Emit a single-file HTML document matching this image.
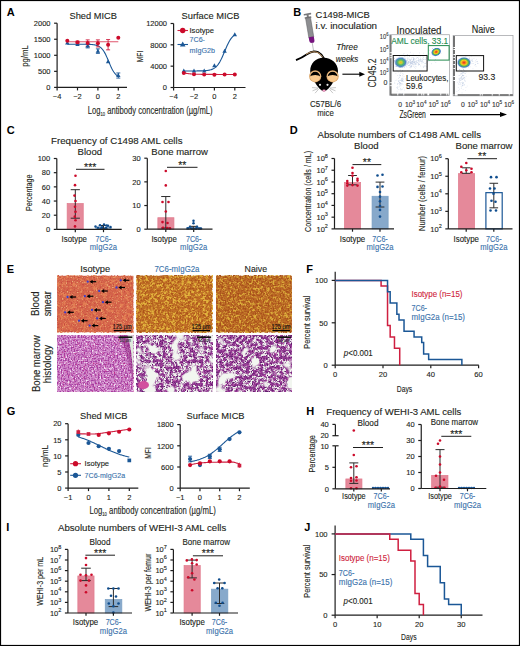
<!DOCTYPE html>
<html><head><meta charset="utf-8"><style>
html,body{margin:0;padding:0;background:#fff;}
svg{display:block;}
text{font-family:"Liberation Sans", sans-serif;}
</style></head><body>
<svg width="520" height="646" viewBox="0 0 520 646" fill="#231f20">
<rect x="0" y="0" width="520" height="646" fill="#fff"/>
<text x="6.80" y="16.00" font-size="11" fill="#000" font-weight="bold" >A</text>
<text x="93.20" y="19.40" font-size="9.6" text-anchor="middle" stroke="#231f20" stroke-width="0.12" textLength="47.5" lengthAdjust="spacingAndGlyphs" >Shed MICB</text>
<line x1="57.10" y1="23.20" x2="57.10" y2="87.40" stroke="#1e1e1e" stroke-width="1.2" />
<line x1="54.10" y1="23.20" x2="57.10" y2="23.20" stroke="#1e1e1e" stroke-width="1.2" />
<text stroke="#231f20" stroke-width="0.12" x="50.50" y="25.90" font-size="7.5" text-anchor="end">2000</text>
<line x1="54.10" y1="39.25" x2="57.10" y2="39.25" stroke="#1e1e1e" stroke-width="1.2" />
<text stroke="#231f20" stroke-width="0.12" x="50.50" y="41.95" font-size="7.5" text-anchor="end">1500</text>
<line x1="54.10" y1="55.30" x2="57.10" y2="55.30" stroke="#1e1e1e" stroke-width="1.2" />
<text stroke="#231f20" stroke-width="0.12" x="50.50" y="58.00" font-size="7.5" text-anchor="end">1000</text>
<line x1="54.10" y1="71.35" x2="57.10" y2="71.35" stroke="#1e1e1e" stroke-width="1.2" />
<text stroke="#231f20" stroke-width="0.12" x="50.50" y="74.05" font-size="7.5" text-anchor="end">500</text>
<line x1="54.10" y1="87.40" x2="57.10" y2="87.40" stroke="#1e1e1e" stroke-width="1.2" />
<text stroke="#231f20" stroke-width="0.12" x="50.50" y="90.10" font-size="7.5" text-anchor="end">0</text>
<line x1="57.10" y1="87.40" x2="127.00" y2="87.40" stroke="#1e1e1e" stroke-width="1.2" />
<line x1="57.10" y1="87.40" x2="57.10" y2="90.40" stroke="#1e1e1e" stroke-width="1.2" />
<text x="57.10" y="99.00" font-size="7.5" text-anchor="middle" stroke="#231f20" stroke-width="0.12" >−4</text>
<line x1="77.50" y1="87.40" x2="77.50" y2="90.40" stroke="#1e1e1e" stroke-width="1.2" />
<text x="77.50" y="99.00" font-size="7.5" text-anchor="middle" stroke="#231f20" stroke-width="0.12" >−2</text>
<line x1="97.90" y1="87.40" x2="97.90" y2="90.40" stroke="#1e1e1e" stroke-width="1.2" />
<text x="97.90" y="99.00" font-size="7.5" text-anchor="middle" stroke="#231f20" stroke-width="0.12" >0</text>
<line x1="118.30" y1="87.40" x2="118.30" y2="90.40" stroke="#1e1e1e" stroke-width="1.2" />
<text x="118.30" y="99.00" font-size="7.5" text-anchor="middle" stroke="#231f20" stroke-width="0.12" >2</text>
<text x="28.00" y="56.00" font-size="9.5" text-anchor="middle" stroke="#231f20" stroke-width="0.12" textLength="21.5" lengthAdjust="spacingAndGlyphs" transform="rotate(-90 28.00 56.00)" >pg/mL</text>
<path d="M67.30,44.23 L67.94,44.23 L68.58,44.23 L69.21,44.23 L69.85,44.23 L70.49,44.23 L71.12,44.23 L71.76,44.23 L72.40,44.23 L73.04,44.23 L73.67,44.23 L74.31,44.23 L74.95,44.23 L75.59,44.23 L76.22,44.23 L76.86,44.23 L77.50,44.23 L78.14,44.23 L78.78,44.23 L79.41,44.23 L80.05,44.24 L80.69,44.24 L81.33,44.24 L81.96,44.24 L82.60,44.25 L83.24,44.25 L83.88,44.26 L84.51,44.26 L85.15,44.27 L85.79,44.28 L86.42,44.29 L87.06,44.30 L87.70,44.32 L88.34,44.34 L88.97,44.36 L89.61,44.39 L90.25,44.42 L90.89,44.45 L91.53,44.50 L92.16,44.55 L92.80,44.62 L93.44,44.69 L94.07,44.78 L94.71,44.89 L95.35,45.02 L95.99,45.17 L96.62,45.35 L97.26,45.56 L97.90,45.81 L98.54,46.11 L99.17,46.46 L99.81,46.86 L100.45,47.33 L101.09,47.88 L101.72,48.51 L102.36,49.23 L103.00,50.05 L103.64,50.97 L104.28,52.00 L104.91,53.13 L105.55,54.37 L106.19,55.69 L106.82,57.10 L107.46,58.58 L108.10,60.09 L108.74,61.63 L109.38,63.16 L110.01,64.66 L110.65,66.11 L111.29,67.49 L111.92,68.78 L112.56,69.97 L113.20,71.06 L113.84,72.05 L114.47,72.93 L115.11,73.71 L115.75,74.39 L116.39,74.99 L117.03,75.50 L117.66,75.95 L118.30,76.33" stroke="#1b5796" stroke-width="1.1" fill="none" />
<line x1="67.30" y1="41.82" x2="118.30" y2="41.82" stroke="#e0566e" stroke-width="1.1" />
<line x1="87.70" y1="44.06" x2="87.70" y2="47.92" stroke="#1b5796" stroke-width="0.9" />
<line x1="85.70" y1="44.06" x2="89.70" y2="44.06" stroke="#1b5796" stroke-width="0.9" />
<line x1="85.70" y1="47.92" x2="89.70" y2="47.92" stroke="#1b5796" stroke-width="0.9" />
<line x1="97.90" y1="48.88" x2="97.90" y2="53.37" stroke="#1b5796" stroke-width="0.9" />
<line x1="95.90" y1="48.88" x2="99.90" y2="48.88" stroke="#1b5796" stroke-width="0.9" />
<line x1="95.90" y1="53.37" x2="99.90" y2="53.37" stroke="#1b5796" stroke-width="0.9" />
<line x1="118.30" y1="72.96" x2="118.30" y2="78.09" stroke="#1b5796" stroke-width="0.9" />
<line x1="116.30" y1="72.96" x2="120.30" y2="72.96" stroke="#1b5796" stroke-width="0.9" />
<line x1="116.30" y1="78.09" x2="120.30" y2="78.09" stroke="#1b5796" stroke-width="0.9" />
<line x1="87.70" y1="39.89" x2="87.70" y2="46.31" stroke="#cf1f40" stroke-width="0.9" />
<line x1="85.70" y1="39.89" x2="89.70" y2="39.89" stroke="#cf1f40" stroke-width="0.9" />
<line x1="85.70" y1="46.31" x2="89.70" y2="46.31" stroke="#cf1f40" stroke-width="0.9" />
<line x1="97.90" y1="39.89" x2="97.90" y2="46.95" stroke="#cf1f40" stroke-width="0.9" />
<line x1="95.90" y1="39.89" x2="99.90" y2="39.89" stroke="#cf1f40" stroke-width="0.9" />
<line x1="95.90" y1="46.95" x2="99.90" y2="46.95" stroke="#cf1f40" stroke-width="0.9" />
<line x1="108.10" y1="39.57" x2="108.10" y2="49.84" stroke="#cf1f40" stroke-width="0.9" />
<line x1="106.10" y1="39.57" x2="110.10" y2="39.57" stroke="#cf1f40" stroke-width="0.9" />
<line x1="106.10" y1="49.84" x2="110.10" y2="49.84" stroke="#cf1f40" stroke-width="0.9" />
<line x1="77.50" y1="41.18" x2="77.50" y2="43.74" stroke="#cf1f40" stroke-width="0.9" />
<line x1="75.50" y1="41.18" x2="79.50" y2="41.18" stroke="#cf1f40" stroke-width="0.9" />
<line x1="75.50" y1="43.74" x2="79.50" y2="43.74" stroke="#cf1f40" stroke-width="0.9" />
<path d="M67.30,40.65 L69.50,44.61 L65.10,44.61 Z" fill="#1b5796"/>
<path d="M77.50,41.93 L79.70,45.89 L75.30,45.89 Z" fill="#1b5796"/>
<path d="M87.70,43.54 L89.90,47.50 L85.50,47.50 Z" fill="#1b5796"/>
<path d="M97.90,48.67 L100.10,52.63 L95.70,52.63 Z" fill="#1b5796"/>
<path d="M108.10,59.26 L110.30,63.22 L105.90,63.22 Z" fill="#1b5796"/>
<path d="M118.30,73.07 L120.50,77.03 L116.10,77.03 Z" fill="#1b5796"/>
<circle cx="67.30" cy="40.69" r="2.0" fill="#cc0a2a" />
<circle cx="77.50" cy="42.14" r="2.0" fill="#cc0a2a" />
<circle cx="87.70" cy="42.94" r="2.0" fill="#cc0a2a" />
<circle cx="97.90" cy="43.26" r="2.0" fill="#cc0a2a" />
<circle cx="108.10" cy="44.71" r="2.0" fill="#cc0a2a" />
<circle cx="118.30" cy="37.65" r="2.0" fill="#cc0a2a" />
<text x="210.50" y="19.40" font-size="9.6" text-anchor="middle" stroke="#231f20" stroke-width="0.12" textLength="58" lengthAdjust="spacingAndGlyphs" >Surface MICB</text>
<line x1="173.60" y1="23.50" x2="173.60" y2="87.50" stroke="#1e1e1e" stroke-width="1.2" />
<line x1="170.60" y1="23.50" x2="173.60" y2="23.50" stroke="#1e1e1e" stroke-width="1.2" />
<text stroke="#231f20" stroke-width="0.12" x="167.00" y="26.20" font-size="7.5" text-anchor="end">12000</text>
<line x1="170.60" y1="44.83" x2="173.60" y2="44.83" stroke="#1e1e1e" stroke-width="1.2" />
<text stroke="#231f20" stroke-width="0.12" x="167.00" y="47.53" font-size="7.5" text-anchor="end">8000</text>
<line x1="170.60" y1="66.17" x2="173.60" y2="66.17" stroke="#1e1e1e" stroke-width="1.2" />
<text stroke="#231f20" stroke-width="0.12" x="167.00" y="68.87" font-size="7.5" text-anchor="end">4000</text>
<line x1="170.60" y1="87.50" x2="173.60" y2="87.50" stroke="#1e1e1e" stroke-width="1.2" />
<text stroke="#231f20" stroke-width="0.12" x="167.00" y="90.20" font-size="7.5" text-anchor="end">0</text>
<line x1="173.60" y1="87.50" x2="245.50" y2="87.50" stroke="#1e1e1e" stroke-width="1.2" />
<line x1="173.60" y1="87.50" x2="173.60" y2="90.50" stroke="#1e1e1e" stroke-width="1.2" />
<text x="173.60" y="99.10" font-size="7.5" text-anchor="middle" stroke="#231f20" stroke-width="0.12" >−4</text>
<line x1="194.00" y1="87.50" x2="194.00" y2="90.50" stroke="#1e1e1e" stroke-width="1.2" />
<text x="194.00" y="99.10" font-size="7.5" text-anchor="middle" stroke="#231f20" stroke-width="0.12" >−2</text>
<line x1="214.40" y1="87.50" x2="214.40" y2="90.50" stroke="#1e1e1e" stroke-width="1.2" />
<text x="214.40" y="99.10" font-size="7.5" text-anchor="middle" stroke="#231f20" stroke-width="0.12" >0</text>
<line x1="234.80" y1="87.50" x2="234.80" y2="90.50" stroke="#1e1e1e" stroke-width="1.2" />
<text x="234.80" y="99.10" font-size="7.5" text-anchor="middle" stroke="#231f20" stroke-width="0.12" >2</text>
<text x="143.00" y="56.50" font-size="9.5" text-anchor="middle" stroke="#231f20" stroke-width="0.12" textLength="11.5" lengthAdjust="spacingAndGlyphs" transform="rotate(-90 143.00 56.50)" >MFI</text>
<path d="M183.80,70.97 L184.44,70.96 L185.07,70.96 L185.71,70.96 L186.35,70.96 L186.99,70.96 L187.62,70.96 L188.26,70.96 L188.90,70.96 L189.54,70.96 L190.17,70.96 L190.81,70.96 L191.45,70.96 L192.09,70.95 L192.72,70.95 L193.36,70.95 L194.00,70.95 L194.64,70.94 L195.27,70.94 L195.91,70.94 L196.55,70.93 L197.19,70.92 L197.82,70.92 L198.46,70.91 L199.10,70.90 L199.74,70.89 L200.38,70.87 L201.01,70.86 L201.65,70.84 L202.29,70.81 L202.92,70.79 L203.56,70.76 L204.20,70.72 L204.84,70.68 L205.47,70.63 L206.11,70.58 L206.75,70.51 L207.39,70.43 L208.02,70.34 L208.66,70.24 L209.30,70.11 L209.94,69.97 L210.57,69.81 L211.21,69.61 L211.85,69.39 L212.49,69.13 L213.12,68.84 L213.76,68.49 L214.40,68.10 L215.04,67.65 L215.67,67.14 L216.31,66.56 L216.95,65.90 L217.59,65.16 L218.22,64.33 L218.86,63.42 L219.50,62.41 L220.14,61.30 L220.77,60.11 L221.41,58.83 L222.05,57.47 L222.69,56.04 L223.32,54.56 L223.96,53.04 L224.60,51.50 L225.24,49.96 L225.88,48.44 L226.51,46.96 L227.15,45.53 L227.79,44.17 L228.42,42.89 L229.06,41.70 L229.70,40.59 L230.34,39.58 L230.97,38.67 L231.61,37.84 L232.25,37.10 L232.89,36.44 L233.52,35.86 L234.16,35.35 L234.80,34.90" stroke="#1b5796" stroke-width="1.1" fill="none" />
<path d="M183.80,72.83 L184.44,72.99 L185.07,73.12 L185.71,73.25 L186.35,73.36 L186.99,73.46 L187.62,73.56 L188.26,73.64 L188.90,73.71 L189.54,73.78 L190.17,73.84 L190.81,73.90 L191.45,73.95 L192.09,74.00 L192.72,74.04 L193.36,74.08 L194.00,74.11 L194.64,74.14 L195.27,74.17 L195.91,74.19 L196.55,74.22 L197.19,74.24 L197.82,74.26 L198.46,74.27 L199.10,74.29 L199.74,74.30 L200.38,74.31 L201.01,74.33 L201.65,74.34 L202.29,74.35 L202.92,74.35 L203.56,74.36 L204.20,74.37 L204.84,74.37 L205.47,74.38 L206.11,74.39 L206.75,74.39 L207.39,74.39 L208.02,74.40 L208.66,74.40 L209.30,74.40 L209.94,74.41 L210.57,74.41 L211.21,74.41 L211.85,74.41 L212.49,74.42 L213.12,74.42 L213.76,74.42 L214.40,74.42 L215.04,74.42 L215.67,74.42 L216.31,74.42 L216.95,74.42 L217.59,74.43 L218.22,74.43 L218.86,74.43 L219.50,74.43 L220.14,74.43 L220.77,74.43 L221.41,74.43 L222.05,74.43 L222.69,74.43 L223.32,74.43 L223.96,74.43 L224.60,74.43 L225.24,74.43 L225.88,74.43 L226.51,74.43 L227.15,74.43 L227.79,74.43 L228.42,74.43 L229.06,74.43 L229.70,74.43 L230.34,74.43 L230.97,74.43 L231.61,74.43 L232.25,74.43 L232.89,74.43 L233.52,74.43 L234.16,74.43 L234.80,74.43" stroke="#cf1f40" stroke-width="1.1" fill="none" />
<path d="M183.80,68.51 L186.00,72.47 L181.60,72.47 Z" fill="#1b5796"/>
<path d="M194.00,68.51 L196.20,72.47 L191.80,72.47 Z" fill="#1b5796"/>
<path d="M204.20,68.51 L206.40,72.47 L202.00,72.47 Z" fill="#1b5796"/>
<path d="M214.40,63.18 L216.60,67.14 L212.20,67.14 Z" fill="#1b5796"/>
<path d="M224.60,48.78 L226.80,52.74 L222.40,52.74 Z" fill="#1b5796"/>
<path d="M234.80,32.24 L237.00,36.20 L232.60,36.20 Z" fill="#1b5796"/>
<circle cx="183.80" cy="73.10" r="2.0" fill="#cc0a2a" />
<circle cx="194.00" cy="74.17" r="2.0" fill="#cc0a2a" />
<circle cx="204.20" cy="74.43" r="2.0" fill="#cc0a2a" />
<circle cx="214.40" cy="74.70" r="2.0" fill="#cc0a2a" />
<circle cx="224.60" cy="74.43" r="2.0" fill="#cc0a2a" />
<circle cx="234.80" cy="74.43" r="2.0" fill="#cc0a2a" />
<line x1="177.50" y1="30.50" x2="188.00" y2="30.50" stroke="#cf1f40" stroke-width="1.1" />
<circle cx="182.70" cy="30.50" r="2.7" fill="#cc0a2a" />
<text x="189.50" y="33.30" font-size="7.8" stroke="#231f20" stroke-width="0.12" textLength="24.5" lengthAdjust="spacingAndGlyphs" >Isotype</text>
<line x1="177.50" y1="44.50" x2="188.00" y2="44.50" stroke="#1b5796" stroke-width="1.1" />
<path d="M182.70,41.38 L185.50,46.42 L179.90,46.42 Z" fill="#1b5796"/>
<text x="189.50" y="42.40" font-size="7.8" fill="#3a72ab" stroke="#3a72ab" stroke-width="0.12" textLength="15.5" lengthAdjust="spacingAndGlyphs" >7C6-</text>
<text x="189.50" y="52.60" font-size="7.8" fill="#3a72ab" stroke="#3a72ab" stroke-width="0.12" textLength="25.5" lengthAdjust="spacingAndGlyphs" >mIgG2b</text>
<text stroke="#231f20" stroke-width="0.12" x="87.8" y="114" font-size="10.2" textLength="124.8" lengthAdjust="spacingAndGlyphs">Log<tspan dy="2" font-size="5.5">10</tspan><tspan dy="-2"> antibody concentration (µg/mL)</tspan></text>
<text x="293.20" y="16.00" font-size="11" fill="#000" font-weight="bold" >B</text>
<text x="315.60" y="17.60" font-size="9.6" stroke="#231f20" stroke-width="0.12" textLength="54.3" lengthAdjust="spacingAndGlyphs" >C1498-MICB</text>
<text x="315.60" y="29.00" font-size="9.6" stroke="#231f20" stroke-width="0.12" textLength="61.5" lengthAdjust="spacingAndGlyphs" >i.v. inoculation</text>
<g transform="translate(307.3,13.4) rotate(-9.5)"><rect x="-3.8" y="0" width="7.6" height="1.6" rx="0.6" fill="#77787b"/><rect x="-1" y="1" width="2" height="3" fill="#77787b"/><rect x="-3.4" y="3.4" width="6.8" height="1.5" rx="0.5" fill="#77787b"/><rect x="-2.5" y="4.6" width="5" height="19.6" fill="#8d8e91" stroke="#5c5d60" stroke-width="0.5"/><path d="M-2.6,23.8 H2.6 V27.6 Q2.6,30 0,30 Q-2.6,30 -2.6,27.6 Z" fill="#76137e"/><line x1="0" y1="29.5" x2="0" y2="38.5" stroke="#a6a7aa" stroke-width="0.7"/></g>
<path d="M296,60.2 C300,58.5 303,57 307,54.2 C310,52 314,50.6 318,52.2 C320.5,53.4 322.5,56 324,58.5" stroke="#000" stroke-width="1.9" fill="none" />
<path d="M306,54.4 C309,52.4 313.5,51 317.3,52.4 C319.8,53.5 321.5,55.3 322.7,57.4" stroke="#e0ad73" stroke-width="0.9" fill="none" />
<path d="M323.6,57.8 C331.6,57.8 338,63.5 338,71 C338,75.5 335.6,79.5 333,82.5 C330.5,86.5 327.5,90.6 324,91.6 C320.5,90.6 317.5,86.5 315,82.5 C312.4,79.5 310.2,75.5 310.2,71 C310.2,63.5 315.6,57.8 323.6,57.8 Z" stroke="none" stroke-width="0" fill="#000" />
<circle cx="315.20" cy="76.30" r="6.1" fill="#d9a468" />
<circle cx="315.20" cy="76.30" r="5.4" fill="#f9ca90" />
<path d="M310.30,76.60 A4.9,4.9 0 0 1 320.10,76.60 A5.0,2.0 0 0 0 310.30,76.60 Z" stroke="none" stroke-width="0" fill="#000" />
<circle cx="332.60" cy="76.30" r="6.1" fill="#d9a468" />
<circle cx="332.60" cy="76.30" r="5.4" fill="#f9ca90" />
<path d="M327.70,76.60 A4.9,4.9 0 0 1 337.50,76.60 A5.0,2.0 0 0 0 327.70,76.60 Z" stroke="none" stroke-width="0" fill="#000" />
<circle cx="320.00" cy="84.80" r="1.1" fill="#e9e9e9" />
<circle cx="327.50" cy="84.80" r="1.1" fill="#e9e9e9" />
<ellipse cx="324" cy="90.7" rx="1.7" ry="1.1" fill="#f5a0c8"/>
<line x1="318.00" y1="88.00" x2="312.00" y2="87.60" stroke="#8e8e8e" stroke-width="0.5" />
<line x1="318.00" y1="88.60" x2="312.50" y2="90.80" stroke="#8e8e8e" stroke-width="0.5" />
<line x1="318.60" y1="89.20" x2="315.00" y2="93.20" stroke="#8e8e8e" stroke-width="0.5" />
<line x1="330.00" y1="88.00" x2="336.00" y2="87.60" stroke="#8e8e8e" stroke-width="0.5" />
<line x1="330.00" y1="88.60" x2="335.50" y2="90.80" stroke="#8e8e8e" stroke-width="0.5" />
<line x1="329.40" y1="89.20" x2="333.00" y2="93.20" stroke="#8e8e8e" stroke-width="0.5" />
<line x1="342.40" y1="74.20" x2="361.50" y2="74.20" stroke="#000" stroke-width="1.1" />
<path d="M365,74.2 L359.3,71.7 L359.3,76.7 Z" fill="#000"/>
<text x="347.00" y="50.30" font-size="9" text-anchor="middle" stroke="#231f20" stroke-width="0.12" font-style="italic" textLength="21.5" lengthAdjust="spacingAndGlyphs" >Three</text>
<text x="347.00" y="61.50" font-size="9" text-anchor="middle" stroke="#231f20" stroke-width="0.12" font-style="italic" textLength="22.5" lengthAdjust="spacingAndGlyphs" >weeks</text>
<text x="325.60" y="106.50" font-size="9" text-anchor="middle" stroke="#231f20" stroke-width="0.12" textLength="31" lengthAdjust="spacingAndGlyphs" >C57BL/6</text>
<text x="325.60" y="116.30" font-size="9" text-anchor="middle" stroke="#231f20" stroke-width="0.12" textLength="16.5" lengthAdjust="spacingAndGlyphs" >mice</text>
<defs><radialGradient id="gl"><stop offset="0" stop-color="#f3b31c"/><stop offset="0.2" stop-color="#c6d23a"/><stop offset="0.45" stop-color="#52b56a"/><stop offset="0.72" stop-color="#4c86c4"/><stop offset="1" stop-color="#9db3dc" stop-opacity="0"/></radialGradient><radialGradient id="gr"><stop offset="0" stop-color="#e4261c"/><stop offset="0.22" stop-color="#f47b20"/><stop offset="0.42" stop-color="#f2d01f"/><stop offset="0.6" stop-color="#5cb94a"/><stop offset="0.8" stop-color="#3f7fc4"/><stop offset="1" stop-color="#9db3dc" stop-opacity="0"/></radialGradient></defs>
<rect x="389.80" y="34.70" width="59.80" height="60.80" fill="none" stroke="#a7a9ac" stroke-width="0.8" />
<line x1="389.80" y1="35.70" x2="391.60" y2="35.70" stroke="#000" stroke-width="0.55" />
<line x1="389.80" y1="36.70" x2="391.60" y2="36.70" stroke="#000" stroke-width="0.55" />
<line x1="389.80" y1="37.70" x2="391.60" y2="37.70" stroke="#000" stroke-width="0.55" />
<line x1="389.80" y1="38.70" x2="391.60" y2="38.70" stroke="#000" stroke-width="0.55" />
<line x1="389.80" y1="39.70" x2="391.60" y2="39.70" stroke="#000" stroke-width="0.55" />
<line x1="389.80" y1="40.70" x2="391.60" y2="40.70" stroke="#000" stroke-width="0.55" />
<line x1="389.80" y1="41.70" x2="391.60" y2="41.70" stroke="#000" stroke-width="0.55" />
<line x1="389.80" y1="42.70" x2="391.60" y2="42.70" stroke="#000" stroke-width="0.55" />
<line x1="389.80" y1="43.70" x2="391.60" y2="43.70" stroke="#000" stroke-width="0.55" />
<line x1="389.80" y1="44.70" x2="391.60" y2="44.70" stroke="#000" stroke-width="0.55" />
<line x1="389.80" y1="45.70" x2="391.60" y2="45.70" stroke="#000" stroke-width="0.55" />
<line x1="389.80" y1="46.70" x2="391.60" y2="46.70" stroke="#000" stroke-width="0.55" />
<line x1="389.80" y1="47.70" x2="391.60" y2="47.70" stroke="#000" stroke-width="0.55" />
<line x1="389.80" y1="48.70" x2="391.60" y2="48.70" stroke="#000" stroke-width="0.55" />
<line x1="389.80" y1="49.70" x2="391.60" y2="49.70" stroke="#000" stroke-width="0.55" />
<line x1="389.80" y1="50.70" x2="391.60" y2="50.70" stroke="#000" stroke-width="0.55" />
<line x1="389.80" y1="51.70" x2="391.60" y2="51.70" stroke="#000" stroke-width="0.55" />
<line x1="389.80" y1="53.70" x2="391.60" y2="53.70" stroke="#000" stroke-width="0.55" />
<line x1="389.80" y1="54.70" x2="391.60" y2="54.70" stroke="#000" stroke-width="0.55" />
<line x1="389.80" y1="56.70" x2="391.60" y2="56.70" stroke="#000" stroke-width="0.55" />
<line x1="389.80" y1="58.70" x2="391.60" y2="58.70" stroke="#000" stroke-width="0.55" />
<line x1="389.80" y1="59.70" x2="391.60" y2="59.70" stroke="#000" stroke-width="0.55" />
<line x1="389.80" y1="60.70" x2="391.60" y2="60.70" stroke="#000" stroke-width="0.55" />
<line x1="389.80" y1="61.70" x2="391.60" y2="61.70" stroke="#000" stroke-width="0.55" />
<line x1="389.80" y1="62.70" x2="391.60" y2="62.70" stroke="#000" stroke-width="0.55" />
<line x1="389.80" y1="63.70" x2="391.60" y2="63.70" stroke="#000" stroke-width="0.55" />
<line x1="389.80" y1="64.70" x2="391.60" y2="64.70" stroke="#000" stroke-width="0.55" />
<line x1="389.80" y1="65.70" x2="391.60" y2="65.70" stroke="#000" stroke-width="0.55" />
<line x1="389.80" y1="66.70" x2="391.60" y2="66.70" stroke="#000" stroke-width="0.55" />
<line x1="389.80" y1="67.70" x2="391.60" y2="67.70" stroke="#000" stroke-width="0.55" />
<line x1="389.80" y1="68.70" x2="391.60" y2="68.70" stroke="#000" stroke-width="0.55" />
<line x1="389.80" y1="69.70" x2="391.60" y2="69.70" stroke="#000" stroke-width="0.55" />
<line x1="389.80" y1="70.70" x2="391.60" y2="70.70" stroke="#000" stroke-width="0.55" />
<line x1="389.80" y1="71.70" x2="391.60" y2="71.70" stroke="#000" stroke-width="0.55" />
<line x1="389.80" y1="72.70" x2="391.60" y2="72.70" stroke="#000" stroke-width="0.55" />
<line x1="389.80" y1="73.70" x2="391.60" y2="73.70" stroke="#000" stroke-width="0.55" />
<line x1="389.80" y1="74.70" x2="391.60" y2="74.70" stroke="#000" stroke-width="0.55" />
<line x1="389.80" y1="75.70" x2="391.60" y2="75.70" stroke="#000" stroke-width="0.55" />
<line x1="389.80" y1="76.70" x2="391.60" y2="76.70" stroke="#000" stroke-width="0.55" />
<line x1="389.80" y1="77.70" x2="391.60" y2="77.70" stroke="#000" stroke-width="0.55" />
<line x1="389.80" y1="78.70" x2="391.60" y2="78.70" stroke="#000" stroke-width="0.55" />
<line x1="389.80" y1="79.70" x2="391.60" y2="79.70" stroke="#000" stroke-width="0.55" />
<line x1="389.80" y1="80.70" x2="391.60" y2="80.70" stroke="#000" stroke-width="0.55" />
<line x1="389.80" y1="81.70" x2="391.60" y2="81.70" stroke="#000" stroke-width="0.55" />
<line x1="389.80" y1="83.70" x2="391.60" y2="83.70" stroke="#000" stroke-width="0.55" />
<line x1="389.80" y1="84.70" x2="391.60" y2="84.70" stroke="#000" stroke-width="0.55" />
<line x1="389.80" y1="86.70" x2="391.60" y2="86.70" stroke="#000" stroke-width="0.55" />
<line x1="389.80" y1="87.70" x2="391.60" y2="87.70" stroke="#000" stroke-width="0.55" />
<line x1="389.80" y1="88.70" x2="391.60" y2="88.70" stroke="#000" stroke-width="0.55" />
<line x1="389.80" y1="89.70" x2="391.60" y2="89.70" stroke="#000" stroke-width="0.55" />
<line x1="389.80" y1="90.70" x2="391.60" y2="90.70" stroke="#000" stroke-width="0.55" />
<line x1="389.80" y1="91.70" x2="391.60" y2="91.70" stroke="#000" stroke-width="0.55" />
<line x1="389.80" y1="92.70" x2="391.60" y2="92.70" stroke="#000" stroke-width="0.55" />
<line x1="389.80" y1="93.70" x2="391.60" y2="93.70" stroke="#000" stroke-width="0.55" />
<line x1="389.80" y1="94.70" x2="391.60" y2="94.70" stroke="#000" stroke-width="0.55" />
<line x1="391.80" y1="95.50" x2="391.80" y2="93.70" stroke="#000" stroke-width="0.55" />
<line x1="392.80" y1="95.50" x2="392.80" y2="93.70" stroke="#000" stroke-width="0.55" />
<line x1="393.80" y1="95.50" x2="393.80" y2="93.70" stroke="#000" stroke-width="0.55" />
<line x1="394.80" y1="95.50" x2="394.80" y2="93.70" stroke="#000" stroke-width="0.55" />
<line x1="395.80" y1="95.50" x2="395.80" y2="93.70" stroke="#000" stroke-width="0.55" />
<line x1="396.80" y1="95.50" x2="396.80" y2="93.70" stroke="#000" stroke-width="0.55" />
<line x1="398.80" y1="95.50" x2="398.80" y2="93.70" stroke="#000" stroke-width="0.55" />
<line x1="399.80" y1="95.50" x2="399.80" y2="93.70" stroke="#000" stroke-width="0.55" />
<line x1="400.80" y1="95.50" x2="400.80" y2="93.70" stroke="#000" stroke-width="0.55" />
<line x1="401.80" y1="95.50" x2="401.80" y2="93.70" stroke="#000" stroke-width="0.55" />
<line x1="402.80" y1="95.50" x2="402.80" y2="93.70" stroke="#000" stroke-width="0.55" />
<line x1="404.80" y1="95.50" x2="404.80" y2="93.70" stroke="#000" stroke-width="0.55" />
<line x1="405.80" y1="95.50" x2="405.80" y2="93.70" stroke="#000" stroke-width="0.55" />
<line x1="406.80" y1="95.50" x2="406.80" y2="93.70" stroke="#000" stroke-width="0.55" />
<line x1="407.80" y1="95.50" x2="407.80" y2="93.70" stroke="#000" stroke-width="0.55" />
<line x1="408.80" y1="95.50" x2="408.80" y2="93.70" stroke="#000" stroke-width="0.55" />
<line x1="409.80" y1="95.50" x2="409.80" y2="93.70" stroke="#000" stroke-width="0.55" />
<line x1="410.80" y1="95.50" x2="410.80" y2="93.70" stroke="#000" stroke-width="0.55" />
<line x1="411.80" y1="95.50" x2="411.80" y2="93.70" stroke="#000" stroke-width="0.55" />
<line x1="412.80" y1="95.50" x2="412.80" y2="93.70" stroke="#000" stroke-width="0.55" />
<line x1="413.80" y1="95.50" x2="413.80" y2="93.70" stroke="#000" stroke-width="0.55" />
<line x1="414.80" y1="95.50" x2="414.80" y2="93.70" stroke="#000" stroke-width="0.55" />
<line x1="415.80" y1="95.50" x2="415.80" y2="93.70" stroke="#000" stroke-width="0.55" />
<line x1="416.80" y1="95.50" x2="416.80" y2="93.70" stroke="#000" stroke-width="0.55" />
<line x1="418.80" y1="95.50" x2="418.80" y2="93.70" stroke="#000" stroke-width="0.55" />
<line x1="419.80" y1="95.50" x2="419.80" y2="93.70" stroke="#000" stroke-width="0.55" />
<line x1="420.80" y1="95.50" x2="420.80" y2="93.70" stroke="#000" stroke-width="0.55" />
<line x1="422.80" y1="95.50" x2="422.80" y2="93.70" stroke="#000" stroke-width="0.55" />
<line x1="424.80" y1="95.50" x2="424.80" y2="93.70" stroke="#000" stroke-width="0.55" />
<line x1="425.80" y1="95.50" x2="425.80" y2="93.70" stroke="#000" stroke-width="0.55" />
<line x1="426.80" y1="95.50" x2="426.80" y2="93.70" stroke="#000" stroke-width="0.55" />
<line x1="429.80" y1="95.50" x2="429.80" y2="93.70" stroke="#000" stroke-width="0.55" />
<line x1="430.80" y1="95.50" x2="430.80" y2="93.70" stroke="#000" stroke-width="0.55" />
<line x1="431.80" y1="95.50" x2="431.80" y2="93.70" stroke="#000" stroke-width="0.55" />
<line x1="432.80" y1="95.50" x2="432.80" y2="93.70" stroke="#000" stroke-width="0.55" />
<line x1="433.80" y1="95.50" x2="433.80" y2="93.70" stroke="#000" stroke-width="0.55" />
<line x1="434.80" y1="95.50" x2="434.80" y2="93.70" stroke="#000" stroke-width="0.55" />
<line x1="435.80" y1="95.50" x2="435.80" y2="93.70" stroke="#000" stroke-width="0.55" />
<line x1="436.80" y1="95.50" x2="436.80" y2="93.70" stroke="#000" stroke-width="0.55" />
<line x1="437.80" y1="95.50" x2="437.80" y2="93.70" stroke="#000" stroke-width="0.55" />
<line x1="438.80" y1="95.50" x2="438.80" y2="93.70" stroke="#000" stroke-width="0.55" />
<line x1="439.80" y1="95.50" x2="439.80" y2="93.70" stroke="#000" stroke-width="0.55" />
<line x1="441.80" y1="95.50" x2="441.80" y2="93.70" stroke="#000" stroke-width="0.55" />
<line x1="442.80" y1="95.50" x2="442.80" y2="93.70" stroke="#000" stroke-width="0.55" />
<line x1="443.80" y1="95.50" x2="443.80" y2="93.70" stroke="#000" stroke-width="0.55" />
<line x1="444.80" y1="95.50" x2="444.80" y2="93.70" stroke="#000" stroke-width="0.55" />
<line x1="445.80" y1="95.50" x2="445.80" y2="93.70" stroke="#000" stroke-width="0.55" />
<line x1="447.80" y1="95.50" x2="447.80" y2="93.70" stroke="#000" stroke-width="0.55" />
<circle cx="414.66" cy="58.26" r="0.35" fill="#7b97c6" fill-opacity="0.55"/>
<circle cx="408.61" cy="62.44" r="0.35" fill="#7b97c6" fill-opacity="0.55"/>
<circle cx="409.86" cy="60.59" r="0.35" fill="#7b97c6" fill-opacity="0.55"/>
<circle cx="417.62" cy="62.46" r="0.35" fill="#7b97c6" fill-opacity="0.55"/>
<circle cx="416.30" cy="64.14" r="0.35" fill="#7b97c6" fill-opacity="0.55"/>
<circle cx="412.18" cy="61.52" r="0.35" fill="#7b97c6" fill-opacity="0.55"/>
<circle cx="414.42" cy="62.78" r="0.35" fill="#7b97c6" fill-opacity="0.55"/>
<circle cx="410.66" cy="62.08" r="0.35" fill="#7b97c6" fill-opacity="0.55"/>
<circle cx="420.74" cy="58.17" r="0.35" fill="#7b97c6" fill-opacity="0.55"/>
<circle cx="416.08" cy="63.58" r="0.35" fill="#7b97c6" fill-opacity="0.55"/>
<circle cx="407.08" cy="64.15" r="0.35" fill="#7b97c6" fill-opacity="0.55"/>
<circle cx="424.54" cy="66.11" r="0.35" fill="#7b97c6" fill-opacity="0.55"/>
<circle cx="422.07" cy="61.34" r="0.35" fill="#7b97c6" fill-opacity="0.55"/>
<circle cx="408.21" cy="61.65" r="0.35" fill="#7b97c6" fill-opacity="0.55"/>
<circle cx="418.60" cy="63.37" r="0.35" fill="#7b97c6" fill-opacity="0.55"/>
<circle cx="410.43" cy="67.86" r="0.35" fill="#7b97c6" fill-opacity="0.55"/>
<circle cx="413.03" cy="62.12" r="0.35" fill="#7b97c6" fill-opacity="0.55"/>
<circle cx="422.51" cy="60.24" r="0.35" fill="#7b97c6" fill-opacity="0.55"/>
<circle cx="418.81" cy="64.89" r="0.35" fill="#7b97c6" fill-opacity="0.55"/>
<circle cx="422.87" cy="62.20" r="0.35" fill="#7b97c6" fill-opacity="0.55"/>
<circle cx="429.79" cy="60.59" r="0.35" fill="#7b97c6" fill-opacity="0.55"/>
<circle cx="409.68" cy="59.00" r="0.35" fill="#7b97c6" fill-opacity="0.55"/>
<circle cx="408.36" cy="63.03" r="0.35" fill="#7b97c6" fill-opacity="0.55"/>
<circle cx="413.53" cy="57.35" r="0.35" fill="#7b97c6" fill-opacity="0.55"/>
<circle cx="413.46" cy="58.51" r="0.35" fill="#7b97c6" fill-opacity="0.55"/>
<circle cx="414.77" cy="67.62" r="0.35" fill="#7b97c6" fill-opacity="0.55"/>
<circle cx="429.53" cy="60.87" r="0.35" fill="#7b97c6" fill-opacity="0.55"/>
<circle cx="417.74" cy="55.61" r="0.35" fill="#7b97c6" fill-opacity="0.55"/>
<circle cx="411.59" cy="59.07" r="0.35" fill="#7b97c6" fill-opacity="0.55"/>
<circle cx="403.61" cy="61.15" r="0.35" fill="#7b97c6" fill-opacity="0.55"/>
<circle cx="414.11" cy="61.65" r="0.35" fill="#7b97c6" fill-opacity="0.55"/>
<circle cx="410.72" cy="64.09" r="0.35" fill="#7b97c6" fill-opacity="0.55"/>
<circle cx="404.04" cy="53.54" r="0.35" fill="#7b97c6" fill-opacity="0.55"/>
<circle cx="391.99" cy="64.10" r="0.35" fill="#7b97c6" fill-opacity="0.55"/>
<circle cx="434.35" cy="60.86" r="0.35" fill="#7b97c6" fill-opacity="0.55"/>
<circle cx="407.81" cy="63.30" r="0.35" fill="#7b97c6" fill-opacity="0.55"/>
<circle cx="412.86" cy="63.73" r="0.35" fill="#7b97c6" fill-opacity="0.55"/>
<circle cx="415.56" cy="66.06" r="0.35" fill="#7b97c6" fill-opacity="0.55"/>
<circle cx="425.97" cy="57.68" r="0.35" fill="#7b97c6" fill-opacity="0.55"/>
<circle cx="399.01" cy="62.14" r="0.35" fill="#7b97c6" fill-opacity="0.55"/>
<circle cx="413.16" cy="60.14" r="0.35" fill="#7b97c6" fill-opacity="0.55"/>
<circle cx="401.48" cy="55.19" r="0.35" fill="#7b97c6" fill-opacity="0.55"/>
<circle cx="415.02" cy="55.95" r="0.35" fill="#7b97c6" fill-opacity="0.55"/>
<circle cx="406.41" cy="61.79" r="0.35" fill="#7b97c6" fill-opacity="0.55"/>
<circle cx="413.97" cy="58.53" r="0.35" fill="#7b97c6" fill-opacity="0.55"/>
<circle cx="419.54" cy="52.88" r="0.35" fill="#7b97c6" fill-opacity="0.55"/>
<circle cx="404.77" cy="63.60" r="0.35" fill="#7b97c6" fill-opacity="0.55"/>
<circle cx="425.66" cy="59.71" r="0.35" fill="#7b97c6" fill-opacity="0.55"/>
<circle cx="414.26" cy="63.05" r="0.35" fill="#7b97c6" fill-opacity="0.55"/>
<circle cx="423.36" cy="67.50" r="0.35" fill="#7b97c6" fill-opacity="0.55"/>
<circle cx="413.76" cy="59.71" r="0.35" fill="#7b97c6" fill-opacity="0.55"/>
<circle cx="423.66" cy="53.05" r="0.35" fill="#7b97c6" fill-opacity="0.55"/>
<circle cx="407.40" cy="58.86" r="0.35" fill="#7b97c6" fill-opacity="0.55"/>
<circle cx="407.45" cy="60.96" r="0.35" fill="#7b97c6" fill-opacity="0.55"/>
<circle cx="435.84" cy="62.31" r="0.35" fill="#7b97c6" fill-opacity="0.55"/>
<circle cx="405.51" cy="58.14" r="0.35" fill="#7b97c6" fill-opacity="0.55"/>
<circle cx="420.78" cy="60.03" r="0.35" fill="#7b97c6" fill-opacity="0.55"/>
<circle cx="423.66" cy="56.91" r="0.35" fill="#7b97c6" fill-opacity="0.55"/>
<circle cx="413.66" cy="64.01" r="0.35" fill="#7b97c6" fill-opacity="0.55"/>
<circle cx="410.22" cy="63.93" r="0.35" fill="#7b97c6" fill-opacity="0.55"/>
<circle cx="406.03" cy="60.14" r="0.35" fill="#7b97c6" fill-opacity="0.55"/>
<circle cx="407.83" cy="62.38" r="0.35" fill="#7b97c6" fill-opacity="0.55"/>
<circle cx="419.10" cy="59.80" r="0.35" fill="#7b97c6" fill-opacity="0.55"/>
<circle cx="400.50" cy="62.67" r="0.35" fill="#7b97c6" fill-opacity="0.55"/>
<circle cx="419.75" cy="59.49" r="0.35" fill="#7b97c6" fill-opacity="0.55"/>
<circle cx="421.23" cy="59.52" r="0.35" fill="#7b97c6" fill-opacity="0.55"/>
<circle cx="401.26" cy="60.68" r="0.35" fill="#7b97c6" fill-opacity="0.55"/>
<circle cx="421.63" cy="61.93" r="0.35" fill="#7b97c6" fill-opacity="0.55"/>
<circle cx="412.33" cy="61.78" r="0.35" fill="#7b97c6" fill-opacity="0.55"/>
<circle cx="413.68" cy="59.51" r="0.35" fill="#7b97c6" fill-opacity="0.55"/>
<circle cx="397.73" cy="62.41" r="0.35" fill="#7b97c6" fill-opacity="0.55"/>
<circle cx="404.50" cy="60.45" r="0.35" fill="#7b97c6" fill-opacity="0.55"/>
<circle cx="400.62" cy="61.00" r="0.35" fill="#7b97c6" fill-opacity="0.55"/>
<circle cx="412.91" cy="59.93" r="0.35" fill="#7b97c6" fill-opacity="0.55"/>
<circle cx="405.68" cy="60.55" r="0.35" fill="#7b97c6" fill-opacity="0.55"/>
<circle cx="409.39" cy="67.27" r="0.35" fill="#7b97c6" fill-opacity="0.55"/>
<circle cx="400.45" cy="61.29" r="0.35" fill="#7b97c6" fill-opacity="0.55"/>
<circle cx="413.25" cy="54.01" r="0.35" fill="#7b97c6" fill-opacity="0.55"/>
<circle cx="400.39" cy="63.13" r="0.35" fill="#7b97c6" fill-opacity="0.55"/>
<circle cx="401.22" cy="61.36" r="0.35" fill="#7b97c6" fill-opacity="0.55"/>
<circle cx="408.52" cy="58.01" r="0.35" fill="#7b97c6" fill-opacity="0.55"/>
<circle cx="401.96" cy="60.70" r="0.35" fill="#7b97c6" fill-opacity="0.55"/>
<circle cx="425.02" cy="59.61" r="0.35" fill="#7b97c6" fill-opacity="0.55"/>
<circle cx="427.34" cy="55.82" r="0.35" fill="#7b97c6" fill-opacity="0.55"/>
<circle cx="411.31" cy="65.85" r="0.35" fill="#7b97c6" fill-opacity="0.55"/>
<circle cx="428.15" cy="59.23" r="0.35" fill="#7b97c6" fill-opacity="0.55"/>
<circle cx="414.98" cy="62.81" r="0.35" fill="#7b97c6" fill-opacity="0.55"/>
<circle cx="408.74" cy="61.97" r="0.35" fill="#7b97c6" fill-opacity="0.55"/>
<circle cx="412.21" cy="62.82" r="0.35" fill="#7b97c6" fill-opacity="0.55"/>
<circle cx="404.36" cy="56.29" r="0.35" fill="#7b97c6" fill-opacity="0.55"/>
<circle cx="416.16" cy="60.31" r="0.35" fill="#7b97c6" fill-opacity="0.55"/>
<circle cx="409.21" cy="56.62" r="0.35" fill="#7b97c6" fill-opacity="0.55"/>
<circle cx="423.61" cy="67.01" r="0.35" fill="#7b97c6" fill-opacity="0.55"/>
<circle cx="418.21" cy="61.02" r="0.35" fill="#7b97c6" fill-opacity="0.55"/>
<circle cx="420.67" cy="60.49" r="0.35" fill="#7b97c6" fill-opacity="0.55"/>
<circle cx="384.81" cy="62.32" r="0.35" fill="#7b97c6" fill-opacity="0.55"/>
<circle cx="414.64" cy="59.75" r="0.35" fill="#7b97c6" fill-opacity="0.55"/>
<circle cx="402.15" cy="63.21" r="0.35" fill="#7b97c6" fill-opacity="0.55"/>
<circle cx="408.84" cy="63.40" r="0.35" fill="#7b97c6" fill-opacity="0.55"/>
<circle cx="405.99" cy="66.44" r="0.35" fill="#7b97c6" fill-opacity="0.55"/>
<circle cx="423.35" cy="62.03" r="0.35" fill="#7b97c6" fill-opacity="0.55"/>
<circle cx="410.40" cy="61.74" r="0.35" fill="#7b97c6" fill-opacity="0.55"/>
<circle cx="405.83" cy="65.65" r="0.35" fill="#7b97c6" fill-opacity="0.55"/>
<circle cx="408.73" cy="61.40" r="0.35" fill="#7b97c6" fill-opacity="0.55"/>
<circle cx="427.79" cy="60.94" r="0.35" fill="#7b97c6" fill-opacity="0.55"/>
<circle cx="416.17" cy="61.22" r="0.35" fill="#7b97c6" fill-opacity="0.55"/>
<circle cx="411.75" cy="62.46" r="0.35" fill="#7b97c6" fill-opacity="0.55"/>
<circle cx="413.29" cy="58.84" r="0.35" fill="#7b97c6" fill-opacity="0.55"/>
<circle cx="418.47" cy="64.09" r="0.35" fill="#7b97c6" fill-opacity="0.55"/>
<circle cx="426.13" cy="58.18" r="0.35" fill="#7b97c6" fill-opacity="0.55"/>
<circle cx="411.72" cy="63.43" r="0.35" fill="#7b97c6" fill-opacity="0.55"/>
<circle cx="422.23" cy="59.35" r="0.35" fill="#7b97c6" fill-opacity="0.55"/>
<circle cx="410.81" cy="60.10" r="0.35" fill="#7b97c6" fill-opacity="0.55"/>
<circle cx="424.85" cy="63.34" r="0.35" fill="#7b97c6" fill-opacity="0.55"/>
<circle cx="408.89" cy="62.10" r="0.35" fill="#7b97c6" fill-opacity="0.55"/>
<circle cx="423.82" cy="59.68" r="0.35" fill="#7b97c6" fill-opacity="0.55"/>
<circle cx="413.20" cy="60.15" r="0.35" fill="#7b97c6" fill-opacity="0.55"/>
<circle cx="414.07" cy="60.51" r="0.35" fill="#7b97c6" fill-opacity="0.55"/>
<circle cx="418.44" cy="58.66" r="0.35" fill="#7b97c6" fill-opacity="0.55"/>
<circle cx="405.93" cy="65.16" r="0.35" fill="#7b97c6" fill-opacity="0.55"/>
<circle cx="418.37" cy="60.31" r="0.35" fill="#7b97c6" fill-opacity="0.55"/>
<circle cx="419.58" cy="64.52" r="0.35" fill="#7b97c6" fill-opacity="0.55"/>
<circle cx="412.31" cy="63.13" r="0.35" fill="#7b97c6" fill-opacity="0.55"/>
<circle cx="413.53" cy="62.43" r="0.35" fill="#7b97c6" fill-opacity="0.55"/>
<circle cx="414.32" cy="64.31" r="0.35" fill="#7b97c6" fill-opacity="0.55"/>
<circle cx="406.85" cy="66.90" r="0.35" fill="#7b97c6" fill-opacity="0.55"/>
<circle cx="409.37" cy="65.38" r="0.35" fill="#7b97c6" fill-opacity="0.55"/>
<circle cx="415.64" cy="64.32" r="0.35" fill="#7b97c6" fill-opacity="0.55"/>
<circle cx="418.79" cy="61.79" r="0.35" fill="#7b97c6" fill-opacity="0.55"/>
<circle cx="426.56" cy="62.03" r="0.35" fill="#7b97c6" fill-opacity="0.55"/>
<circle cx="406.46" cy="60.81" r="0.35" fill="#7b97c6" fill-opacity="0.55"/>
<circle cx="391.24" cy="62.75" r="0.35" fill="#7b97c6" fill-opacity="0.55"/>
<circle cx="425.06" cy="65.39" r="0.35" fill="#7b97c6" fill-opacity="0.55"/>
<circle cx="402.42" cy="63.14" r="0.35" fill="#7b97c6" fill-opacity="0.55"/>
<circle cx="416.56" cy="58.57" r="0.35" fill="#7b97c6" fill-opacity="0.55"/>
<circle cx="398.28" cy="61.28" r="0.35" fill="#7b97c6" fill-opacity="0.55"/>
<circle cx="420.19" cy="61.16" r="0.35" fill="#7b97c6" fill-opacity="0.55"/>
<circle cx="418.97" cy="56.87" r="0.35" fill="#7b97c6" fill-opacity="0.55"/>
<circle cx="405.98" cy="58.89" r="0.35" fill="#7b97c6" fill-opacity="0.55"/>
<circle cx="410.27" cy="62.43" r="0.35" fill="#7b97c6" fill-opacity="0.55"/>
<circle cx="414.36" cy="62.45" r="0.35" fill="#7b97c6" fill-opacity="0.55"/>
<circle cx="411.60" cy="58.89" r="0.35" fill="#7b97c6" fill-opacity="0.55"/>
<circle cx="413.96" cy="62.72" r="0.35" fill="#7b97c6" fill-opacity="0.55"/>
<circle cx="421.87" cy="55.72" r="0.35" fill="#7b97c6" fill-opacity="0.55"/>
<circle cx="408.49" cy="59.07" r="0.35" fill="#7b97c6" fill-opacity="0.55"/>
<circle cx="412.37" cy="64.33" r="0.35" fill="#7b97c6" fill-opacity="0.55"/>
<circle cx="406.90" cy="62.00" r="0.35" fill="#7b97c6" fill-opacity="0.55"/>
<circle cx="405.37" cy="62.39" r="0.35" fill="#7b97c6" fill-opacity="0.55"/>
<circle cx="435.45" cy="59.33" r="0.35" fill="#7b97c6" fill-opacity="0.55"/>
<circle cx="405.55" cy="60.76" r="0.35" fill="#7b97c6" fill-opacity="0.55"/>
<circle cx="419.57" cy="60.87" r="0.35" fill="#7b97c6" fill-opacity="0.55"/>
<circle cx="411.74" cy="61.62" r="0.35" fill="#7b97c6" fill-opacity="0.55"/>
<circle cx="404.49" cy="64.11" r="0.35" fill="#7b97c6" fill-opacity="0.55"/>
<circle cx="405.97" cy="61.46" r="0.35" fill="#7b97c6" fill-opacity="0.55"/>
<circle cx="411.10" cy="61.49" r="0.35" fill="#7b97c6" fill-opacity="0.55"/>
<circle cx="411.65" cy="62.97" r="0.35" fill="#7b97c6" fill-opacity="0.55"/>
<circle cx="409.88" cy="62.09" r="0.35" fill="#7b97c6" fill-opacity="0.55"/>
<circle cx="419.59" cy="61.91" r="0.35" fill="#7b97c6" fill-opacity="0.55"/>
<circle cx="413.29" cy="65.99" r="0.35" fill="#7b97c6" fill-opacity="0.55"/>
<circle cx="397.25" cy="60.47" r="0.35" fill="#7b97c6" fill-opacity="0.55"/>
<circle cx="404.16" cy="56.99" r="0.35" fill="#7b97c6" fill-opacity="0.55"/>
<circle cx="418.48" cy="59.17" r="0.35" fill="#7b97c6" fill-opacity="0.55"/>
<circle cx="400.02" cy="70.23" r="0.35" fill="#7b97c6" fill-opacity="0.55"/>
<circle cx="420.53" cy="65.90" r="0.35" fill="#7b97c6" fill-opacity="0.55"/>
<circle cx="410.33" cy="60.70" r="0.35" fill="#7b97c6" fill-opacity="0.55"/>
<circle cx="421.69" cy="55.33" r="0.35" fill="#7b97c6" fill-opacity="0.55"/>
<circle cx="401.80" cy="57.53" r="0.35" fill="#7b97c6" fill-opacity="0.55"/>
<circle cx="413.88" cy="59.78" r="0.35" fill="#7b97c6" fill-opacity="0.55"/>
<circle cx="401.45" cy="60.90" r="0.35" fill="#7b97c6" fill-opacity="0.55"/>
<circle cx="420.27" cy="56.21" r="0.35" fill="#7b97c6" fill-opacity="0.55"/>
<circle cx="417.51" cy="57.51" r="0.35" fill="#7b97c6" fill-opacity="0.55"/>
<circle cx="422.66" cy="58.29" r="0.35" fill="#7b97c6" fill-opacity="0.55"/>
<circle cx="409.73" cy="59.20" r="0.35" fill="#7b97c6" fill-opacity="0.55"/>
<circle cx="416.72" cy="61.85" r="0.35" fill="#7b97c6" fill-opacity="0.55"/>
<circle cx="409.28" cy="62.73" r="0.35" fill="#7b97c6" fill-opacity="0.55"/>
<circle cx="417.91" cy="57.77" r="0.35" fill="#7b97c6" fill-opacity="0.55"/>
<circle cx="403.23" cy="58.07" r="0.35" fill="#7b97c6" fill-opacity="0.55"/>
<circle cx="407.60" cy="57.93" r="0.35" fill="#7b97c6" fill-opacity="0.55"/>
<circle cx="428.09" cy="61.63" r="0.35" fill="#7b97c6" fill-opacity="0.55"/>
<circle cx="411.88" cy="57.48" r="0.35" fill="#7b97c6" fill-opacity="0.55"/>
<circle cx="399.11" cy="60.41" r="0.35" fill="#7b97c6" fill-opacity="0.55"/>
<circle cx="425.46" cy="63.74" r="0.35" fill="#7b97c6" fill-opacity="0.55"/>
<circle cx="411.95" cy="62.84" r="0.35" fill="#7b97c6" fill-opacity="0.55"/>
<circle cx="410.58" cy="66.97" r="0.35" fill="#7b97c6" fill-opacity="0.55"/>
<circle cx="416.10" cy="66.86" r="0.35" fill="#7b97c6" fill-opacity="0.55"/>
<circle cx="422.38" cy="60.90" r="0.35" fill="#7b97c6" fill-opacity="0.55"/>
<circle cx="404.40" cy="64.11" r="0.35" fill="#7b97c6" fill-opacity="0.55"/>
<circle cx="405.78" cy="56.19" r="0.35" fill="#7b97c6" fill-opacity="0.55"/>
<circle cx="402.42" cy="58.23" r="0.35" fill="#7b97c6" fill-opacity="0.55"/>
<circle cx="416.49" cy="62.40" r="0.35" fill="#7b97c6" fill-opacity="0.55"/>
<circle cx="411.63" cy="67.10" r="0.35" fill="#7b97c6" fill-opacity="0.55"/>
<circle cx="408.09" cy="65.65" r="0.35" fill="#7b97c6" fill-opacity="0.55"/>
<circle cx="415.17" cy="61.59" r="0.35" fill="#7b97c6" fill-opacity="0.55"/>
<circle cx="410.42" cy="66.54" r="0.35" fill="#7b97c6" fill-opacity="0.55"/>
<circle cx="407.20" cy="56.73" r="0.35" fill="#7b97c6" fill-opacity="0.55"/>
<circle cx="409.25" cy="65.46" r="0.35" fill="#7b97c6" fill-opacity="0.55"/>
<circle cx="402.16" cy="62.34" r="0.35" fill="#7b97c6" fill-opacity="0.55"/>
<circle cx="426.01" cy="66.38" r="0.35" fill="#7b97c6" fill-opacity="0.55"/>
<circle cx="419.80" cy="70.43" r="0.35" fill="#7b97c6" fill-opacity="0.55"/>
<circle cx="413.56" cy="61.25" r="0.35" fill="#7b97c6" fill-opacity="0.55"/>
<circle cx="395.89" cy="63.11" r="0.35" fill="#7b97c6" fill-opacity="0.55"/>
<circle cx="421.64" cy="60.76" r="0.35" fill="#7b97c6" fill-opacity="0.55"/>
<circle cx="411.28" cy="63.82" r="0.35" fill="#7b97c6" fill-opacity="0.55"/>
<circle cx="417.83" cy="60.72" r="0.35" fill="#7b97c6" fill-opacity="0.55"/>
<circle cx="407.66" cy="60.58" r="0.35" fill="#7b97c6" fill-opacity="0.55"/>
<circle cx="390.02" cy="60.23" r="0.35" fill="#7b97c6" fill-opacity="0.55"/>
<circle cx="423.21" cy="66.16" r="0.35" fill="#7b97c6" fill-opacity="0.55"/>
<circle cx="393.24" cy="61.11" r="0.35" fill="#7b97c6" fill-opacity="0.55"/>
<circle cx="410.11" cy="59.14" r="0.35" fill="#7b97c6" fill-opacity="0.55"/>
<circle cx="420.31" cy="59.15" r="0.35" fill="#7b97c6" fill-opacity="0.55"/>
<circle cx="412.75" cy="61.54" r="0.35" fill="#7b97c6" fill-opacity="0.55"/>
<circle cx="402.16" cy="61.69" r="0.35" fill="#7b97c6" fill-opacity="0.55"/>
<circle cx="410.41" cy="63.27" r="0.35" fill="#7b97c6" fill-opacity="0.55"/>
<circle cx="407.63" cy="63.96" r="0.35" fill="#7b97c6" fill-opacity="0.55"/>
<circle cx="412.29" cy="61.33" r="0.35" fill="#7b97c6" fill-opacity="0.55"/>
<circle cx="412.08" cy="55.00" r="0.35" fill="#7b97c6" fill-opacity="0.55"/>
<circle cx="426.98" cy="66.82" r="0.35" fill="#7b97c6" fill-opacity="0.55"/>
<circle cx="407.54" cy="54.38" r="0.35" fill="#7b97c6" fill-opacity="0.55"/>
<circle cx="409.85" cy="64.68" r="0.35" fill="#7b97c6" fill-opacity="0.55"/>
<circle cx="386.20" cy="69.27" r="0.35" fill="#7b97c6" fill-opacity="0.55"/>
<circle cx="404.79" cy="59.79" r="0.35" fill="#7b97c6" fill-opacity="0.55"/>
<circle cx="405.51" cy="62.69" r="0.35" fill="#7b97c6" fill-opacity="0.55"/>
<circle cx="415.98" cy="61.97" r="0.35" fill="#7b97c6" fill-opacity="0.55"/>
<circle cx="415.74" cy="59.10" r="0.35" fill="#7b97c6" fill-opacity="0.55"/>
<circle cx="418.27" cy="60.49" r="0.35" fill="#7b97c6" fill-opacity="0.55"/>
<circle cx="410.94" cy="65.55" r="0.35" fill="#7b97c6" fill-opacity="0.55"/>
<circle cx="415.21" cy="64.56" r="0.35" fill="#7b97c6" fill-opacity="0.55"/>
<circle cx="429.99" cy="59.58" r="0.35" fill="#7b97c6" fill-opacity="0.55"/>
<circle cx="416.82" cy="57.06" r="0.35" fill="#7b97c6" fill-opacity="0.55"/>
<circle cx="430.31" cy="57.32" r="0.35" fill="#7b97c6" fill-opacity="0.55"/>
<circle cx="398.33" cy="59.85" r="0.35" fill="#7b97c6" fill-opacity="0.55"/>
<circle cx="425.91" cy="63.19" r="0.35" fill="#7b97c6" fill-opacity="0.55"/>
<circle cx="397.67" cy="63.23" r="0.35" fill="#7b97c6" fill-opacity="0.55"/>
<circle cx="407.45" cy="59.30" r="0.35" fill="#7b97c6" fill-opacity="0.55"/>
<circle cx="431.61" cy="63.85" r="0.35" fill="#7b97c6" fill-opacity="0.55"/>
<circle cx="419.09" cy="64.26" r="0.35" fill="#7b97c6" fill-opacity="0.55"/>
<circle cx="407.80" cy="63.88" r="0.35" fill="#7b97c6" fill-opacity="0.55"/>
<circle cx="410.30" cy="52.22" r="0.35" fill="#7b97c6" fill-opacity="0.55"/>
<circle cx="411.16" cy="66.46" r="0.35" fill="#7b97c6" fill-opacity="0.55"/>
<circle cx="408.39" cy="65.62" r="0.35" fill="#7b97c6" fill-opacity="0.55"/>
<circle cx="407.71" cy="62.77" r="0.35" fill="#7b97c6" fill-opacity="0.55"/>
<circle cx="415.24" cy="63.47" r="0.35" fill="#7b97c6" fill-opacity="0.55"/>
<circle cx="420.76" cy="59.28" r="0.35" fill="#7b97c6" fill-opacity="0.55"/>
<circle cx="415.67" cy="68.77" r="0.35" fill="#7b97c6" fill-opacity="0.55"/>
<circle cx="421.84" cy="61.42" r="0.35" fill="#7b97c6" fill-opacity="0.55"/>
<circle cx="415.76" cy="63.21" r="0.35" fill="#7b97c6" fill-opacity="0.55"/>
<circle cx="418.93" cy="63.18" r="0.35" fill="#7b97c6" fill-opacity="0.55"/>
<circle cx="417.59" cy="62.86" r="0.35" fill="#7b97c6" fill-opacity="0.55"/>
<circle cx="411.39" cy="65.91" r="0.35" fill="#7b97c6" fill-opacity="0.55"/>
<circle cx="423.37" cy="57.82" r="0.35" fill="#7b97c6" fill-opacity="0.55"/>
<circle cx="404.06" cy="63.33" r="0.35" fill="#7b97c6" fill-opacity="0.55"/>
<circle cx="403.35" cy="61.00" r="0.35" fill="#7b97c6" fill-opacity="0.55"/>
<circle cx="410.30" cy="62.53" r="0.35" fill="#7b97c6" fill-opacity="0.55"/>
<circle cx="407.94" cy="70.28" r="0.35" fill="#7b97c6" fill-opacity="0.55"/>
<circle cx="419.49" cy="64.36" r="0.35" fill="#7b97c6" fill-opacity="0.55"/>
<circle cx="399.69" cy="56.57" r="0.35" fill="#7b97c6" fill-opacity="0.55"/>
<circle cx="413.52" cy="64.14" r="0.35" fill="#7b97c6" fill-opacity="0.55"/>
<circle cx="412.09" cy="64.94" r="0.35" fill="#7b97c6" fill-opacity="0.55"/>
<circle cx="390.95" cy="64.31" r="0.35" fill="#7b97c6" fill-opacity="0.55"/>
<circle cx="422.62" cy="55.88" r="0.35" fill="#7b97c6" fill-opacity="0.55"/>
<circle cx="414.28" cy="61.62" r="0.35" fill="#7b97c6" fill-opacity="0.55"/>
<circle cx="407.18" cy="54.50" r="0.35" fill="#7b97c6" fill-opacity="0.55"/>
<circle cx="400.20" cy="62.26" r="0.35" fill="#7b97c6" fill-opacity="0.55"/>
<circle cx="420.97" cy="61.50" r="0.35" fill="#7b97c6" fill-opacity="0.55"/>
<circle cx="427.07" cy="58.68" r="0.35" fill="#7b97c6" fill-opacity="0.55"/>
<circle cx="426.82" cy="54.32" r="0.35" fill="#7b97c6" fill-opacity="0.55"/>
<circle cx="412.04" cy="63.13" r="0.35" fill="#7b97c6" fill-opacity="0.55"/>
<circle cx="418.18" cy="64.91" r="0.35" fill="#7b97c6" fill-opacity="0.55"/>
<circle cx="403.12" cy="54.13" r="0.35" fill="#7b97c6" fill-opacity="0.55"/>
<circle cx="409.70" cy="56.67" r="0.35" fill="#7b97c6" fill-opacity="0.55"/>
<circle cx="412.92" cy="57.76" r="0.35" fill="#7b97c6" fill-opacity="0.55"/>
<circle cx="409.58" cy="61.19" r="0.35" fill="#7b97c6" fill-opacity="0.55"/>
<circle cx="413.32" cy="59.08" r="0.35" fill="#7b97c6" fill-opacity="0.55"/>
<circle cx="423.36" cy="59.14" r="0.35" fill="#7b97c6" fill-opacity="0.55"/>
<circle cx="410.44" cy="63.18" r="0.35" fill="#7b97c6" fill-opacity="0.55"/>
<circle cx="411.86" cy="66.34" r="0.35" fill="#7b97c6" fill-opacity="0.55"/>
<circle cx="410.61" cy="59.93" r="0.35" fill="#7b97c6" fill-opacity="0.55"/>
<circle cx="421.92" cy="63.27" r="0.35" fill="#7b97c6" fill-opacity="0.55"/>
<circle cx="404.26" cy="59.82" r="0.35" fill="#7b97c6" fill-opacity="0.55"/>
<circle cx="414.02" cy="66.05" r="0.35" fill="#7b97c6" fill-opacity="0.55"/>
<circle cx="402.44" cy="80.31" r="0.35" fill="#7b97c6" fill-opacity="0.5"/>
<circle cx="394.86" cy="83.40" r="0.35" fill="#7b97c6" fill-opacity="0.5"/>
<circle cx="397.57" cy="71.00" r="0.35" fill="#7b97c6" fill-opacity="0.5"/>
<circle cx="398.84" cy="80.62" r="0.35" fill="#7b97c6" fill-opacity="0.5"/>
<circle cx="400.61" cy="93.99" r="0.35" fill="#7b97c6" fill-opacity="0.5"/>
<circle cx="399.95" cy="75.48" r="0.35" fill="#7b97c6" fill-opacity="0.5"/>
<circle cx="403.18" cy="80.88" r="0.35" fill="#7b97c6" fill-opacity="0.5"/>
<circle cx="399.40" cy="74.89" r="0.35" fill="#7b97c6" fill-opacity="0.5"/>
<circle cx="400.34" cy="88.15" r="0.35" fill="#7b97c6" fill-opacity="0.5"/>
<circle cx="401.97" cy="78.21" r="0.35" fill="#7b97c6" fill-opacity="0.5"/>
<circle cx="402.54" cy="81.06" r="0.35" fill="#7b97c6" fill-opacity="0.5"/>
<circle cx="397.44" cy="83.99" r="0.35" fill="#7b97c6" fill-opacity="0.5"/>
<circle cx="401.82" cy="89.30" r="0.35" fill="#7b97c6" fill-opacity="0.5"/>
<circle cx="400.31" cy="73.49" r="0.35" fill="#7b97c6" fill-opacity="0.5"/>
<circle cx="402.19" cy="93.98" r="0.35" fill="#7b97c6" fill-opacity="0.5"/>
<circle cx="398.89" cy="89.43" r="0.35" fill="#7b97c6" fill-opacity="0.5"/>
<circle cx="400.70" cy="83.86" r="0.35" fill="#7b97c6" fill-opacity="0.5"/>
<circle cx="400.63" cy="75.41" r="0.35" fill="#7b97c6" fill-opacity="0.5"/>
<circle cx="403.07" cy="78.09" r="0.35" fill="#7b97c6" fill-opacity="0.5"/>
<circle cx="401.13" cy="83.61" r="0.35" fill="#7b97c6" fill-opacity="0.5"/>
<circle cx="397.55" cy="84.05" r="0.35" fill="#7b97c6" fill-opacity="0.5"/>
<circle cx="401.73" cy="79.02" r="0.35" fill="#7b97c6" fill-opacity="0.5"/>
<circle cx="399.25" cy="82.36" r="0.35" fill="#7b97c6" fill-opacity="0.5"/>
<circle cx="401.76" cy="79.51" r="0.35" fill="#7b97c6" fill-opacity="0.5"/>
<circle cx="401.27" cy="80.62" r="0.35" fill="#7b97c6" fill-opacity="0.5"/>
<circle cx="396.65" cy="87.30" r="0.35" fill="#7b97c6" fill-opacity="0.5"/>
<circle cx="403.28" cy="74.03" r="0.35" fill="#7b97c6" fill-opacity="0.5"/>
<circle cx="405.83" cy="79.80" r="0.35" fill="#7b97c6" fill-opacity="0.5"/>
<circle cx="399.80" cy="83.10" r="0.35" fill="#7b97c6" fill-opacity="0.5"/>
<circle cx="404.00" cy="76.43" r="0.35" fill="#7b97c6" fill-opacity="0.5"/>
<circle cx="403.83" cy="81.62" r="0.35" fill="#7b97c6" fill-opacity="0.5"/>
<circle cx="398.89" cy="83.68" r="0.35" fill="#7b97c6" fill-opacity="0.5"/>
<circle cx="399.81" cy="82.92" r="0.35" fill="#7b97c6" fill-opacity="0.5"/>
<circle cx="402.36" cy="80.08" r="0.35" fill="#7b97c6" fill-opacity="0.5"/>
<circle cx="397.08" cy="91.03" r="0.35" fill="#7b97c6" fill-opacity="0.5"/>
<circle cx="404.73" cy="89.96" r="0.35" fill="#7b97c6" fill-opacity="0.5"/>
<circle cx="401.07" cy="84.98" r="0.35" fill="#7b97c6" fill-opacity="0.5"/>
<circle cx="402.36" cy="70.80" r="0.35" fill="#7b97c6" fill-opacity="0.5"/>
<circle cx="399.83" cy="80.72" r="0.35" fill="#7b97c6" fill-opacity="0.5"/>
<circle cx="398.31" cy="80.88" r="0.35" fill="#7b97c6" fill-opacity="0.5"/>
<circle cx="401.82" cy="78.25" r="0.35" fill="#7b97c6" fill-opacity="0.5"/>
<circle cx="397.27" cy="88.83" r="0.35" fill="#7b97c6" fill-opacity="0.5"/>
<circle cx="402.82" cy="81.07" r="0.35" fill="#7b97c6" fill-opacity="0.5"/>
<circle cx="401.99" cy="71.32" r="0.35" fill="#7b97c6" fill-opacity="0.5"/>
<circle cx="401.09" cy="80.37" r="0.35" fill="#7b97c6" fill-opacity="0.5"/>
<circle cx="405.28" cy="84.74" r="0.35" fill="#7b97c6" fill-opacity="0.5"/>
<circle cx="400.33" cy="89.11" r="0.35" fill="#7b97c6" fill-opacity="0.5"/>
<circle cx="402.18" cy="77.02" r="0.35" fill="#7b97c6" fill-opacity="0.5"/>
<circle cx="399.69" cy="93.70" r="0.35" fill="#7b97c6" fill-opacity="0.5"/>
<circle cx="399.17" cy="77.12" r="0.35" fill="#7b97c6" fill-opacity="0.5"/>
<circle cx="400.08" cy="75.31" r="0.35" fill="#7b97c6" fill-opacity="0.5"/>
<circle cx="400.47" cy="80.47" r="0.35" fill="#7b97c6" fill-opacity="0.5"/>
<circle cx="400.68" cy="67.75" r="0.35" fill="#7b97c6" fill-opacity="0.5"/>
<circle cx="396.83" cy="70.17" r="0.35" fill="#7b97c6" fill-opacity="0.5"/>
<circle cx="402.16" cy="80.61" r="0.35" fill="#7b97c6" fill-opacity="0.5"/>
<circle cx="394.80" cy="82.14" r="0.35" fill="#7b97c6" fill-opacity="0.5"/>
<circle cx="402.68" cy="78.45" r="0.35" fill="#7b97c6" fill-opacity="0.5"/>
<circle cx="400.48" cy="85.83" r="0.35" fill="#7b97c6" fill-opacity="0.5"/>
<circle cx="395.23" cy="80.52" r="0.35" fill="#7b97c6" fill-opacity="0.5"/>
<circle cx="402.19" cy="89.04" r="0.35" fill="#7b97c6" fill-opacity="0.5"/>
<circle cx="400.19" cy="69.80" r="0.35" fill="#7b97c6" fill-opacity="0.5"/>
<circle cx="400.95" cy="72.56" r="0.35" fill="#7b97c6" fill-opacity="0.5"/>
<circle cx="399.55" cy="84.26" r="0.35" fill="#7b97c6" fill-opacity="0.5"/>
<circle cx="397.90" cy="87.33" r="0.35" fill="#7b97c6" fill-opacity="0.5"/>
<circle cx="401.84" cy="81.74" r="0.35" fill="#7b97c6" fill-opacity="0.5"/>
<circle cx="400.53" cy="75.85" r="0.35" fill="#7b97c6" fill-opacity="0.5"/>
<circle cx="401.05" cy="80.57" r="0.35" fill="#7b97c6" fill-opacity="0.5"/>
<circle cx="398.57" cy="78.42" r="0.35" fill="#7b97c6" fill-opacity="0.5"/>
<circle cx="405.23" cy="78.59" r="0.35" fill="#7b97c6" fill-opacity="0.5"/>
<circle cx="402.30" cy="79.67" r="0.35" fill="#7b97c6" fill-opacity="0.5"/>
<circle cx="401.39" cy="81.25" r="0.35" fill="#7b97c6" fill-opacity="0.5"/>
<circle cx="396.88" cy="80.08" r="0.35" fill="#7b97c6" fill-opacity="0.5"/>
<circle cx="398.91" cy="81.31" r="0.35" fill="#7b97c6" fill-opacity="0.5"/>
<circle cx="397.73" cy="83.82" r="0.35" fill="#7b97c6" fill-opacity="0.5"/>
<circle cx="398.75" cy="71.89" r="0.35" fill="#7b97c6" fill-opacity="0.5"/>
<circle cx="402.45" cy="73.34" r="0.35" fill="#7b97c6" fill-opacity="0.5"/>
<circle cx="403.69" cy="87.27" r="0.35" fill="#7b97c6" fill-opacity="0.5"/>
<circle cx="399.69" cy="86.85" r="0.35" fill="#7b97c6" fill-opacity="0.5"/>
<circle cx="397.87" cy="86.45" r="0.35" fill="#7b97c6" fill-opacity="0.5"/>
<circle cx="401.04" cy="83.94" r="0.35" fill="#7b97c6" fill-opacity="0.5"/>
<circle cx="400.54" cy="83.17" r="0.35" fill="#7b97c6" fill-opacity="0.5"/>
<circle cx="402.76" cy="75.19" r="0.35" fill="#7b97c6" fill-opacity="0.5"/>
<circle cx="399.43" cy="84.90" r="0.35" fill="#7b97c6" fill-opacity="0.5"/>
<circle cx="403.23" cy="79.69" r="0.35" fill="#7b97c6" fill-opacity="0.5"/>
<circle cx="400.99" cy="89.93" r="0.35" fill="#7b97c6" fill-opacity="0.5"/>
<circle cx="396.47" cy="66.15" r="0.35" fill="#7b97c6" fill-opacity="0.5"/>
<circle cx="402.59" cy="83.74" r="0.35" fill="#7b97c6" fill-opacity="0.5"/>
<circle cx="402.35" cy="70.44" r="0.35" fill="#7b97c6" fill-opacity="0.5"/>
<circle cx="401.07" cy="79.19" r="0.35" fill="#7b97c6" fill-opacity="0.5"/>
<circle cx="400.19" cy="82.67" r="0.35" fill="#7b97c6" fill-opacity="0.5"/>
<circle cx="402.79" cy="93.73" r="0.35" fill="#7b97c6" fill-opacity="0.5"/>
<circle cx="395.90" cy="73.66" r="0.35" fill="#7b97c6" fill-opacity="0.5"/>
<circle cx="397.30" cy="87.93" r="0.35" fill="#7b97c6" fill-opacity="0.5"/>
<circle cx="398.81" cy="81.34" r="0.35" fill="#7b97c6" fill-opacity="0.5"/>
<circle cx="401.46" cy="66.93" r="0.35" fill="#7b97c6" fill-opacity="0.5"/>
<circle cx="402.94" cy="84.57" r="0.35" fill="#7b97c6" fill-opacity="0.5"/>
<circle cx="399.32" cy="77.36" r="0.35" fill="#7b97c6" fill-opacity="0.5"/>
<circle cx="399.64" cy="82.23" r="0.35" fill="#7b97c6" fill-opacity="0.5"/>
<circle cx="401.00" cy="84.04" r="0.35" fill="#7b97c6" fill-opacity="0.5"/>
<circle cx="397.79" cy="75.33" r="0.35" fill="#7b97c6" fill-opacity="0.5"/>
<circle cx="399.14" cy="62.73" r="0.38" fill="#5b7fc0" fill-opacity="0.6"/>
<circle cx="396.75" cy="66.30" r="0.38" fill="#5b7fc0" fill-opacity="0.6"/>
<circle cx="400.10" cy="64.68" r="0.38" fill="#5b7fc0" fill-opacity="0.6"/>
<circle cx="400.64" cy="67.42" r="0.38" fill="#5b7fc0" fill-opacity="0.6"/>
<circle cx="397.90" cy="61.98" r="0.38" fill="#5b7fc0" fill-opacity="0.6"/>
<circle cx="401.58" cy="64.09" r="0.38" fill="#5b7fc0" fill-opacity="0.6"/>
<circle cx="394.66" cy="60.97" r="0.38" fill="#5b7fc0" fill-opacity="0.6"/>
<circle cx="400.61" cy="63.27" r="0.38" fill="#5b7fc0" fill-opacity="0.6"/>
<circle cx="397.89" cy="59.40" r="0.38" fill="#5b7fc0" fill-opacity="0.6"/>
<circle cx="398.43" cy="64.82" r="0.38" fill="#5b7fc0" fill-opacity="0.6"/>
<circle cx="401.65" cy="61.55" r="0.38" fill="#5b7fc0" fill-opacity="0.6"/>
<circle cx="396.25" cy="61.16" r="0.38" fill="#5b7fc0" fill-opacity="0.6"/>
<circle cx="393.47" cy="65.30" r="0.38" fill="#5b7fc0" fill-opacity="0.6"/>
<circle cx="402.04" cy="62.24" r="0.38" fill="#5b7fc0" fill-opacity="0.6"/>
<circle cx="400.68" cy="66.88" r="0.38" fill="#5b7fc0" fill-opacity="0.6"/>
<circle cx="399.10" cy="62.61" r="0.38" fill="#5b7fc0" fill-opacity="0.6"/>
<circle cx="401.74" cy="60.47" r="0.38" fill="#5b7fc0" fill-opacity="0.6"/>
<circle cx="400.40" cy="59.53" r="0.38" fill="#5b7fc0" fill-opacity="0.6"/>
<circle cx="401.64" cy="60.06" r="0.38" fill="#5b7fc0" fill-opacity="0.6"/>
<circle cx="399.29" cy="62.74" r="0.38" fill="#5b7fc0" fill-opacity="0.6"/>
<circle cx="394.66" cy="60.93" r="0.38" fill="#5b7fc0" fill-opacity="0.6"/>
<circle cx="400.17" cy="61.60" r="0.38" fill="#5b7fc0" fill-opacity="0.6"/>
<circle cx="396.78" cy="60.29" r="0.38" fill="#5b7fc0" fill-opacity="0.6"/>
<circle cx="397.20" cy="62.25" r="0.38" fill="#5b7fc0" fill-opacity="0.6"/>
<circle cx="398.19" cy="65.86" r="0.38" fill="#5b7fc0" fill-opacity="0.6"/>
<circle cx="400.37" cy="61.65" r="0.38" fill="#5b7fc0" fill-opacity="0.6"/>
<circle cx="393.23" cy="62.62" r="0.38" fill="#5b7fc0" fill-opacity="0.6"/>
<circle cx="401.08" cy="61.89" r="0.38" fill="#5b7fc0" fill-opacity="0.6"/>
<circle cx="404.36" cy="67.43" r="0.38" fill="#5b7fc0" fill-opacity="0.6"/>
<circle cx="402.63" cy="61.77" r="0.38" fill="#5b7fc0" fill-opacity="0.6"/>
<circle cx="405.90" cy="64.55" r="0.38" fill="#5b7fc0" fill-opacity="0.6"/>
<circle cx="393.72" cy="66.51" r="0.38" fill="#5b7fc0" fill-opacity="0.6"/>
<circle cx="394.66" cy="58.46" r="0.38" fill="#5b7fc0" fill-opacity="0.6"/>
<circle cx="402.00" cy="66.75" r="0.38" fill="#5b7fc0" fill-opacity="0.6"/>
<circle cx="399.57" cy="65.31" r="0.38" fill="#5b7fc0" fill-opacity="0.6"/>
<circle cx="402.42" cy="57.66" r="0.38" fill="#5b7fc0" fill-opacity="0.6"/>
<circle cx="399.92" cy="64.22" r="0.38" fill="#5b7fc0" fill-opacity="0.6"/>
<circle cx="395.88" cy="64.43" r="0.38" fill="#5b7fc0" fill-opacity="0.6"/>
<circle cx="397.78" cy="63.33" r="0.38" fill="#5b7fc0" fill-opacity="0.6"/>
<circle cx="399.09" cy="67.12" r="0.38" fill="#5b7fc0" fill-opacity="0.6"/>
<circle cx="399.74" cy="61.78" r="0.38" fill="#5b7fc0" fill-opacity="0.6"/>
<circle cx="394.02" cy="60.37" r="0.38" fill="#5b7fc0" fill-opacity="0.6"/>
<circle cx="404.93" cy="63.66" r="0.38" fill="#5b7fc0" fill-opacity="0.6"/>
<circle cx="402.20" cy="65.04" r="0.38" fill="#5b7fc0" fill-opacity="0.6"/>
<circle cx="394.73" cy="61.00" r="0.38" fill="#5b7fc0" fill-opacity="0.6"/>
<circle cx="397.84" cy="65.24" r="0.38" fill="#5b7fc0" fill-opacity="0.6"/>
<circle cx="396.07" cy="60.73" r="0.38" fill="#5b7fc0" fill-opacity="0.6"/>
<circle cx="397.11" cy="59.56" r="0.38" fill="#5b7fc0" fill-opacity="0.6"/>
<circle cx="398.36" cy="62.55" r="0.38" fill="#5b7fc0" fill-opacity="0.6"/>
<circle cx="396.28" cy="59.94" r="0.38" fill="#5b7fc0" fill-opacity="0.6"/>
<circle cx="399.50" cy="67.37" r="0.38" fill="#5b7fc0" fill-opacity="0.6"/>
<circle cx="399.66" cy="59.04" r="0.38" fill="#5b7fc0" fill-opacity="0.6"/>
<circle cx="400.55" cy="65.37" r="0.38" fill="#5b7fc0" fill-opacity="0.6"/>
<circle cx="400.31" cy="63.28" r="0.38" fill="#5b7fc0" fill-opacity="0.6"/>
<circle cx="397.73" cy="62.86" r="0.38" fill="#5b7fc0" fill-opacity="0.6"/>
<circle cx="395.43" cy="63.58" r="0.38" fill="#5b7fc0" fill-opacity="0.6"/>
<circle cx="403.40" cy="63.38" r="0.38" fill="#5b7fc0" fill-opacity="0.6"/>
<circle cx="403.52" cy="64.71" r="0.38" fill="#5b7fc0" fill-opacity="0.6"/>
<circle cx="399.66" cy="58.76" r="0.38" fill="#5b7fc0" fill-opacity="0.6"/>
<circle cx="402.57" cy="63.49" r="0.38" fill="#5b7fc0" fill-opacity="0.6"/>
<circle cx="393.35" cy="67.41" r="0.38" fill="#5b7fc0" fill-opacity="0.6"/>
<circle cx="403.14" cy="66.77" r="0.38" fill="#5b7fc0" fill-opacity="0.6"/>
<circle cx="404.19" cy="62.18" r="0.38" fill="#5b7fc0" fill-opacity="0.6"/>
<circle cx="399.83" cy="60.49" r="0.38" fill="#5b7fc0" fill-opacity="0.6"/>
<circle cx="402.70" cy="61.90" r="0.38" fill="#5b7fc0" fill-opacity="0.6"/>
<circle cx="405.86" cy="60.50" r="0.38" fill="#5b7fc0" fill-opacity="0.6"/>
<circle cx="401.87" cy="66.85" r="0.38" fill="#5b7fc0" fill-opacity="0.6"/>
<circle cx="400.07" cy="61.83" r="0.38" fill="#5b7fc0" fill-opacity="0.6"/>
<circle cx="395.82" cy="66.36" r="0.38" fill="#5b7fc0" fill-opacity="0.6"/>
<circle cx="402.70" cy="67.67" r="0.38" fill="#5b7fc0" fill-opacity="0.6"/>
<ellipse cx="400.7" cy="62.4" rx="6.8" ry="5.8" fill="url(#gl)"/>
<circle cx="435.19" cy="56.36" r="0.35" fill="#7b97c6" fill-opacity="0.6"/>
<circle cx="438.05" cy="54.22" r="0.35" fill="#7b97c6" fill-opacity="0.6"/>
<circle cx="437.68" cy="51.21" r="0.35" fill="#7b97c6" fill-opacity="0.6"/>
<circle cx="435.73" cy="54.84" r="0.35" fill="#7b97c6" fill-opacity="0.6"/>
<circle cx="435.68" cy="52.60" r="0.35" fill="#7b97c6" fill-opacity="0.6"/>
<circle cx="436.69" cy="53.30" r="0.35" fill="#7b97c6" fill-opacity="0.6"/>
<circle cx="439.89" cy="50.59" r="0.35" fill="#7b97c6" fill-opacity="0.6"/>
<circle cx="437.35" cy="51.11" r="0.35" fill="#7b97c6" fill-opacity="0.6"/>
<circle cx="436.30" cy="50.84" r="0.35" fill="#7b97c6" fill-opacity="0.6"/>
<circle cx="432.09" cy="51.35" r="0.35" fill="#7b97c6" fill-opacity="0.6"/>
<circle cx="432.38" cy="55.76" r="0.35" fill="#7b97c6" fill-opacity="0.6"/>
<circle cx="432.53" cy="50.93" r="0.35" fill="#7b97c6" fill-opacity="0.6"/>
<circle cx="436.97" cy="51.24" r="0.35" fill="#7b97c6" fill-opacity="0.6"/>
<circle cx="439.94" cy="51.85" r="0.35" fill="#7b97c6" fill-opacity="0.6"/>
<circle cx="432.06" cy="54.65" r="0.35" fill="#7b97c6" fill-opacity="0.6"/>
<circle cx="435.21" cy="59.29" r="0.35" fill="#7b97c6" fill-opacity="0.6"/>
<circle cx="433.66" cy="50.94" r="0.35" fill="#7b97c6" fill-opacity="0.6"/>
<circle cx="436.28" cy="49.42" r="0.35" fill="#7b97c6" fill-opacity="0.6"/>
<circle cx="438.05" cy="55.55" r="0.35" fill="#7b97c6" fill-opacity="0.6"/>
<circle cx="440.95" cy="53.33" r="0.35" fill="#7b97c6" fill-opacity="0.6"/>
<circle cx="435.91" cy="55.43" r="0.35" fill="#7b97c6" fill-opacity="0.6"/>
<circle cx="439.70" cy="51.68" r="0.35" fill="#7b97c6" fill-opacity="0.6"/>
<circle cx="434.75" cy="50.22" r="0.35" fill="#7b97c6" fill-opacity="0.6"/>
<circle cx="436.73" cy="52.01" r="0.35" fill="#7b97c6" fill-opacity="0.6"/>
<circle cx="438.29" cy="54.68" r="0.35" fill="#7b97c6" fill-opacity="0.6"/>
<circle cx="432.94" cy="53.19" r="0.35" fill="#7b97c6" fill-opacity="0.6"/>
<circle cx="437.18" cy="51.22" r="0.35" fill="#7b97c6" fill-opacity="0.6"/>
<circle cx="436.58" cy="55.46" r="0.35" fill="#7b97c6" fill-opacity="0.6"/>
<circle cx="436.20" cy="52.02" r="0.35" fill="#7b97c6" fill-opacity="0.6"/>
<circle cx="435.19" cy="52.90" r="0.35" fill="#7b97c6" fill-opacity="0.6"/>
<circle cx="434.76" cy="53.34" r="0.35" fill="#7b97c6" fill-opacity="0.6"/>
<circle cx="432.77" cy="50.40" r="0.35" fill="#7b97c6" fill-opacity="0.6"/>
<circle cx="437.11" cy="55.22" r="0.35" fill="#7b97c6" fill-opacity="0.6"/>
<circle cx="434.51" cy="52.20" r="0.35" fill="#7b97c6" fill-opacity="0.6"/>
<circle cx="437.93" cy="51.30" r="0.35" fill="#7b97c6" fill-opacity="0.6"/>
<circle cx="436.74" cy="52.87" r="0.35" fill="#7b97c6" fill-opacity="0.6"/>
<circle cx="432.34" cy="48.29" r="0.35" fill="#7b97c6" fill-opacity="0.6"/>
<circle cx="436.57" cy="49.62" r="0.35" fill="#7b97c6" fill-opacity="0.6"/>
<circle cx="435.96" cy="52.36" r="0.35" fill="#7b97c6" fill-opacity="0.6"/>
<circle cx="433.79" cy="49.56" r="0.35" fill="#7b97c6" fill-opacity="0.6"/>
<circle cx="433.62" cy="54.79" r="0.35" fill="#7b97c6" fill-opacity="0.6"/>
<circle cx="429.82" cy="53.95" r="0.35" fill="#7b97c6" fill-opacity="0.6"/>
<circle cx="435.78" cy="50.20" r="0.35" fill="#7b97c6" fill-opacity="0.6"/>
<circle cx="436.69" cy="51.59" r="0.35" fill="#7b97c6" fill-opacity="0.6"/>
<circle cx="433.20" cy="51.52" r="0.35" fill="#7b97c6" fill-opacity="0.6"/>
<circle cx="436.08" cy="52.83" r="0.35" fill="#7b97c6" fill-opacity="0.6"/>
<circle cx="436.08" cy="51.63" r="0.35" fill="#7b97c6" fill-opacity="0.6"/>
<circle cx="429.68" cy="50.20" r="0.35" fill="#7b97c6" fill-opacity="0.6"/>
<circle cx="437.17" cy="53.25" r="0.35" fill="#7b97c6" fill-opacity="0.6"/>
<circle cx="433.41" cy="50.21" r="0.35" fill="#7b97c6" fill-opacity="0.6"/>
<circle cx="432.77" cy="48.58" r="0.35" fill="#7b97c6" fill-opacity="0.6"/>
<circle cx="437.10" cy="53.84" r="0.35" fill="#7b97c6" fill-opacity="0.6"/>
<circle cx="435.73" cy="52.72" r="0.35" fill="#7b97c6" fill-opacity="0.6"/>
<circle cx="439.76" cy="49.31" r="0.35" fill="#7b97c6" fill-opacity="0.6"/>
<circle cx="435.93" cy="51.74" r="0.35" fill="#7b97c6" fill-opacity="0.6"/>
<circle cx="438.59" cy="48.71" r="0.35" fill="#7b97c6" fill-opacity="0.6"/>
<circle cx="431.50" cy="52.86" r="0.35" fill="#7b97c6" fill-opacity="0.6"/>
<circle cx="434.08" cy="52.51" r="0.35" fill="#7b97c6" fill-opacity="0.6"/>
<circle cx="437.61" cy="53.07" r="0.35" fill="#7b97c6" fill-opacity="0.6"/>
<circle cx="438.46" cy="52.52" r="0.35" fill="#7b97c6" fill-opacity="0.6"/>
<ellipse cx="436.2" cy="52" rx="5.4" ry="4.3" fill="url(#gr)" transform="rotate(-25 436 52)"/>
<rect x="393.20" y="55.50" width="33.90" height="15.50" fill="none" stroke="#111" stroke-width="1.0" />
<rect x="428.30" y="45.60" width="20.80" height="14.50" fill="none" stroke="#238b4f" stroke-width="1.0" />
<text x="391.20" y="44.20" font-size="9" fill="#238b4f" stroke="#238b4f" stroke-width="0.12" textLength="57" lengthAdjust="spacingAndGlyphs" >AML cells, 33.1</text>
<text x="406.00" y="80.50" font-size="9" stroke="#231f20" stroke-width="0.12" textLength="42.5" lengthAdjust="spacingAndGlyphs" >Leukocytes,</text>
<text x="406.00" y="89.30" font-size="9" stroke="#231f20" stroke-width="0.12" textLength="16.5" lengthAdjust="spacingAndGlyphs" >59.6</text>
<rect x="453.20" y="35.50" width="59.80" height="60.30" fill="none" stroke="#a7a9ac" stroke-width="0.8" />
<line x1="453.20" y1="36.50" x2="455.00" y2="36.50" stroke="#000" stroke-width="0.55" />
<line x1="453.20" y1="37.50" x2="455.00" y2="37.50" stroke="#000" stroke-width="0.55" />
<line x1="453.20" y1="38.50" x2="455.00" y2="38.50" stroke="#000" stroke-width="0.55" />
<line x1="453.20" y1="39.50" x2="455.00" y2="39.50" stroke="#000" stroke-width="0.55" />
<line x1="453.20" y1="40.50" x2="455.00" y2="40.50" stroke="#000" stroke-width="0.55" />
<line x1="453.20" y1="41.50" x2="455.00" y2="41.50" stroke="#000" stroke-width="0.55" />
<line x1="453.20" y1="42.50" x2="455.00" y2="42.50" stroke="#000" stroke-width="0.55" />
<line x1="453.20" y1="43.50" x2="455.00" y2="43.50" stroke="#000" stroke-width="0.55" />
<line x1="453.20" y1="44.50" x2="455.00" y2="44.50" stroke="#000" stroke-width="0.55" />
<line x1="453.20" y1="45.50" x2="455.00" y2="45.50" stroke="#000" stroke-width="0.55" />
<line x1="453.20" y1="46.50" x2="455.00" y2="46.50" stroke="#000" stroke-width="0.55" />
<line x1="453.20" y1="48.50" x2="455.00" y2="48.50" stroke="#000" stroke-width="0.55" />
<line x1="453.20" y1="50.50" x2="455.00" y2="50.50" stroke="#000" stroke-width="0.55" />
<line x1="453.20" y1="51.50" x2="455.00" y2="51.50" stroke="#000" stroke-width="0.55" />
<line x1="453.20" y1="52.50" x2="455.00" y2="52.50" stroke="#000" stroke-width="0.55" />
<line x1="453.20" y1="53.50" x2="455.00" y2="53.50" stroke="#000" stroke-width="0.55" />
<line x1="453.20" y1="55.50" x2="455.00" y2="55.50" stroke="#000" stroke-width="0.55" />
<line x1="453.20" y1="56.50" x2="455.00" y2="56.50" stroke="#000" stroke-width="0.55" />
<line x1="453.20" y1="58.50" x2="455.00" y2="58.50" stroke="#000" stroke-width="0.55" />
<line x1="453.20" y1="59.50" x2="455.00" y2="59.50" stroke="#000" stroke-width="0.55" />
<line x1="453.20" y1="61.50" x2="455.00" y2="61.50" stroke="#000" stroke-width="0.55" />
<line x1="453.20" y1="62.50" x2="455.00" y2="62.50" stroke="#000" stroke-width="0.55" />
<line x1="453.20" y1="63.50" x2="455.00" y2="63.50" stroke="#000" stroke-width="0.55" />
<line x1="453.20" y1="65.50" x2="455.00" y2="65.50" stroke="#000" stroke-width="0.55" />
<line x1="453.20" y1="66.50" x2="455.00" y2="66.50" stroke="#000" stroke-width="0.55" />
<line x1="453.20" y1="67.50" x2="455.00" y2="67.50" stroke="#000" stroke-width="0.55" />
<line x1="453.20" y1="69.50" x2="455.00" y2="69.50" stroke="#000" stroke-width="0.55" />
<line x1="453.20" y1="70.50" x2="455.00" y2="70.50" stroke="#000" stroke-width="0.55" />
<line x1="453.20" y1="71.50" x2="455.00" y2="71.50" stroke="#000" stroke-width="0.55" />
<line x1="453.20" y1="72.50" x2="455.00" y2="72.50" stroke="#000" stroke-width="0.55" />
<line x1="453.20" y1="73.50" x2="455.00" y2="73.50" stroke="#000" stroke-width="0.55" />
<line x1="453.20" y1="74.50" x2="455.00" y2="74.50" stroke="#000" stroke-width="0.55" />
<line x1="453.20" y1="75.50" x2="455.00" y2="75.50" stroke="#000" stroke-width="0.55" />
<line x1="453.20" y1="77.50" x2="455.00" y2="77.50" stroke="#000" stroke-width="0.55" />
<line x1="453.20" y1="78.50" x2="455.00" y2="78.50" stroke="#000" stroke-width="0.55" />
<line x1="453.20" y1="79.50" x2="455.00" y2="79.50" stroke="#000" stroke-width="0.55" />
<line x1="453.20" y1="81.50" x2="455.00" y2="81.50" stroke="#000" stroke-width="0.55" />
<line x1="453.20" y1="82.50" x2="455.00" y2="82.50" stroke="#000" stroke-width="0.55" />
<line x1="453.20" y1="83.50" x2="455.00" y2="83.50" stroke="#000" stroke-width="0.55" />
<line x1="453.20" y1="84.50" x2="455.00" y2="84.50" stroke="#000" stroke-width="0.55" />
<line x1="453.20" y1="85.50" x2="455.00" y2="85.50" stroke="#000" stroke-width="0.55" />
<line x1="453.20" y1="86.50" x2="455.00" y2="86.50" stroke="#000" stroke-width="0.55" />
<line x1="453.20" y1="87.50" x2="455.00" y2="87.50" stroke="#000" stroke-width="0.55" />
<line x1="453.20" y1="88.50" x2="455.00" y2="88.50" stroke="#000" stroke-width="0.55" />
<line x1="453.20" y1="89.50" x2="455.00" y2="89.50" stroke="#000" stroke-width="0.55" />
<line x1="453.20" y1="90.50" x2="455.00" y2="90.50" stroke="#000" stroke-width="0.55" />
<line x1="453.20" y1="91.50" x2="455.00" y2="91.50" stroke="#000" stroke-width="0.55" />
<line x1="453.20" y1="92.50" x2="455.00" y2="92.50" stroke="#000" stroke-width="0.55" />
<line x1="453.20" y1="93.50" x2="455.00" y2="93.50" stroke="#000" stroke-width="0.55" />
<line x1="454.20" y1="95.80" x2="454.20" y2="94.00" stroke="#000" stroke-width="0.55" />
<line x1="458.20" y1="95.80" x2="458.20" y2="94.00" stroke="#000" stroke-width="0.55" />
<line x1="459.20" y1="95.80" x2="459.20" y2="94.00" stroke="#000" stroke-width="0.55" />
<line x1="460.20" y1="95.80" x2="460.20" y2="94.00" stroke="#000" stroke-width="0.55" />
<line x1="461.20" y1="95.80" x2="461.20" y2="94.00" stroke="#000" stroke-width="0.55" />
<line x1="462.20" y1="95.80" x2="462.20" y2="94.00" stroke="#000" stroke-width="0.55" />
<line x1="463.20" y1="95.80" x2="463.20" y2="94.00" stroke="#000" stroke-width="0.55" />
<line x1="464.20" y1="95.80" x2="464.20" y2="94.00" stroke="#000" stroke-width="0.55" />
<line x1="465.20" y1="95.80" x2="465.20" y2="94.00" stroke="#000" stroke-width="0.55" />
<line x1="466.20" y1="95.80" x2="466.20" y2="94.00" stroke="#000" stroke-width="0.55" />
<line x1="467.20" y1="95.80" x2="467.20" y2="94.00" stroke="#000" stroke-width="0.55" />
<line x1="468.20" y1="95.80" x2="468.20" y2="94.00" stroke="#000" stroke-width="0.55" />
<line x1="469.20" y1="95.80" x2="469.20" y2="94.00" stroke="#000" stroke-width="0.55" />
<line x1="470.20" y1="95.80" x2="470.20" y2="94.00" stroke="#000" stroke-width="0.55" />
<line x1="471.20" y1="95.80" x2="471.20" y2="94.00" stroke="#000" stroke-width="0.55" />
<line x1="472.20" y1="95.80" x2="472.20" y2="94.00" stroke="#000" stroke-width="0.55" />
<line x1="473.20" y1="95.80" x2="473.20" y2="94.00" stroke="#000" stroke-width="0.55" />
<line x1="474.20" y1="95.80" x2="474.20" y2="94.00" stroke="#000" stroke-width="0.55" />
<line x1="475.20" y1="95.80" x2="475.20" y2="94.00" stroke="#000" stroke-width="0.55" />
<line x1="476.20" y1="95.80" x2="476.20" y2="94.00" stroke="#000" stroke-width="0.55" />
<line x1="477.20" y1="95.80" x2="477.20" y2="94.00" stroke="#000" stroke-width="0.55" />
<line x1="478.20" y1="95.80" x2="478.20" y2="94.00" stroke="#000" stroke-width="0.55" />
<line x1="479.20" y1="95.80" x2="479.20" y2="94.00" stroke="#000" stroke-width="0.55" />
<line x1="481.20" y1="95.80" x2="481.20" y2="94.00" stroke="#000" stroke-width="0.55" />
<line x1="483.20" y1="95.80" x2="483.20" y2="94.00" stroke="#000" stroke-width="0.55" />
<line x1="484.20" y1="95.80" x2="484.20" y2="94.00" stroke="#000" stroke-width="0.55" />
<line x1="485.20" y1="95.80" x2="485.20" y2="94.00" stroke="#000" stroke-width="0.55" />
<line x1="486.20" y1="95.80" x2="486.20" y2="94.00" stroke="#000" stroke-width="0.55" />
<line x1="487.20" y1="95.80" x2="487.20" y2="94.00" stroke="#000" stroke-width="0.55" />
<line x1="488.20" y1="95.80" x2="488.20" y2="94.00" stroke="#000" stroke-width="0.55" />
<line x1="489.20" y1="95.80" x2="489.20" y2="94.00" stroke="#000" stroke-width="0.55" />
<line x1="490.20" y1="95.80" x2="490.20" y2="94.00" stroke="#000" stroke-width="0.55" />
<line x1="491.20" y1="95.80" x2="491.20" y2="94.00" stroke="#000" stroke-width="0.55" />
<line x1="493.20" y1="95.80" x2="493.20" y2="94.00" stroke="#000" stroke-width="0.55" />
<line x1="494.20" y1="95.80" x2="494.20" y2="94.00" stroke="#000" stroke-width="0.55" />
<line x1="495.20" y1="95.80" x2="495.20" y2="94.00" stroke="#000" stroke-width="0.55" />
<line x1="496.20" y1="95.80" x2="496.20" y2="94.00" stroke="#000" stroke-width="0.55" />
<line x1="497.20" y1="95.80" x2="497.20" y2="94.00" stroke="#000" stroke-width="0.55" />
<line x1="498.20" y1="95.80" x2="498.20" y2="94.00" stroke="#000" stroke-width="0.55" />
<line x1="500.20" y1="95.80" x2="500.20" y2="94.00" stroke="#000" stroke-width="0.55" />
<line x1="501.20" y1="95.80" x2="501.20" y2="94.00" stroke="#000" stroke-width="0.55" />
<line x1="502.20" y1="95.80" x2="502.20" y2="94.00" stroke="#000" stroke-width="0.55" />
<line x1="503.20" y1="95.80" x2="503.20" y2="94.00" stroke="#000" stroke-width="0.55" />
<line x1="504.20" y1="95.80" x2="504.20" y2="94.00" stroke="#000" stroke-width="0.55" />
<line x1="505.20" y1="95.80" x2="505.20" y2="94.00" stroke="#000" stroke-width="0.55" />
<line x1="506.20" y1="95.80" x2="506.20" y2="94.00" stroke="#000" stroke-width="0.55" />
<line x1="507.20" y1="95.80" x2="507.20" y2="94.00" stroke="#000" stroke-width="0.55" />
<line x1="508.20" y1="95.80" x2="508.20" y2="94.00" stroke="#000" stroke-width="0.55" />
<line x1="510.20" y1="95.80" x2="510.20" y2="94.00" stroke="#000" stroke-width="0.55" />
<line x1="511.20" y1="95.80" x2="511.20" y2="94.00" stroke="#000" stroke-width="0.55" />
<line x1="512.20" y1="95.80" x2="512.20" y2="94.00" stroke="#000" stroke-width="0.55" />
<circle cx="461.25" cy="79.03" r="0.35" fill="#7b97c6" fill-opacity="0.5"/>
<circle cx="461.80" cy="76.98" r="0.35" fill="#7b97c6" fill-opacity="0.5"/>
<circle cx="463.45" cy="69.24" r="0.35" fill="#7b97c6" fill-opacity="0.5"/>
<circle cx="463.34" cy="70.10" r="0.35" fill="#7b97c6" fill-opacity="0.5"/>
<circle cx="460.88" cy="84.19" r="0.35" fill="#7b97c6" fill-opacity="0.5"/>
<circle cx="458.19" cy="87.40" r="0.35" fill="#7b97c6" fill-opacity="0.5"/>
<circle cx="467.17" cy="86.02" r="0.35" fill="#7b97c6" fill-opacity="0.5"/>
<circle cx="464.24" cy="79.70" r="0.35" fill="#7b97c6" fill-opacity="0.5"/>
<circle cx="462.04" cy="92.94" r="0.35" fill="#7b97c6" fill-opacity="0.5"/>
<circle cx="459.96" cy="78.95" r="0.35" fill="#7b97c6" fill-opacity="0.5"/>
<circle cx="463.91" cy="75.84" r="0.35" fill="#7b97c6" fill-opacity="0.5"/>
<circle cx="459.39" cy="80.95" r="0.35" fill="#7b97c6" fill-opacity="0.5"/>
<circle cx="462.62" cy="68.13" r="0.35" fill="#7b97c6" fill-opacity="0.5"/>
<circle cx="461.04" cy="74.22" r="0.35" fill="#7b97c6" fill-opacity="0.5"/>
<circle cx="461.80" cy="82.35" r="0.35" fill="#7b97c6" fill-opacity="0.5"/>
<circle cx="464.61" cy="71.02" r="0.35" fill="#7b97c6" fill-opacity="0.5"/>
<circle cx="462.42" cy="75.04" r="0.35" fill="#7b97c6" fill-opacity="0.5"/>
<circle cx="458.35" cy="83.20" r="0.35" fill="#7b97c6" fill-opacity="0.5"/>
<circle cx="461.31" cy="77.39" r="0.35" fill="#7b97c6" fill-opacity="0.5"/>
<circle cx="457.24" cy="82.20" r="0.35" fill="#7b97c6" fill-opacity="0.5"/>
<circle cx="462.63" cy="83.23" r="0.35" fill="#7b97c6" fill-opacity="0.5"/>
<circle cx="461.21" cy="88.60" r="0.35" fill="#7b97c6" fill-opacity="0.5"/>
<circle cx="463.34" cy="75.87" r="0.35" fill="#7b97c6" fill-opacity="0.5"/>
<circle cx="463.59" cy="83.07" r="0.35" fill="#7b97c6" fill-opacity="0.5"/>
<circle cx="461.04" cy="86.00" r="0.35" fill="#7b97c6" fill-opacity="0.5"/>
<circle cx="463.73" cy="83.91" r="0.35" fill="#7b97c6" fill-opacity="0.5"/>
<circle cx="465.13" cy="95.40" r="0.35" fill="#7b97c6" fill-opacity="0.5"/>
<circle cx="462.34" cy="76.01" r="0.35" fill="#7b97c6" fill-opacity="0.5"/>
<circle cx="463.67" cy="78.30" r="0.35" fill="#7b97c6" fill-opacity="0.5"/>
<circle cx="456.92" cy="91.41" r="0.35" fill="#7b97c6" fill-opacity="0.5"/>
<circle cx="463.68" cy="68.85" r="0.35" fill="#7b97c6" fill-opacity="0.5"/>
<circle cx="460.92" cy="80.71" r="0.35" fill="#7b97c6" fill-opacity="0.5"/>
<circle cx="461.70" cy="76.64" r="0.35" fill="#7b97c6" fill-opacity="0.5"/>
<circle cx="463.20" cy="85.21" r="0.35" fill="#7b97c6" fill-opacity="0.5"/>
<circle cx="465.06" cy="80.39" r="0.35" fill="#7b97c6" fill-opacity="0.5"/>
<circle cx="463.52" cy="69.33" r="0.35" fill="#7b97c6" fill-opacity="0.5"/>
<circle cx="458.82" cy="78.97" r="0.35" fill="#7b97c6" fill-opacity="0.5"/>
<circle cx="461.10" cy="79.82" r="0.35" fill="#7b97c6" fill-opacity="0.5"/>
<circle cx="460.39" cy="74.98" r="0.35" fill="#7b97c6" fill-opacity="0.5"/>
<circle cx="462.18" cy="64.82" r="0.35" fill="#7b97c6" fill-opacity="0.5"/>
<circle cx="459.43" cy="82.61" r="0.35" fill="#7b97c6" fill-opacity="0.5"/>
<circle cx="462.48" cy="72.20" r="0.35" fill="#7b97c6" fill-opacity="0.5"/>
<circle cx="463.06" cy="89.31" r="0.35" fill="#7b97c6" fill-opacity="0.5"/>
<circle cx="465.77" cy="71.33" r="0.35" fill="#7b97c6" fill-opacity="0.5"/>
<circle cx="460.93" cy="66.90" r="0.35" fill="#7b97c6" fill-opacity="0.5"/>
<circle cx="460.91" cy="70.59" r="0.35" fill="#7b97c6" fill-opacity="0.5"/>
<circle cx="460.34" cy="80.61" r="0.35" fill="#7b97c6" fill-opacity="0.5"/>
<circle cx="461.68" cy="76.87" r="0.35" fill="#7b97c6" fill-opacity="0.5"/>
<circle cx="458.53" cy="84.49" r="0.35" fill="#7b97c6" fill-opacity="0.5"/>
<circle cx="461.66" cy="70.08" r="0.35" fill="#7b97c6" fill-opacity="0.5"/>
<circle cx="462.50" cy="85.82" r="0.35" fill="#7b97c6" fill-opacity="0.5"/>
<circle cx="459.02" cy="81.52" r="0.35" fill="#7b97c6" fill-opacity="0.5"/>
<circle cx="459.22" cy="84.26" r="0.35" fill="#7b97c6" fill-opacity="0.5"/>
<circle cx="464.00" cy="77.24" r="0.35" fill="#7b97c6" fill-opacity="0.5"/>
<circle cx="459.95" cy="69.69" r="0.35" fill="#7b97c6" fill-opacity="0.5"/>
<circle cx="460.19" cy="83.85" r="0.35" fill="#7b97c6" fill-opacity="0.5"/>
<circle cx="463.22" cy="78.71" r="0.35" fill="#7b97c6" fill-opacity="0.5"/>
<circle cx="461.02" cy="77.96" r="0.35" fill="#7b97c6" fill-opacity="0.5"/>
<circle cx="463.73" cy="63.86" r="0.35" fill="#7b97c6" fill-opacity="0.5"/>
<circle cx="461.31" cy="78.64" r="0.35" fill="#7b97c6" fill-opacity="0.5"/>
<circle cx="459.60" cy="75.34" r="0.35" fill="#7b97c6" fill-opacity="0.5"/>
<circle cx="461.86" cy="71.38" r="0.35" fill="#7b97c6" fill-opacity="0.5"/>
<circle cx="459.37" cy="69.62" r="0.35" fill="#7b97c6" fill-opacity="0.5"/>
<circle cx="459.85" cy="78.09" r="0.35" fill="#7b97c6" fill-opacity="0.5"/>
<circle cx="464.19" cy="77.57" r="0.35" fill="#7b97c6" fill-opacity="0.5"/>
<circle cx="461.46" cy="73.05" r="0.35" fill="#7b97c6" fill-opacity="0.5"/>
<circle cx="462.61" cy="75.69" r="0.35" fill="#7b97c6" fill-opacity="0.5"/>
<circle cx="464.93" cy="78.41" r="0.35" fill="#7b97c6" fill-opacity="0.5"/>
<circle cx="464.45" cy="80.81" r="0.35" fill="#7b97c6" fill-opacity="0.5"/>
<circle cx="462.16" cy="79.63" r="0.35" fill="#7b97c6" fill-opacity="0.5"/>
<circle cx="460.13" cy="82.32" r="0.35" fill="#7b97c6" fill-opacity="0.5"/>
<circle cx="461.73" cy="73.26" r="0.35" fill="#7b97c6" fill-opacity="0.5"/>
<circle cx="462.32" cy="83.61" r="0.35" fill="#7b97c6" fill-opacity="0.5"/>
<circle cx="462.17" cy="63.61" r="0.35" fill="#7b97c6" fill-opacity="0.5"/>
<circle cx="460.70" cy="78.23" r="0.35" fill="#7b97c6" fill-opacity="0.5"/>
<circle cx="463.32" cy="72.85" r="0.35" fill="#7b97c6" fill-opacity="0.5"/>
<circle cx="462.82" cy="82.32" r="0.35" fill="#7b97c6" fill-opacity="0.5"/>
<circle cx="463.29" cy="67.33" r="0.35" fill="#7b97c6" fill-opacity="0.5"/>
<circle cx="460.56" cy="73.53" r="0.35" fill="#7b97c6" fill-opacity="0.5"/>
<circle cx="460.78" cy="77.23" r="0.35" fill="#7b97c6" fill-opacity="0.5"/>
<circle cx="464.86" cy="77.63" r="0.35" fill="#7b97c6" fill-opacity="0.5"/>
<circle cx="459.41" cy="69.80" r="0.35" fill="#7b97c6" fill-opacity="0.5"/>
<circle cx="463.68" cy="72.32" r="0.35" fill="#7b97c6" fill-opacity="0.5"/>
<circle cx="461.60" cy="86.88" r="0.35" fill="#7b97c6" fill-opacity="0.5"/>
<circle cx="465.98" cy="87.72" r="0.35" fill="#7b97c6" fill-opacity="0.5"/>
<circle cx="459.40" cy="89.03" r="0.35" fill="#7b97c6" fill-opacity="0.5"/>
<circle cx="462.22" cy="85.28" r="0.35" fill="#7b97c6" fill-opacity="0.5"/>
<circle cx="462.44" cy="85.85" r="0.35" fill="#7b97c6" fill-opacity="0.5"/>
<circle cx="462.57" cy="79.44" r="0.35" fill="#7b97c6" fill-opacity="0.5"/>
<circle cx="462.13" cy="73.80" r="0.35" fill="#7b97c6" fill-opacity="0.5"/>
<circle cx="462.57" cy="84.51" r="0.35" fill="#7b97c6" fill-opacity="0.5"/>
<circle cx="459.77" cy="79.88" r="0.35" fill="#7b97c6" fill-opacity="0.5"/>
<circle cx="460.02" cy="71.75" r="0.35" fill="#7b97c6" fill-opacity="0.5"/>
<circle cx="458.62" cy="90.36" r="0.35" fill="#7b97c6" fill-opacity="0.5"/>
<circle cx="463.04" cy="77.23" r="0.35" fill="#7b97c6" fill-opacity="0.5"/>
<circle cx="465.16" cy="66.53" r="0.35" fill="#7b97c6" fill-opacity="0.5"/>
<circle cx="462.80" cy="75.51" r="0.35" fill="#7b97c6" fill-opacity="0.5"/>
<circle cx="464.30" cy="70.97" r="0.35" fill="#7b97c6" fill-opacity="0.5"/>
<circle cx="462.89" cy="79.09" r="0.35" fill="#7b97c6" fill-opacity="0.5"/>
<circle cx="466.13" cy="76.17" r="0.35" fill="#7b97c6" fill-opacity="0.5"/>
<circle cx="462.50" cy="82.01" r="0.35" fill="#7b97c6" fill-opacity="0.5"/>
<circle cx="463.68" cy="82.71" r="0.35" fill="#7b97c6" fill-opacity="0.5"/>
<circle cx="462.89" cy="73.09" r="0.35" fill="#7b97c6" fill-opacity="0.5"/>
<circle cx="465.73" cy="90.52" r="0.35" fill="#7b97c6" fill-opacity="0.5"/>
<circle cx="462.91" cy="75.19" r="0.35" fill="#7b97c6" fill-opacity="0.5"/>
<circle cx="465.26" cy="73.38" r="0.35" fill="#7b97c6" fill-opacity="0.5"/>
<circle cx="463.25" cy="69.53" r="0.35" fill="#7b97c6" fill-opacity="0.5"/>
<circle cx="466.10" cy="71.92" r="0.35" fill="#7b97c6" fill-opacity="0.5"/>
<circle cx="463.41" cy="75.34" r="0.35" fill="#7b97c6" fill-opacity="0.5"/>
<circle cx="461.37" cy="71.51" r="0.35" fill="#7b97c6" fill-opacity="0.5"/>
<circle cx="462.36" cy="72.02" r="0.35" fill="#7b97c6" fill-opacity="0.5"/>
<circle cx="464.95" cy="73.44" r="0.35" fill="#7b97c6" fill-opacity="0.5"/>
<circle cx="462.33" cy="83.73" r="0.35" fill="#7b97c6" fill-opacity="0.5"/>
<circle cx="464.44" cy="84.82" r="0.35" fill="#7b97c6" fill-opacity="0.5"/>
<circle cx="465.22" cy="81.62" r="0.35" fill="#7b97c6" fill-opacity="0.5"/>
<circle cx="464.36" cy="84.96" r="0.35" fill="#7b97c6" fill-opacity="0.5"/>
<circle cx="459.26" cy="79.09" r="0.35" fill="#7b97c6" fill-opacity="0.5"/>
<circle cx="462.69" cy="78.43" r="0.35" fill="#7b97c6" fill-opacity="0.5"/>
<circle cx="464.08" cy="72.85" r="0.35" fill="#7b97c6" fill-opacity="0.5"/>
<circle cx="458.95" cy="75.32" r="0.35" fill="#7b97c6" fill-opacity="0.5"/>
<circle cx="471.13" cy="60.05" r="0.35" fill="#7b97c6" fill-opacity="0.5"/>
<circle cx="454.68" cy="66.23" r="0.35" fill="#7b97c6" fill-opacity="0.5"/>
<circle cx="475.60" cy="64.45" r="0.35" fill="#7b97c6" fill-opacity="0.5"/>
<circle cx="467.05" cy="61.96" r="0.35" fill="#7b97c6" fill-opacity="0.5"/>
<circle cx="460.98" cy="59.61" r="0.35" fill="#7b97c6" fill-opacity="0.5"/>
<circle cx="472.88" cy="61.38" r="0.35" fill="#7b97c6" fill-opacity="0.5"/>
<circle cx="475.13" cy="62.09" r="0.35" fill="#7b97c6" fill-opacity="0.5"/>
<circle cx="455.25" cy="63.12" r="0.35" fill="#7b97c6" fill-opacity="0.5"/>
<circle cx="477.33" cy="63.51" r="0.35" fill="#7b97c6" fill-opacity="0.5"/>
<circle cx="464.15" cy="60.57" r="0.35" fill="#7b97c6" fill-opacity="0.5"/>
<circle cx="471.70" cy="60.31" r="0.35" fill="#7b97c6" fill-opacity="0.5"/>
<circle cx="460.77" cy="63.08" r="0.35" fill="#7b97c6" fill-opacity="0.5"/>
<circle cx="468.53" cy="60.45" r="0.35" fill="#7b97c6" fill-opacity="0.5"/>
<circle cx="462.23" cy="63.74" r="0.35" fill="#7b97c6" fill-opacity="0.5"/>
<circle cx="457.41" cy="60.63" r="0.35" fill="#7b97c6" fill-opacity="0.5"/>
<circle cx="465.00" cy="67.92" r="0.35" fill="#7b97c6" fill-opacity="0.5"/>
<circle cx="462.16" cy="64.52" r="0.35" fill="#7b97c6" fill-opacity="0.5"/>
<circle cx="467.03" cy="66.03" r="0.35" fill="#7b97c6" fill-opacity="0.5"/>
<circle cx="476.64" cy="61.82" r="0.35" fill="#7b97c6" fill-opacity="0.5"/>
<circle cx="469.40" cy="59.90" r="0.35" fill="#7b97c6" fill-opacity="0.5"/>
<circle cx="465.93" cy="64.81" r="0.35" fill="#7b97c6" fill-opacity="0.5"/>
<circle cx="460.71" cy="60.30" r="0.35" fill="#7b97c6" fill-opacity="0.5"/>
<circle cx="468.37" cy="61.66" r="0.35" fill="#7b97c6" fill-opacity="0.5"/>
<circle cx="465.87" cy="56.34" r="0.35" fill="#7b97c6" fill-opacity="0.5"/>
<circle cx="466.16" cy="62.23" r="0.35" fill="#7b97c6" fill-opacity="0.5"/>
<circle cx="467.79" cy="62.82" r="0.35" fill="#7b97c6" fill-opacity="0.5"/>
<circle cx="472.99" cy="68.79" r="0.35" fill="#7b97c6" fill-opacity="0.5"/>
<circle cx="461.18" cy="59.73" r="0.35" fill="#7b97c6" fill-opacity="0.5"/>
<circle cx="471.20" cy="56.12" r="0.35" fill="#7b97c6" fill-opacity="0.5"/>
<circle cx="461.66" cy="59.82" r="0.35" fill="#7b97c6" fill-opacity="0.5"/>
<circle cx="461.52" cy="59.19" r="0.35" fill="#7b97c6" fill-opacity="0.5"/>
<circle cx="460.54" cy="59.92" r="0.35" fill="#7b97c6" fill-opacity="0.5"/>
<circle cx="470.08" cy="66.83" r="0.35" fill="#7b97c6" fill-opacity="0.5"/>
<circle cx="458.18" cy="63.83" r="0.35" fill="#7b97c6" fill-opacity="0.5"/>
<circle cx="471.05" cy="63.63" r="0.35" fill="#7b97c6" fill-opacity="0.5"/>
<circle cx="478.08" cy="63.69" r="0.35" fill="#7b97c6" fill-opacity="0.5"/>
<circle cx="475.52" cy="60.25" r="0.35" fill="#7b97c6" fill-opacity="0.5"/>
<circle cx="460.42" cy="66.59" r="0.35" fill="#7b97c6" fill-opacity="0.5"/>
<circle cx="469.75" cy="58.75" r="0.35" fill="#7b97c6" fill-opacity="0.5"/>
<circle cx="467.74" cy="65.04" r="0.35" fill="#7b97c6" fill-opacity="0.5"/>
<circle cx="463.37" cy="63.74" r="0.35" fill="#7b97c6" fill-opacity="0.5"/>
<circle cx="460.21" cy="64.31" r="0.35" fill="#7b97c6" fill-opacity="0.5"/>
<circle cx="469.84" cy="62.09" r="0.35" fill="#7b97c6" fill-opacity="0.5"/>
<circle cx="466.45" cy="62.15" r="0.35" fill="#7b97c6" fill-opacity="0.5"/>
<circle cx="476.03" cy="66.22" r="0.35" fill="#7b97c6" fill-opacity="0.5"/>
<circle cx="456.04" cy="59.44" r="0.35" fill="#7b97c6" fill-opacity="0.5"/>
<circle cx="467.04" cy="62.67" r="0.35" fill="#7b97c6" fill-opacity="0.5"/>
<circle cx="461.90" cy="65.12" r="0.35" fill="#7b97c6" fill-opacity="0.5"/>
<circle cx="483.59" cy="59.28" r="0.35" fill="#7b97c6" fill-opacity="0.5"/>
<circle cx="461.89" cy="62.98" r="0.35" fill="#7b97c6" fill-opacity="0.5"/>
<circle cx="474.92" cy="65.08" r="0.35" fill="#7b97c6" fill-opacity="0.5"/>
<circle cx="468.81" cy="64.17" r="0.35" fill="#7b97c6" fill-opacity="0.5"/>
<circle cx="468.58" cy="62.53" r="0.35" fill="#7b97c6" fill-opacity="0.5"/>
<circle cx="466.76" cy="61.10" r="0.35" fill="#7b97c6" fill-opacity="0.5"/>
<circle cx="470.52" cy="62.23" r="0.35" fill="#7b97c6" fill-opacity="0.5"/>
<circle cx="470.15" cy="61.35" r="0.35" fill="#7b97c6" fill-opacity="0.5"/>
<circle cx="477.51" cy="63.03" r="0.35" fill="#7b97c6" fill-opacity="0.5"/>
<circle cx="468.47" cy="67.37" r="0.35" fill="#7b97c6" fill-opacity="0.5"/>
<circle cx="468.74" cy="63.39" r="0.35" fill="#7b97c6" fill-opacity="0.5"/>
<circle cx="469.43" cy="57.81" r="0.35" fill="#7b97c6" fill-opacity="0.5"/>
<circle cx="473.97" cy="58.67" r="0.35" fill="#7b97c6" fill-opacity="0.5"/>
<circle cx="475.29" cy="64.63" r="0.35" fill="#7b97c6" fill-opacity="0.5"/>
<circle cx="466.31" cy="59.28" r="0.35" fill="#7b97c6" fill-opacity="0.5"/>
<circle cx="472.18" cy="61.55" r="0.35" fill="#7b97c6" fill-opacity="0.5"/>
<circle cx="477.30" cy="61.44" r="0.35" fill="#7b97c6" fill-opacity="0.5"/>
<circle cx="469.03" cy="62.54" r="0.35" fill="#7b97c6" fill-opacity="0.5"/>
<circle cx="461.54" cy="58.01" r="0.35" fill="#7b97c6" fill-opacity="0.5"/>
<circle cx="472.54" cy="63.74" r="0.35" fill="#7b97c6" fill-opacity="0.5"/>
<circle cx="467.53" cy="60.71" r="0.35" fill="#7b97c6" fill-opacity="0.5"/>
<circle cx="472.45" cy="59.85" r="0.35" fill="#7b97c6" fill-opacity="0.5"/>
<circle cx="473.34" cy="63.55" r="0.35" fill="#7b97c6" fill-opacity="0.5"/>
<circle cx="462.25" cy="61.04" r="0.35" fill="#7b97c6" fill-opacity="0.5"/>
<circle cx="466.51" cy="61.00" r="0.35" fill="#7b97c6" fill-opacity="0.5"/>
<circle cx="469.67" cy="59.77" r="0.35" fill="#7b97c6" fill-opacity="0.5"/>
<circle cx="462.81" cy="59.16" r="0.35" fill="#7b97c6" fill-opacity="0.5"/>
<circle cx="462.85" cy="63.96" r="0.35" fill="#7b97c6" fill-opacity="0.5"/>
<circle cx="471.26" cy="55.46" r="0.35" fill="#7b97c6" fill-opacity="0.5"/>
<circle cx="469.68" cy="58.71" r="0.35" fill="#7b97c6" fill-opacity="0.5"/>
<circle cx="467.44" cy="63.52" r="0.35" fill="#7b97c6" fill-opacity="0.5"/>
<circle cx="477.23" cy="61.74" r="0.35" fill="#7b97c6" fill-opacity="0.5"/>
<circle cx="470.52" cy="60.12" r="0.35" fill="#7b97c6" fill-opacity="0.5"/>
<circle cx="455.00" cy="57.40" r="0.35" fill="#7b97c6" fill-opacity="0.5"/>
<circle cx="471.98" cy="58.95" r="0.35" fill="#7b97c6" fill-opacity="0.5"/>
<circle cx="465.72" cy="65.46" r="0.35" fill="#7b97c6" fill-opacity="0.5"/>
<circle cx="472.45" cy="60.61" r="0.35" fill="#7b97c6" fill-opacity="0.5"/>
<circle cx="464.76" cy="58.77" r="0.35" fill="#7b97c6" fill-opacity="0.5"/>
<circle cx="476.65" cy="59.19" r="0.35" fill="#7b97c6" fill-opacity="0.5"/>
<circle cx="467.93" cy="62.67" r="0.35" fill="#7b97c6" fill-opacity="0.5"/>
<circle cx="467.49" cy="65.63" r="0.35" fill="#7b97c6" fill-opacity="0.5"/>
<circle cx="458.56" cy="59.64" r="0.35" fill="#7b97c6" fill-opacity="0.5"/>
<ellipse cx="464" cy="62.6" rx="7.2" ry="5.8" fill="url(#gr)"/>
<rect x="456.30" y="55.60" width="27.30" height="15.40" fill="none" stroke="#111" stroke-width="1.0" />
<text x="478.50" y="80.40" font-size="9" stroke="#231f20" stroke-width="0.12" textLength="16.8" lengthAdjust="spacingAndGlyphs" >93.3</text>
<text x="419.00" y="33.60" font-size="10" text-anchor="middle" stroke="#231f20" stroke-width="0.12" textLength="45" lengthAdjust="spacingAndGlyphs" >Inoculated</text>
<text x="483.30" y="33.20" font-size="10" text-anchor="middle" stroke="#231f20" stroke-width="0.12" textLength="23" lengthAdjust="spacingAndGlyphs" >Naive</text>
<text stroke="#333" stroke-width="0.12" x="388.4" y="38.80" font-size="7" text-anchor="end" textLength="8.6" lengthAdjust="spacingAndGlyphs" fill="#333">10<tspan dy="-2.8" font-size="5">6</tspan></text>
<text stroke="#333" stroke-width="0.12" x="388.4" y="51.80" font-size="7" text-anchor="end" textLength="8.6" lengthAdjust="spacingAndGlyphs" fill="#333">10<tspan dy="-2.8" font-size="5">5</tspan></text>
<text stroke="#333" stroke-width="0.12" x="388.4" y="63.90" font-size="7" text-anchor="end" textLength="8.6" lengthAdjust="spacingAndGlyphs" fill="#333">10<tspan dy="-2.8" font-size="5">4</tspan></text>
<text stroke="#333" stroke-width="0.12" x="388.4" y="75.20" font-size="7" text-anchor="end" textLength="8.6" lengthAdjust="spacingAndGlyphs" fill="#333">10<tspan dy="-2.8" font-size="5">3</tspan></text>
<text x="387.40" y="85.40" font-size="7" text-anchor="end" fill="#333" stroke="#333" stroke-width="0.12" >0</text>
<text x="376.00" y="73.10" font-size="10" text-anchor="middle" stroke="#231f20" stroke-width="0.12" textLength="29" lengthAdjust="spacingAndGlyphs" transform="rotate(-90 376.00 73.10)" >CD45.2</text>
<text x="400.20" y="106.80" font-size="6.8" text-anchor="middle" fill="#333" stroke="#333" stroke-width="0.12" >0</text>
<text stroke="#333" stroke-width="0.12" x="410.00" y="106.8" font-size="6.8" text-anchor="middle" fill="#333">10<tspan dy="-2.7" font-size="4.6">3</tspan></text>
<text stroke="#333" stroke-width="0.12" x="421.40" y="106.8" font-size="6.8" text-anchor="middle" fill="#333">10<tspan dy="-2.7" font-size="4.6">4</tspan></text>
<text stroke="#333" stroke-width="0.12" x="433.50" y="106.8" font-size="6.8" text-anchor="middle" fill="#333">10<tspan dy="-2.7" font-size="4.6">5</tspan></text>
<text stroke="#333" stroke-width="0.12" x="445.60" y="106.8" font-size="6.8" text-anchor="middle" fill="#333">10<tspan dy="-2.7" font-size="4.6">6</tspan></text>
<text x="463.00" y="106.80" font-size="6.8" text-anchor="middle" fill="#333" stroke="#333" stroke-width="0.12" >0</text>
<text stroke="#333" stroke-width="0.12" x="472.50" y="106.8" font-size="6.8" text-anchor="middle" fill="#333">10<tspan dy="-2.7" font-size="4.6">3</tspan></text>
<text stroke="#333" stroke-width="0.12" x="485.00" y="106.8" font-size="6.8" text-anchor="middle" fill="#333">10<tspan dy="-2.7" font-size="4.6">4</tspan></text>
<text stroke="#333" stroke-width="0.12" x="497.00" y="106.8" font-size="6.8" text-anchor="middle" fill="#333">10<tspan dy="-2.7" font-size="4.6">5</tspan></text>
<text stroke="#333" stroke-width="0.12" x="509.00" y="106.8" font-size="6.8" text-anchor="middle" fill="#333">10<tspan dy="-2.7" font-size="4.6">6</tspan></text>
<text x="399.40" y="118.00" font-size="10" stroke="#231f20" stroke-width="0.12" textLength="26.5" lengthAdjust="spacingAndGlyphs" >ZsGreen</text>
<line x1="430.00" y1="114.60" x2="501.00" y2="114.60" stroke="#000" stroke-width="1.1" />
<path d="M507,114.6 L500,112.1 L500,117.1 Z" fill="#000"/>
<text x="6.80" y="134.00" font-size="11" fill="#000" font-weight="bold" >C</text>
<text x="51.00" y="143.80" font-size="9" stroke="#231f20" stroke-width="0.12" textLength="131.5" lengthAdjust="spacingAndGlyphs" >Frequency of C1498 AML cells</text>
<text x="89.80" y="155.10" font-size="9" text-anchor="middle" stroke="#231f20" stroke-width="0.12" textLength="24.5" lengthAdjust="spacingAndGlyphs" >Blood</text>
<text x="179.60" y="155.30" font-size="9" text-anchor="middle" stroke="#231f20" stroke-width="0.12" textLength="56.5" lengthAdjust="spacingAndGlyphs" >Bone marrow</text>
<text x="31.60" y="192.80" font-size="9.3" text-anchor="middle" stroke="#231f20" stroke-width="0.12" textLength="36.4" lengthAdjust="spacingAndGlyphs" transform="rotate(-90 31.60 192.80)" >Percentage</text>
<rect x="67.15" y="203.52" width="16.10" height="25.88" fill="#e5899a" stroke="#e07a8c" stroke-width="0.7" />
<rect x="95.85" y="227.27" width="15.30" height="2.13" fill="#87a9cb" stroke="#7a9fc4" stroke-width="0.7" />
<line x1="75.30" y1="189.70" x2="75.30" y2="218.20" stroke="#2b2b2b" stroke-width="1.0" />
<line x1="70.70" y1="189.70" x2="79.90" y2="189.70" stroke="#2b2b2b" stroke-width="1.0" />
<line x1="70.70" y1="218.20" x2="79.90" y2="218.20" stroke="#2b2b2b" stroke-width="1.0" />
<line x1="103.50" y1="225.50" x2="103.50" y2="228.34" stroke="#2b2b2b" stroke-width="1.0" />
<line x1="99.50" y1="225.50" x2="107.50" y2="225.50" stroke="#2b2b2b" stroke-width="1.0" />
<line x1="99.50" y1="228.34" x2="107.50" y2="228.34" stroke="#2b2b2b" stroke-width="1.0" />
<circle cx="75.50" cy="175.80" r="1.3" fill="#cc0a2a" />
<circle cx="75.00" cy="185.16" r="1.3" fill="#cc0a2a" />
<circle cx="74.50" cy="195.58" r="1.3" fill="#cc0a2a" />
<circle cx="75.50" cy="201.04" r="1.3" fill="#cc0a2a" />
<circle cx="75.00" cy="206.71" r="1.3" fill="#cc0a2a" />
<circle cx="75.50" cy="211.68" r="1.3" fill="#cc0a2a" />
<circle cx="74.80" cy="216.64" r="1.3" fill="#cc0a2a" />
<circle cx="75.50" cy="220.25" r="1.3" fill="#cc0a2a" />
<circle cx="75.00" cy="226.42" r="1.3" fill="#cc0a2a" />
<circle cx="95.50" cy="226.56" r="1.25" fill="#0f4d8e" />
<circle cx="98.00" cy="227.63" r="1.25" fill="#0f4d8e" />
<circle cx="100.00" cy="225.15" r="1.25" fill="#0f4d8e" />
<circle cx="102.00" cy="227.27" r="1.25" fill="#0f4d8e" />
<circle cx="104.00" cy="224.44" r="1.25" fill="#0f4d8e" />
<circle cx="106.00" cy="227.98" r="1.25" fill="#0f4d8e" />
<circle cx="108.00" cy="225.86" r="1.25" fill="#0f4d8e" />
<circle cx="110.50" cy="226.92" r="1.25" fill="#0f4d8e" />
<circle cx="101.00" cy="228.69" r="1.25" fill="#0f4d8e" />
<circle cx="106.50" cy="225.50" r="1.25" fill="#0f4d8e" />
<line x1="56.80" y1="158.50" x2="56.80" y2="229.40" stroke="#1e1e1e" stroke-width="1.2" />
<line x1="53.80" y1="158.50" x2="56.80" y2="158.50" stroke="#1e1e1e" stroke-width="1.2" />
<text stroke="#231f20" stroke-width="0.12" x="50.20" y="161.20" font-size="7.5" text-anchor="end">100</text>
<line x1="53.80" y1="172.68" x2="56.80" y2="172.68" stroke="#1e1e1e" stroke-width="1.2" />
<text stroke="#231f20" stroke-width="0.12" x="50.20" y="175.38" font-size="7.5" text-anchor="end">80</text>
<line x1="53.80" y1="186.86" x2="56.80" y2="186.86" stroke="#1e1e1e" stroke-width="1.2" />
<text stroke="#231f20" stroke-width="0.12" x="50.20" y="189.56" font-size="7.5" text-anchor="end">60</text>
<line x1="53.80" y1="201.04" x2="56.80" y2="201.04" stroke="#1e1e1e" stroke-width="1.2" />
<text stroke="#231f20" stroke-width="0.12" x="50.20" y="203.74" font-size="7.5" text-anchor="end">40</text>
<line x1="53.80" y1="215.22" x2="56.80" y2="215.22" stroke="#1e1e1e" stroke-width="1.2" />
<text stroke="#231f20" stroke-width="0.12" x="50.20" y="217.92" font-size="7.5" text-anchor="end">20</text>
<line x1="53.80" y1="229.40" x2="56.80" y2="229.40" stroke="#1e1e1e" stroke-width="1.2" />
<text stroke="#231f20" stroke-width="0.12" x="50.20" y="232.10" font-size="7.5" text-anchor="end">0</text>
<line x1="56.80" y1="229.40" x2="121.70" y2="229.40" stroke="#1e1e1e" stroke-width="1.2" />
<line x1="75.30" y1="229.40" x2="75.30" y2="232.20" stroke="#1e1e1e" stroke-width="1.2" />
<line x1="103.50" y1="229.40" x2="103.50" y2="232.20" stroke="#1e1e1e" stroke-width="1.2" />
<line x1="76.00" y1="169.30" x2="104.50" y2="169.30" stroke="#1e1e1e" stroke-width="1.0" />
<text x="90.25" y="170.90" font-size="10.5" text-anchor="middle" stroke="#231f20" stroke-width="0.12" textLength="12.299999999999999" lengthAdjust="spacingAndGlyphs" >***</text>
<text x="74.20" y="241.50" font-size="8.2" text-anchor="middle" stroke="#231f20" stroke-width="0.12" textLength="25.4" lengthAdjust="spacingAndGlyphs" >Isotype</text>
<text x="103.30" y="241.50" font-size="8.2" text-anchor="middle" fill="#3a72ab" stroke="#3a72ab" stroke-width="0.12" textLength="15.5" lengthAdjust="spacingAndGlyphs" >7C6-</text>
<text x="103.30" y="250.40" font-size="8.2" text-anchor="middle" fill="#3a72ab" stroke="#3a72ab" stroke-width="0.12" textLength="27.2" lengthAdjust="spacingAndGlyphs" >mIgG2a</text>
<rect x="157.85" y="217.72" width="16.10" height="11.48" fill="#e5899a" stroke="#e07a8c" stroke-width="0.7" />
<rect x="186.35" y="227.66" width="14.30" height="1.54" fill="#87a9cb" stroke="#7a9fc4" stroke-width="0.7" />
<line x1="165.80" y1="196.54" x2="165.80" y2="228.02" stroke="#2b2b2b" stroke-width="1.0" />
<line x1="161.20" y1="196.54" x2="170.40" y2="196.54" stroke="#2b2b2b" stroke-width="1.0" />
<line x1="161.20" y1="228.02" x2="170.40" y2="228.02" stroke="#2b2b2b" stroke-width="1.0" />
<line x1="193.70" y1="226.36" x2="193.70" y2="228.73" stroke="#2b2b2b" stroke-width="1.0" />
<line x1="189.70" y1="226.36" x2="197.70" y2="226.36" stroke="#2b2b2b" stroke-width="1.0" />
<line x1="189.70" y1="228.73" x2="197.70" y2="228.73" stroke="#2b2b2b" stroke-width="1.0" />
<circle cx="165.80" cy="170.98" r="1.3" fill="#cc0a2a" />
<circle cx="165.80" cy="185.42" r="1.3" fill="#cc0a2a" />
<circle cx="162.50" cy="201.98" r="1.3" fill="#cc0a2a" />
<circle cx="168.50" cy="201.98" r="1.3" fill="#cc0a2a" />
<circle cx="165.80" cy="211.45" r="1.3" fill="#cc0a2a" />
<circle cx="162.50" cy="222.10" r="1.3" fill="#cc0a2a" />
<circle cx="167.50" cy="223.05" r="1.3" fill="#cc0a2a" />
<circle cx="163.00" cy="227.78" r="1.3" fill="#cc0a2a" />
<circle cx="167.00" cy="228.02" r="1.3" fill="#cc0a2a" />
<circle cx="170.00" cy="228.25" r="1.3" fill="#cc0a2a" />
<circle cx="193.50" cy="220.68" r="1.25" fill="#0f4d8e" />
<circle cx="193.50" cy="223.28" r="1.25" fill="#0f4d8e" />
<circle cx="190.00" cy="226.83" r="1.25" fill="#0f4d8e" />
<circle cx="197.00" cy="226.83" r="1.25" fill="#0f4d8e" />
<circle cx="188.00" cy="228.25" r="1.25" fill="#0f4d8e" />
<circle cx="192.00" cy="228.49" r="1.25" fill="#0f4d8e" />
<circle cx="196.00" cy="228.49" r="1.25" fill="#0f4d8e" />
<circle cx="199.00" cy="228.49" r="1.25" fill="#0f4d8e" />
<circle cx="201.00" cy="228.49" r="1.25" fill="#0f4d8e" />
<line x1="147.30" y1="158.20" x2="147.30" y2="229.20" stroke="#1e1e1e" stroke-width="1.2" />
<line x1="144.30" y1="158.20" x2="147.30" y2="158.20" stroke="#1e1e1e" stroke-width="1.2" />
<text stroke="#231f20" stroke-width="0.12" x="140.70" y="160.90" font-size="7.5" text-anchor="end">30</text>
<line x1="144.30" y1="181.87" x2="147.30" y2="181.87" stroke="#1e1e1e" stroke-width="1.2" />
<text stroke="#231f20" stroke-width="0.12" x="140.70" y="184.57" font-size="7.5" text-anchor="end">20</text>
<line x1="144.30" y1="205.53" x2="147.30" y2="205.53" stroke="#1e1e1e" stroke-width="1.2" />
<text stroke="#231f20" stroke-width="0.12" x="140.70" y="208.23" font-size="7.5" text-anchor="end">10</text>
<line x1="144.30" y1="229.20" x2="147.30" y2="229.20" stroke="#1e1e1e" stroke-width="1.2" />
<text stroke="#231f20" stroke-width="0.12" x="140.70" y="231.90" font-size="7.5" text-anchor="end">0</text>
<line x1="147.30" y1="229.20" x2="212.50" y2="229.20" stroke="#1e1e1e" stroke-width="1.2" />
<line x1="165.80" y1="229.20" x2="165.80" y2="232.00" stroke="#1e1e1e" stroke-width="1.2" />
<line x1="193.70" y1="229.20" x2="193.70" y2="232.00" stroke="#1e1e1e" stroke-width="1.2" />
<line x1="167.00" y1="167.30" x2="197.50" y2="167.30" stroke="#1e1e1e" stroke-width="1.0" />
<text x="182.25" y="168.90" font-size="10.5" text-anchor="middle" stroke="#231f20" stroke-width="0.12" textLength="8.2" lengthAdjust="spacingAndGlyphs" >**</text>
<text x="164.10" y="241.50" font-size="8.2" text-anchor="middle" stroke="#231f20" stroke-width="0.12" textLength="25.4" lengthAdjust="spacingAndGlyphs" >Isotype</text>
<text x="193.70" y="241.50" font-size="8.2" text-anchor="middle" fill="#3a72ab" stroke="#3a72ab" stroke-width="0.12" textLength="15.5" lengthAdjust="spacingAndGlyphs" >7C6-</text>
<text x="193.70" y="250.40" font-size="8.2" text-anchor="middle" fill="#3a72ab" stroke="#3a72ab" stroke-width="0.12" textLength="27.2" lengthAdjust="spacingAndGlyphs" >mIgG2a</text>
<text x="289.80" y="134.00" font-size="11" fill="#000" font-weight="bold" >D</text>
<text x="317.50" y="137.50" font-size="9" stroke="#231f20" stroke-width="0.12" textLength="163.5" lengthAdjust="spacingAndGlyphs" >Absolute numbers of C1498 AML cells</text>
<text x="366.30" y="148.80" font-size="9" text-anchor="middle" stroke="#231f20" stroke-width="0.12" textLength="24.5" lengthAdjust="spacingAndGlyphs" >Blood</text>
<text x="484.00" y="148.80" font-size="9" text-anchor="middle" stroke="#231f20" stroke-width="0.12" textLength="57" lengthAdjust="spacingAndGlyphs" >Bone marrow</text>
<text x="310.90" y="191.40" font-size="9.3" text-anchor="middle" stroke="#231f20" stroke-width="0.12" textLength="81" lengthAdjust="spacingAndGlyphs" transform="rotate(-90 310.90 191.40)" >Concentration (cells / mL)</text>
<text x="424.80" y="193.50" font-size="9.3" text-anchor="middle" stroke="#231f20" stroke-width="0.12" textLength="75" lengthAdjust="spacingAndGlyphs" transform="rotate(-90 424.80 193.50)" >Number (cells / femur)</text>
<rect x="344.45" y="182.55" width="16.20" height="46.35" fill="#e5899a" stroke="#e07a8c" stroke-width="0.7" />
<rect x="372.05" y="196.25" width="16.10" height="32.65" fill="#87a9cb" stroke="#7a9fc4" stroke-width="0.7" />
<line x1="352.50" y1="175.50" x2="352.50" y2="184.80" stroke="#2b2b2b" stroke-width="1.0" />
<line x1="348.10" y1="175.50" x2="356.90" y2="175.50" stroke="#2b2b2b" stroke-width="1.0" />
<line x1="348.10" y1="184.80" x2="356.90" y2="184.80" stroke="#2b2b2b" stroke-width="1.0" />
<line x1="380.00" y1="182.10" x2="380.00" y2="207.00" stroke="#2b2b2b" stroke-width="1.0" />
<line x1="375.60" y1="182.10" x2="384.40" y2="182.10" stroke="#2b2b2b" stroke-width="1.0" />
<line x1="375.60" y1="207.00" x2="384.40" y2="207.00" stroke="#2b2b2b" stroke-width="1.0" />
<circle cx="352.50" cy="167.80" r="1.3" fill="#cc0a2a" />
<circle cx="352.50" cy="173.10" r="1.3" fill="#cc0a2a" />
<circle cx="352.50" cy="175.80" r="1.3" fill="#cc0a2a" />
<circle cx="347.30" cy="181.00" r="1.3" fill="#cc0a2a" />
<circle cx="357.50" cy="178.80" r="1.3" fill="#cc0a2a" />
<circle cx="357.50" cy="180.60" r="1.3" fill="#cc0a2a" />
<circle cx="347.30" cy="183.20" r="1.3" fill="#cc0a2a" />
<circle cx="347.30" cy="185.60" r="1.3" fill="#cc0a2a" />
<circle cx="352.50" cy="185.10" r="1.3" fill="#cc0a2a" />
<circle cx="357.50" cy="185.60" r="1.3" fill="#cc0a2a" />
<circle cx="377.50" cy="175.51" r="1.3" fill="#0f4d8e" />
<circle cx="382.50" cy="174.69" r="1.3" fill="#0f4d8e" />
<circle cx="377.50" cy="186.89" r="1.3" fill="#0f4d8e" />
<circle cx="382.50" cy="186.43" r="1.3" fill="#0f4d8e" />
<circle cx="380.00" cy="191.94" r="1.3" fill="#0f4d8e" />
<circle cx="380.00" cy="196.63" r="1.3" fill="#0f4d8e" />
<circle cx="380.00" cy="201.33" r="1.3" fill="#0f4d8e" />
<circle cx="380.00" cy="206.02" r="1.3" fill="#0f4d8e" />
<circle cx="380.00" cy="209.89" r="1.3" fill="#0f4d8e" />
<circle cx="380.00" cy="216.58" r="1.3" fill="#0f4d8e" />
<line x1="334.50" y1="158.50" x2="334.50" y2="228.90" stroke="#1e1e1e" stroke-width="1.2" />
<line x1="331.50" y1="158.50" x2="334.50" y2="158.50" stroke="#1e1e1e" stroke-width="1.2" />
<text stroke="#231f20" stroke-width="0.12" x="327.90" y="161.20" font-size="7.5" text-anchor="end">10<tspan dy="-3.4" font-size="5.5">8</tspan></text>
<line x1="331.50" y1="170.23" x2="334.50" y2="170.23" stroke="#1e1e1e" stroke-width="1.2" />
<text stroke="#231f20" stroke-width="0.12" x="327.90" y="172.93" font-size="7.5" text-anchor="end">10<tspan dy="-3.4" font-size="5.5">7</tspan></text>
<line x1="331.50" y1="181.97" x2="334.50" y2="181.97" stroke="#1e1e1e" stroke-width="1.2" />
<text stroke="#231f20" stroke-width="0.12" x="327.90" y="184.67" font-size="7.5" text-anchor="end">10<tspan dy="-3.4" font-size="5.5">6</tspan></text>
<line x1="331.50" y1="193.70" x2="334.50" y2="193.70" stroke="#1e1e1e" stroke-width="1.2" />
<text stroke="#231f20" stroke-width="0.12" x="327.90" y="196.40" font-size="7.5" text-anchor="end">10<tspan dy="-3.4" font-size="5.5">5</tspan></text>
<line x1="331.50" y1="205.43" x2="334.50" y2="205.43" stroke="#1e1e1e" stroke-width="1.2" />
<text stroke="#231f20" stroke-width="0.12" x="327.90" y="208.13" font-size="7.5" text-anchor="end">10<tspan dy="-3.4" font-size="5.5">4</tspan></text>
<line x1="331.50" y1="217.17" x2="334.50" y2="217.17" stroke="#1e1e1e" stroke-width="1.2" />
<text stroke="#231f20" stroke-width="0.12" x="327.90" y="219.87" font-size="7.5" text-anchor="end">10<tspan dy="-3.4" font-size="5.5">3</tspan></text>
<line x1="331.50" y1="228.90" x2="334.50" y2="228.90" stroke="#1e1e1e" stroke-width="1.2" />
<text stroke="#231f20" stroke-width="0.12" x="327.90" y="231.60" font-size="7.5" text-anchor="end">10<tspan dy="-3.4" font-size="5.5">2</tspan></text>
<line x1="334.50" y1="228.90" x2="394.00" y2="228.90" stroke="#1e1e1e" stroke-width="1.2" />
<line x1="352.50" y1="228.90" x2="352.50" y2="231.70" stroke="#1e1e1e" stroke-width="1.2" />
<line x1="380.00" y1="228.90" x2="380.00" y2="231.70" stroke="#1e1e1e" stroke-width="1.2" />
<line x1="352.50" y1="164.60" x2="381.30" y2="164.60" stroke="#1e1e1e" stroke-width="1.0" />
<text x="366.90" y="166.20" font-size="10.5" text-anchor="middle" stroke="#231f20" stroke-width="0.12" textLength="8.2" lengthAdjust="spacingAndGlyphs" >**</text>
<text x="352.50" y="241.50" font-size="8.2" text-anchor="middle" stroke="#231f20" stroke-width="0.12" textLength="25.4" lengthAdjust="spacingAndGlyphs" >Isotype</text>
<text x="380.00" y="241.50" font-size="8.2" text-anchor="middle" fill="#3a72ab" stroke="#3a72ab" stroke-width="0.12" textLength="15.5" lengthAdjust="spacingAndGlyphs" >7C6-</text>
<text x="380.00" y="250.40" font-size="8.2" text-anchor="middle" fill="#3a72ab" stroke="#3a72ab" stroke-width="0.12" textLength="27.2" lengthAdjust="spacingAndGlyphs" >mIgG2a</text>
<rect x="458.45" y="173.65" width="16.20" height="55.25" fill="#e5899a" stroke="#e07a8c" stroke-width="0.7" />
<rect x="485.90" y="192.65" width="16.30" height="36.25" fill="#ffffff" stroke="#1b5796" stroke-width="1.2" />
<line x1="466.20" y1="167.80" x2="466.20" y2="173.30" stroke="#2b2b2b" stroke-width="1.0" />
<line x1="461.90" y1="167.80" x2="470.50" y2="167.80" stroke="#2b2b2b" stroke-width="1.0" />
<line x1="461.90" y1="173.30" x2="470.50" y2="173.30" stroke="#2b2b2b" stroke-width="1.0" />
<line x1="493.80" y1="183.27" x2="493.80" y2="207.84" stroke="#2b2b2b" stroke-width="1.0" />
<line x1="489.50" y1="183.27" x2="498.10" y2="183.27" stroke="#2b2b2b" stroke-width="1.0" />
<line x1="489.50" y1="207.84" x2="498.10" y2="207.84" stroke="#2b2b2b" stroke-width="1.0" />
<circle cx="466.30" cy="163.00" r="1.3" fill="#cc0a2a" />
<circle cx="461.30" cy="166.80" r="1.3" fill="#cc0a2a" />
<circle cx="471.50" cy="168.80" r="1.3" fill="#cc0a2a" />
<circle cx="461.30" cy="172.30" r="1.3" fill="#cc0a2a" />
<circle cx="466.30" cy="170.20" r="1.3" fill="#cc0a2a" />
<circle cx="471.50" cy="172.30" r="1.3" fill="#cc0a2a" />
<circle cx="491.00" cy="177.13" r="1.3" fill="#0f4d8e" />
<circle cx="496.50" cy="177.13" r="1.3" fill="#0f4d8e" />
<circle cx="490.00" cy="188.53" r="1.3" fill="#0f4d8e" />
<circle cx="494.50" cy="188.53" r="1.3" fill="#0f4d8e" />
<circle cx="493.50" cy="193.80" r="1.3" fill="#0f4d8e" />
<circle cx="491.50" cy="200.82" r="1.3" fill="#0f4d8e" />
<circle cx="495.50" cy="201.70" r="1.3" fill="#0f4d8e" />
<circle cx="490.50" cy="210.47" r="1.3" fill="#0f4d8e" />
<circle cx="496.00" cy="210.47" r="1.3" fill="#0f4d8e" />
<line x1="448.30" y1="158.70" x2="448.30" y2="228.90" stroke="#1e1e1e" stroke-width="1.2" />
<line x1="445.30" y1="158.70" x2="448.30" y2="158.70" stroke="#1e1e1e" stroke-width="1.2" />
<text stroke="#231f20" stroke-width="0.12" x="441.70" y="161.40" font-size="7.5" text-anchor="end">10<tspan dy="-3.4" font-size="5.5">6</tspan></text>
<line x1="445.30" y1="176.25" x2="448.30" y2="176.25" stroke="#1e1e1e" stroke-width="1.2" />
<text stroke="#231f20" stroke-width="0.12" x="441.70" y="178.95" font-size="7.5" text-anchor="end">10<tspan dy="-3.4" font-size="5.5">5</tspan></text>
<line x1="445.30" y1="193.80" x2="448.30" y2="193.80" stroke="#1e1e1e" stroke-width="1.2" />
<text stroke="#231f20" stroke-width="0.12" x="441.70" y="196.50" font-size="7.5" text-anchor="end">10<tspan dy="-3.4" font-size="5.5">4</tspan></text>
<line x1="445.30" y1="211.35" x2="448.30" y2="211.35" stroke="#1e1e1e" stroke-width="1.2" />
<text stroke="#231f20" stroke-width="0.12" x="441.70" y="214.05" font-size="7.5" text-anchor="end">10<tspan dy="-3.4" font-size="5.5">3</tspan></text>
<line x1="445.30" y1="228.90" x2="448.30" y2="228.90" stroke="#1e1e1e" stroke-width="1.2" />
<text stroke="#231f20" stroke-width="0.12" x="441.70" y="231.60" font-size="7.5" text-anchor="end">10<tspan dy="-3.4" font-size="5.5">2</tspan></text>
<line x1="448.30" y1="228.90" x2="512.50" y2="228.90" stroke="#1e1e1e" stroke-width="1.2" />
<line x1="466.20" y1="228.90" x2="466.20" y2="231.70" stroke="#1e1e1e" stroke-width="1.2" />
<line x1="493.80" y1="228.90" x2="493.80" y2="231.70" stroke="#1e1e1e" stroke-width="1.2" />
<line x1="467.30" y1="158.70" x2="497.00" y2="158.70" stroke="#1e1e1e" stroke-width="1.0" />
<text x="482.15" y="160.30" font-size="10.5" text-anchor="middle" stroke="#231f20" stroke-width="0.12" textLength="8.2" lengthAdjust="spacingAndGlyphs" >**</text>
<text x="466.20" y="241.50" font-size="8.2" text-anchor="middle" stroke="#231f20" stroke-width="0.12" textLength="25.4" lengthAdjust="spacingAndGlyphs" >Isotype</text>
<text x="493.80" y="241.50" font-size="8.2" text-anchor="middle" fill="#3a72ab" stroke="#3a72ab" stroke-width="0.12" textLength="15.5" lengthAdjust="spacingAndGlyphs" >7C6-</text>
<text x="493.80" y="250.40" font-size="8.2" text-anchor="middle" fill="#3a72ab" stroke="#3a72ab" stroke-width="0.12" textLength="27.2" lengthAdjust="spacingAndGlyphs" >mIgG2a</text>
<text x="6.80" y="272.80" font-size="11" fill="#000" font-weight="bold" >E</text>
<text x="95.20" y="272.40" font-size="9.5" text-anchor="middle" stroke="#231f20" stroke-width="0.12" textLength="30" lengthAdjust="spacingAndGlyphs" >Isotype</text>
<text x="177.00" y="271.60" font-size="9.5" text-anchor="middle" fill="#3a72ab" stroke="#3a72ab" stroke-width="0.12" textLength="45" lengthAdjust="spacingAndGlyphs" >7C6-mIgG2a</text>
<text x="255.80" y="272.00" font-size="9.5" text-anchor="middle" stroke="#231f20" stroke-width="0.12" textLength="22.5" lengthAdjust="spacingAndGlyphs" >Naive</text>
<text x="39.20" y="303.70" font-size="10" text-anchor="middle" stroke="#231f20" stroke-width="0.12" textLength="24.6" lengthAdjust="spacingAndGlyphs" transform="rotate(-90 39.20 303.70)" >Blood</text>
<text x="50.90" y="303.80" font-size="10" text-anchor="middle" stroke="#231f20" stroke-width="0.12" textLength="25" lengthAdjust="spacingAndGlyphs" transform="rotate(-90 50.90 303.80)" >smear</text>
<text x="39.60" y="363.70" font-size="10" text-anchor="middle" stroke="#231f20" stroke-width="0.12" textLength="56.6" lengthAdjust="spacingAndGlyphs" transform="rotate(-90 39.60 363.70)" >Bone marrow</text>
<text x="50.80" y="364.00" font-size="10" text-anchor="middle" stroke="#231f20" stroke-width="0.12" textLength="38.5" lengthAdjust="spacingAndGlyphs" transform="rotate(-90 50.80 364.00)" >histology</text>
<rect x="57.10" y="275.80" width="76.20" height="56.40" fill="#d4644a" stroke="none" stroke-width="0" />
<filter id="t1" x="0" y="0" width="1" height="1" color-interpolation-filters="sRGB"><feTurbulence type="fractalNoise" baseFrequency="0.3 0.3" numOctaves="2" seed="3"/><feColorMatrix type="matrix" values="0 0 0 0 0.894 0 0 0 0 0.502 0 0 0 0 0.329 4.5 0 0 0 -2.1"/></filter>
<rect x="57.10" y="275.80" width="76.20" height="56.40" fill="#000" stroke="none" stroke-width="0" filter="url(#t1)"/>
<filter id="t2" x="0" y="0" width="1" height="1" color-interpolation-filters="sRGB"><feTurbulence type="fractalNoise" baseFrequency="0.7 0.7" numOctaves="1" seed="11"/><feColorMatrix type="matrix" values="0 0 0 0 0.784 0 0 0 0 0.282 0 0 0 0 0.243 4 0 0 0 -2.1"/></filter>
<rect x="57.10" y="275.80" width="76.20" height="56.40" fill="#000" stroke="none" stroke-width="0" filter="url(#t2)"/>
<filter id="t3" x="0" y="0" width="1" height="1" color-interpolation-filters="sRGB"><feTurbulence type="fractalNoise" baseFrequency="0.8 0.8" numOctaves="1" seed="12"/><feColorMatrix type="matrix" values="0 0 0 0 0.918 0 0 0 0 0.690 0 0 0 0 0.463 6 0 0 0 -3.6"/></filter>
<rect x="57.10" y="275.80" width="76.20" height="56.40" fill="#000" stroke="none" stroke-width="0" filter="url(#t3)"/>
<rect x="136.70" y="275.80" width="75.40" height="56.40" fill="#c06e26" stroke="none" stroke-width="0" />
<filter id="t4" x="0" y="0" width="1" height="1" color-interpolation-filters="sRGB"><feTurbulence type="fractalNoise" baseFrequency="0.33 0.33" numOctaves="2" seed="6"/><feColorMatrix type="matrix" values="0 0 0 0 0.886 0 0 0 0 0.698 0 0 0 0 0.235 6 0 0 0 -2.7"/></filter>
<rect x="136.70" y="275.80" width="75.40" height="56.40" fill="#000" stroke="none" stroke-width="0" filter="url(#t4)"/>
<filter id="t5" x="0" y="0" width="1" height="1" color-interpolation-filters="sRGB"><feTurbulence type="fractalNoise" baseFrequency="0.6 0.6" numOctaves="1" seed="21"/><feColorMatrix type="matrix" values="0 0 0 0 0.675 0 0 0 0 0.329 0 0 0 0 0.102 4.5 0 0 0 -2.1"/></filter>
<rect x="136.70" y="275.80" width="75.40" height="56.40" fill="#000" stroke="none" stroke-width="0" filter="url(#t5)"/>
<filter id="t6" x="0" y="0" width="1" height="1" color-interpolation-filters="sRGB"><feTurbulence type="fractalNoise" baseFrequency="0.9 0.9" numOctaves="1" seed="26"/><feColorMatrix type="matrix" values="0 0 0 0 0.925 0 0 0 0 0.769 0 0 0 0 0.290 5 0 0 0 -3.2"/></filter>
<rect x="136.70" y="275.80" width="75.40" height="56.40" fill="#000" stroke="none" stroke-width="0" filter="url(#t6)"/>
<rect x="216.00" y="275.80" width="75.90" height="56.40" fill="#bc6a26" stroke="none" stroke-width="0" />
<filter id="t7" x="0" y="0" width="1" height="1" color-interpolation-filters="sRGB"><feTurbulence type="fractalNoise" baseFrequency="0.33 0.33" numOctaves="2" seed="7"/><feColorMatrix type="matrix" values="0 0 0 0 0.863 0 0 0 0 0.675 0 0 0 0 0.227 6 0 0 0 -2.8"/></filter>
<rect x="216.00" y="275.80" width="75.90" height="56.40" fill="#000" stroke="none" stroke-width="0" filter="url(#t7)"/>
<filter id="t8" x="0" y="0" width="1" height="1" color-interpolation-filters="sRGB"><feTurbulence type="fractalNoise" baseFrequency="0.6 0.6" numOctaves="1" seed="22"/><feColorMatrix type="matrix" values="0 0 0 0 0.659 0 0 0 0 0.314 0 0 0 0 0.102 4.5 0 0 0 -2.0"/></filter>
<rect x="216.00" y="275.80" width="75.90" height="56.40" fill="#000" stroke="none" stroke-width="0" filter="url(#t8)"/>
<filter id="t9" x="0" y="0" width="1" height="1" color-interpolation-filters="sRGB"><feTurbulence type="fractalNoise" baseFrequency="0.9 0.9" numOctaves="1" seed="27"/><feColorMatrix type="matrix" values="0 0 0 0 0.910 0 0 0 0 0.745 0 0 0 0 0.275 5 0 0 0 -3.3"/></filter>
<rect x="216.00" y="275.80" width="75.90" height="56.40" fill="#000" stroke="none" stroke-width="0" filter="url(#t9)"/>
<rect x="57.10" y="335.20" width="76.20" height="56.60" fill="#d28ccb" stroke="none" stroke-width="0" />
<filter id="t10" x="0" y="0" width="1" height="1" color-interpolation-filters="sRGB"><feTurbulence type="fractalNoise" baseFrequency="0.5 0.5" numOctaves="2" seed="31"/><feColorMatrix type="matrix" values="0 0 0 0 0.957 0 0 0 0 0.886 0 0 0 0 0.957 5 0 0 0 -2.55"/></filter>
<rect x="57.10" y="335.20" width="76.20" height="56.60" fill="#000" stroke="none" stroke-width="0" filter="url(#t10)"/>
<filter id="t11" x="0" y="0" width="1" height="1" color-interpolation-filters="sRGB"><feTurbulence type="fractalNoise" baseFrequency="0.7 0.7" numOctaves="1" seed="32"/><feColorMatrix type="matrix" values="0 0 0 0 0.647 0 0 0 0 0.235 0 0 0 0 0.627 5 0 0 0 -2.25"/></filter>
<rect x="57.10" y="335.20" width="76.20" height="56.60" fill="#000" stroke="none" stroke-width="0" filter="url(#t11)"/>
<filter id="t12" x="0" y="0" width="1" height="1" color-interpolation-filters="sRGB"><feTurbulence type="fractalNoise" baseFrequency="0.9 0.9" numOctaves="1" seed="33"/><feColorMatrix type="matrix" values="0 0 0 0 0.784 0 0 0 0 0.157 0 0 0 0 0.510 5 0 0 0 -3.1"/></filter>
<rect x="57.10" y="335.20" width="76.20" height="56.60" fill="#000" stroke="none" stroke-width="0" filter="url(#t12)"/>
<path d="M127.30,335.20 L133.30,335.20 L133.30,375.20 C132.30,360.20 131.30,347.20 127.30,335.20 Z" fill="#dfe9dc"/>
<path d="M119.30,335.20 L127.30,335.20 C131.30,347.20 132.30,360.20 133.30,375.20 L133.30,383.20 C129.30,365.20 126.30,347.20 119.30,335.20 Z" fill="#8a1f7a" fill-opacity="0.45"/>
<rect x="136.70" y="335.20" width="75.40" height="56.60" fill="#f1f4ef" stroke="none" stroke-width="0" />
<filter id="t13" x="0" y="0" width="1" height="1" color-interpolation-filters="sRGB"><feTurbulence type="fractalNoise" baseFrequency="0.3 0.3" numOctaves="2" seed="41"/><feColorMatrix type="matrix" values="0 0 0 0 0.573 0 0 0 0 0.220 0 0 0 0 0.573 6 0 0 0 -2.55"/></filter>
<rect x="136.70" y="335.20" width="75.40" height="56.60" fill="#000" stroke="none" stroke-width="0" filter="url(#t13)"/>
<filter id="t14" x="0" y="0" width="1" height="1" color-interpolation-filters="sRGB"><feTurbulence type="fractalNoise" baseFrequency="0.8 0.8" numOctaves="1" seed="51"/><feColorMatrix type="matrix" values="0 0 0 0 0.376 0 0 0 0 0.102 0 0 0 0 0.424 5 0 0 0 -2.5"/></filter>
<rect x="136.70" y="335.20" width="75.40" height="56.60" fill="#000" stroke="none" stroke-width="0" filter="url(#t14)"/>
<filter id="t15" x="0" y="0" width="1" height="1" color-interpolation-filters="sRGB"><feTurbulence type="fractalNoise" baseFrequency="0.6 0.6" numOctaves="1" seed="56"/><feColorMatrix type="matrix" values="0 0 0 0 0.808 0 0 0 0 0.408 0 0 0 0 0.722 5 0 0 0 -2.9"/></filter>
<rect x="136.70" y="335.20" width="75.40" height="56.60" fill="#000" stroke="none" stroke-width="0" filter="url(#t15)"/>
<filter id="t16" x="0" y="0" width="1" height="1" color-interpolation-filters="sRGB"><feTurbulence type="fractalNoise" baseFrequency="0.07 0.07" numOctaves="2" seed="61"/><feColorMatrix type="matrix" values="0 0 0 0 0.949 0 0 0 0 0.965 0 0 0 0 0.941 9 0 0 0 -5.0"/></filter>
<rect x="136.70" y="335.20" width="75.40" height="56.60" fill="#000" stroke="none" stroke-width="0" filter="url(#t16)"/>
<rect x="216.00" y="335.20" width="75.90" height="56.60" fill="#f1f4ef" stroke="none" stroke-width="0" />
<filter id="t17" x="0" y="0" width="1" height="1" color-interpolation-filters="sRGB"><feTurbulence type="fractalNoise" baseFrequency="0.3 0.3" numOctaves="2" seed="42"/><feColorMatrix type="matrix" values="0 0 0 0 0.573 0 0 0 0 0.220 0 0 0 0 0.573 6 0 0 0 -2.4"/></filter>
<rect x="216.00" y="335.20" width="75.90" height="56.60" fill="#000" stroke="none" stroke-width="0" filter="url(#t17)"/>
<filter id="t18" x="0" y="0" width="1" height="1" color-interpolation-filters="sRGB"><feTurbulence type="fractalNoise" baseFrequency="0.8 0.8" numOctaves="1" seed="52"/><feColorMatrix type="matrix" values="0 0 0 0 0.376 0 0 0 0 0.102 0 0 0 0 0.424 5 0 0 0 -2.5"/></filter>
<rect x="216.00" y="335.20" width="75.90" height="56.60" fill="#000" stroke="none" stroke-width="0" filter="url(#t18)"/>
<filter id="t19" x="0" y="0" width="1" height="1" color-interpolation-filters="sRGB"><feTurbulence type="fractalNoise" baseFrequency="0.6 0.6" numOctaves="1" seed="57"/><feColorMatrix type="matrix" values="0 0 0 0 0.808 0 0 0 0 0.408 0 0 0 0 0.722 5 0 0 0 -2.9"/></filter>
<rect x="216.00" y="335.20" width="75.90" height="56.60" fill="#000" stroke="none" stroke-width="0" filter="url(#t19)"/>
<filter id="t20" x="0" y="0" width="1" height="1" color-interpolation-filters="sRGB"><feTurbulence type="fractalNoise" baseFrequency="0.07 0.07" numOctaves="2" seed="62"/><feColorMatrix type="matrix" values="0 0 0 0 0.949 0 0 0 0 0.965 0 0 0 0 0.941 9 0 0 0 -5.4"/></filter>
<rect x="216.00" y="335.20" width="75.90" height="56.60" fill="#000" stroke="none" stroke-width="0" filter="url(#t20)"/>
<ellipse cx="143.5" cy="385" rx="5.5" ry="4" fill="#d24f9e"/>
<circle cx="87.70" cy="281.70" r="1.15" fill="#3c3cc8" />
<line x1="91.70" y1="281.70" x2="96.30" y2="281.70" stroke="#000" stroke-width="1.2" />
<path d="M89.50,281.70 L92.70,279.70 L92.70,283.70 Z" fill="#000"/>
<circle cx="120.80" cy="280.30" r="1.15" fill="#3c3cc8" />
<line x1="124.80" y1="280.30" x2="129.40" y2="280.30" stroke="#000" stroke-width="1.2" />
<path d="M122.60,280.30 L125.80,278.30 L125.80,282.30 Z" fill="#000"/>
<circle cx="116.50" cy="287.50" r="1.15" fill="#3c3cc8" />
<line x1="120.50" y1="287.50" x2="125.10" y2="287.50" stroke="#000" stroke-width="1.2" />
<path d="M118.30,287.50 L121.50,285.50 L121.50,289.50 Z" fill="#000"/>
<circle cx="99.20" cy="291.00" r="1.15" fill="#3c3cc8" />
<line x1="103.20" y1="291.00" x2="107.80" y2="291.00" stroke="#000" stroke-width="1.2" />
<path d="M101.00,291.00 L104.20,289.00 L104.20,293.00 Z" fill="#000"/>
<circle cx="84.80" cy="296.20" r="1.15" fill="#3c3cc8" />
<line x1="88.80" y1="296.20" x2="93.40" y2="296.20" stroke="#000" stroke-width="1.2" />
<path d="M86.60,296.20 L89.80,294.20 L89.80,298.20 Z" fill="#000"/>
<circle cx="67.50" cy="297.00" r="1.15" fill="#3c3cc8" />
<line x1="71.50" y1="297.00" x2="76.10" y2="297.00" stroke="#000" stroke-width="1.2" />
<path d="M69.30,297.00 L72.50,295.00 L72.50,299.00 Z" fill="#000"/>
<circle cx="102.90" cy="302.20" r="1.15" fill="#3c3cc8" />
<line x1="106.90" y1="302.20" x2="111.50" y2="302.20" stroke="#000" stroke-width="1.2" />
<path d="M104.70,302.20 L107.90,300.20 L107.90,304.20 Z" fill="#000"/>
<circle cx="92.00" cy="310.00" r="1.15" fill="#3c3cc8" />
<line x1="96.00" y1="310.00" x2="100.60" y2="310.00" stroke="#000" stroke-width="1.2" />
<path d="M93.80,310.00 L97.00,308.00 L97.00,312.00 Z" fill="#000"/>
<circle cx="65.20" cy="312.30" r="1.15" fill="#3c3cc8" />
<line x1="69.20" y1="312.30" x2="73.80" y2="312.30" stroke="#000" stroke-width="1.2" />
<path d="M67.00,312.30 L70.20,310.30 L70.20,314.30 Z" fill="#000"/>
<circle cx="97.20" cy="318.40" r="1.15" fill="#3c3cc8" />
<line x1="101.20" y1="318.40" x2="105.80" y2="318.40" stroke="#000" stroke-width="1.2" />
<path d="M99.00,318.40 L102.20,316.40 L102.20,320.40 Z" fill="#000"/>
<circle cx="79.00" cy="320.70" r="1.15" fill="#3c3cc8" />
<line x1="83.00" y1="320.70" x2="87.60" y2="320.70" stroke="#000" stroke-width="1.2" />
<path d="M80.80,320.70 L84.00,318.70 L84.00,322.70 Z" fill="#000"/>
<circle cx="89.70" cy="325.60" r="1.15" fill="#3c3cc8" />
<line x1="93.70" y1="325.60" x2="98.30" y2="325.60" stroke="#000" stroke-width="1.2" />
<path d="M91.50,325.60 L94.70,323.60 L94.70,327.60 Z" fill="#000"/>
<text x="122.30" y="328.80" font-size="6.6" text-anchor="middle" fill="#111" stroke="#111" stroke-width="0.12" textLength="19" lengthAdjust="spacingAndGlyphs" >125 µm</text>
<line x1="113.80" y1="330.60" x2="131.30" y2="330.60" stroke="#000" stroke-width="1.3" />
<rect x="118.30" y="336.40" width="14.00" height="1.60" fill="#111" stroke="none" stroke-width="0" />
<text x="125.30" y="342.40" font-size="5.4" text-anchor="middle" fill="#444" stroke="#444" stroke-width="0.12" textLength="11.5" lengthAdjust="spacingAndGlyphs" >50 µm</text>
<text x="201.10" y="328.80" font-size="6.6" text-anchor="middle" fill="#111" stroke="#111" stroke-width="0.12" textLength="19" lengthAdjust="spacingAndGlyphs" >125 µm</text>
<line x1="192.60" y1="330.60" x2="210.10" y2="330.60" stroke="#000" stroke-width="1.3" />
<rect x="197.10" y="336.40" width="14.00" height="1.60" fill="#111" stroke="none" stroke-width="0" />
<text x="204.10" y="342.40" font-size="5.4" text-anchor="middle" fill="#444" stroke="#444" stroke-width="0.12" textLength="11.5" lengthAdjust="spacingAndGlyphs" >50 µm</text>
<text x="280.90" y="328.80" font-size="6.6" text-anchor="middle" fill="#111" stroke="#111" stroke-width="0.12" textLength="19" lengthAdjust="spacingAndGlyphs" >125 µm</text>
<line x1="272.40" y1="330.60" x2="289.90" y2="330.60" stroke="#000" stroke-width="1.3" />
<rect x="276.90" y="336.40" width="14.00" height="1.60" fill="#111" stroke="none" stroke-width="0" />
<text x="283.90" y="342.40" font-size="5.4" text-anchor="middle" fill="#444" stroke="#444" stroke-width="0.12" textLength="11.5" lengthAdjust="spacingAndGlyphs" >50 µm</text>
<text x="306.20" y="272.80" font-size="11" fill="#000" font-weight="bold" >F</text>
<line x1="335.20" y1="271.70" x2="335.20" y2="365.20" stroke="#1e1e1e" stroke-width="1.2" />
<line x1="331.70" y1="280.40" x2="335.20" y2="280.40" stroke="#1e1e1e" stroke-width="1.2" />
<text x="327.70" y="283.10" font-size="7.6" text-anchor="end" stroke="#231f20" stroke-width="0.12" >100</text>
<line x1="331.70" y1="322.80" x2="335.20" y2="322.80" stroke="#1e1e1e" stroke-width="1.2" />
<text x="327.70" y="325.50" font-size="7.6" text-anchor="end" stroke="#231f20" stroke-width="0.12" >50</text>
<line x1="331.70" y1="365.20" x2="335.20" y2="365.20" stroke="#1e1e1e" stroke-width="1.2" />
<text x="327.70" y="367.90" font-size="7.6" text-anchor="end" stroke="#231f20" stroke-width="0.12" >0</text>
<line x1="335.20" y1="365.20" x2="478.80" y2="365.20" stroke="#1e1e1e" stroke-width="1.2" />
<line x1="335.20" y1="365.20" x2="335.20" y2="368.20" stroke="#1e1e1e" stroke-width="1.2" />
<text x="335.20" y="377.40" font-size="7.6" text-anchor="middle" stroke="#231f20" stroke-width="0.12" >0</text>
<line x1="383.00" y1="365.20" x2="383.00" y2="368.20" stroke="#1e1e1e" stroke-width="1.2" />
<text x="383.00" y="377.40" font-size="7.6" text-anchor="middle" stroke="#231f20" stroke-width="0.12" >20</text>
<line x1="430.80" y1="365.20" x2="430.80" y2="368.20" stroke="#1e1e1e" stroke-width="1.2" />
<text x="430.80" y="377.40" font-size="7.6" text-anchor="middle" stroke="#231f20" stroke-width="0.12" >40</text>
<line x1="478.60" y1="365.20" x2="478.60" y2="368.20" stroke="#1e1e1e" stroke-width="1.2" />
<text x="478.60" y="377.40" font-size="7.6" text-anchor="middle" stroke="#231f20" stroke-width="0.12" >60</text>
<path d="M335.20,280.40 H381.09 V286.08 H387.54 V325.60 H390.17 V336.96 H394.47 V348.24 H399.73 V365.20" stroke="#cf1f40" stroke-width="1.5" fill="none" />
<path d="M335.20,280.40 H387.54 V291.68 H390.17 V303.04 H396.86 V314.32 H399.01 V320.00 H404.03 V331.28 H414.07 V336.96 H421.72 V342.56 H423.63 V353.92 H428.65 V359.52 H461.87 V365.20" stroke="#1b5796" stroke-width="1.5" fill="none" />
<text x="310.50" y="322.30" font-size="9.5" text-anchor="middle" stroke="#231f20" stroke-width="0.12" textLength="53" lengthAdjust="spacingAndGlyphs" transform="rotate(-90 310.50 322.30)" >Percent survival</text>
<text x="404.50" y="392.00" font-size="9.5" text-anchor="middle" stroke="#231f20" stroke-width="0.12" textLength="15.5" lengthAdjust="spacingAndGlyphs" >Days</text>
<text stroke="#231f20" stroke-width="0.12" x="343.8" y="355.5" font-size="8.4" textLength="29" lengthAdjust="spacingAndGlyphs"><tspan font-style="italic">p</tspan>&lt;0.001</text>
<text x="411.50" y="296.50" font-size="8.4" fill="#cf1f40" stroke="#cf1f40" stroke-width="0.12" textLength="51" lengthAdjust="spacingAndGlyphs" >Isotype (n=15)</text>
<text x="411.50" y="310.80" font-size="8.4" fill="#3a72ab" stroke="#3a72ab" stroke-width="0.12" textLength="15.5" lengthAdjust="spacingAndGlyphs" >7C6-</text>
<text x="411.50" y="319.60" font-size="8.4" fill="#3a72ab" stroke="#3a72ab" stroke-width="0.12" textLength="53.5" lengthAdjust="spacingAndGlyphs" >mIgG2a (n=15)</text>
<text x="6.80" y="414.80" font-size="11" fill="#000" font-weight="bold" >G</text>
<text x="103.80" y="418.60" font-size="9.6" text-anchor="middle" stroke="#231f20" stroke-width="0.12" textLength="47.5" lengthAdjust="spacingAndGlyphs" >Shed MICB</text>
<line x1="68.10" y1="423.70" x2="68.10" y2="488.10" stroke="#1e1e1e" stroke-width="1.2" />
<line x1="65.10" y1="423.70" x2="68.10" y2="423.70" stroke="#1e1e1e" stroke-width="1.2" />
<text stroke="#231f20" stroke-width="0.12" x="61.50" y="426.40" font-size="7.5" text-anchor="end">20</text>
<line x1="65.10" y1="439.80" x2="68.10" y2="439.80" stroke="#1e1e1e" stroke-width="1.2" />
<text stroke="#231f20" stroke-width="0.12" x="61.50" y="442.50" font-size="7.5" text-anchor="end">15</text>
<line x1="65.10" y1="455.90" x2="68.10" y2="455.90" stroke="#1e1e1e" stroke-width="1.2" />
<text stroke="#231f20" stroke-width="0.12" x="61.50" y="458.60" font-size="7.5" text-anchor="end">10</text>
<line x1="65.10" y1="472.00" x2="68.10" y2="472.00" stroke="#1e1e1e" stroke-width="1.2" />
<text stroke="#231f20" stroke-width="0.12" x="61.50" y="474.70" font-size="7.5" text-anchor="end">5</text>
<line x1="65.10" y1="488.10" x2="68.10" y2="488.10" stroke="#1e1e1e" stroke-width="1.2" />
<text stroke="#231f20" stroke-width="0.12" x="61.50" y="490.80" font-size="7.5" text-anchor="end">0</text>
<line x1="68.10" y1="488.10" x2="138.30" y2="488.10" stroke="#1e1e1e" stroke-width="1.2" />
<line x1="68.10" y1="488.10" x2="68.10" y2="491.10" stroke="#1e1e1e" stroke-width="1.2" />
<text x="68.10" y="499.70" font-size="7.5" text-anchor="middle" stroke="#231f20" stroke-width="0.12" >−1</text>
<line x1="88.50" y1="488.10" x2="88.50" y2="491.10" stroke="#1e1e1e" stroke-width="1.2" />
<text x="88.50" y="499.70" font-size="7.5" text-anchor="middle" stroke="#231f20" stroke-width="0.12" >0</text>
<line x1="108.90" y1="488.10" x2="108.90" y2="491.10" stroke="#1e1e1e" stroke-width="1.2" />
<text x="108.90" y="499.70" font-size="7.5" text-anchor="middle" stroke="#231f20" stroke-width="0.12" >1</text>
<line x1="129.30" y1="488.10" x2="129.30" y2="491.10" stroke="#1e1e1e" stroke-width="1.2" />
<text x="129.30" y="499.70" font-size="7.5" text-anchor="middle" stroke="#231f20" stroke-width="0.12" >2</text>
<text x="48.00" y="456.00" font-size="9.5" text-anchor="middle" stroke="#231f20" stroke-width="0.12" textLength="22" lengthAdjust="spacingAndGlyphs" transform="rotate(-90 48.00 456.00)" >ng/mL</text>
<path d="M78.30,436.95 L78.94,437.14 L79.57,437.33 L80.21,437.53 L80.85,437.73 L81.49,437.94 L82.12,438.15 L82.76,438.37 L83.40,438.59 L84.04,438.82 L84.67,439.05 L85.31,439.29 L85.95,439.53 L86.59,439.78 L87.22,440.04 L87.86,440.29 L88.50,440.56 L89.14,440.82 L89.77,441.09 L90.41,441.37 L91.05,441.65 L91.69,441.93 L92.32,442.22 L92.96,442.51 L93.60,442.80 L94.24,443.10 L94.88,443.40 L95.51,443.70 L96.15,444.01 L96.79,444.31 L97.42,444.62 L98.06,444.93 L98.70,445.24 L99.34,445.55 L99.97,445.86 L100.61,446.18 L101.25,446.49 L101.89,446.80 L102.52,447.11 L103.16,447.43 L103.80,447.74 L104.44,448.04 L105.07,448.35 L105.71,448.66 L106.35,448.96 L106.99,449.26 L107.62,449.56 L108.26,449.85 L108.90,450.14 L109.54,450.43 L110.17,450.72 L110.81,451.00 L111.45,451.28 L112.09,451.55 L112.72,451.82 L113.36,452.08 L114.00,452.34 L114.64,452.60 L115.27,452.85 L115.91,453.09 L116.55,453.33 L117.19,453.57 L117.82,453.80 L118.46,454.02 L119.10,454.24 L119.74,454.46 L120.38,454.67 L121.01,454.87 L121.65,455.07 L122.29,455.26 L122.92,455.45 L123.56,455.64 L124.20,455.82 L124.84,455.99 L125.47,456.16 L126.11,456.32 L126.75,456.48 L127.39,456.64 L128.02,456.78 L128.66,456.93 L129.30,457.07" stroke="#1b5796" stroke-width="1.1" fill="none" />
<path d="M78.30,433.85 L78.94,433.85 L79.57,433.85 L80.21,433.85 L80.85,433.86 L81.49,433.86 L82.12,433.87 L82.76,433.87 L83.40,433.88 L84.04,433.89 L84.67,433.90 L85.31,433.92 L85.95,433.94 L86.59,433.95 L87.22,433.98 L87.86,434.00 L88.50,434.03 L89.14,434.04 L89.77,434.05 L90.41,434.05 L91.05,434.05 L91.69,434.05 L92.32,434.04 L92.96,434.03 L93.60,434.01 L94.24,433.99 L94.88,433.96 L95.51,433.92 L96.15,433.88 L96.79,433.82 L97.42,433.77 L98.06,433.70 L98.70,433.63 L99.34,433.55 L99.97,433.46 L100.61,433.37 L101.25,433.28 L101.89,433.19 L102.52,433.09 L103.16,432.99 L103.80,432.89 L104.44,432.79 L105.07,432.69 L105.71,432.60 L106.35,432.50 L106.99,432.40 L107.62,432.31 L108.26,432.22 L108.90,432.13 L109.54,432.04 L110.17,431.95 L110.81,431.86 L111.45,431.78 L112.09,431.69 L112.72,431.60 L113.36,431.52 L114.00,431.43 L114.64,431.34 L115.27,431.25 L115.91,431.17 L116.55,431.08 L117.19,430.99 L117.82,430.90 L118.46,430.81 L119.10,430.72 L119.74,430.63 L120.38,430.54 L121.01,430.44 L121.65,430.35 L122.29,430.25 L122.92,430.16 L123.56,430.06 L124.20,429.97 L124.84,429.87 L125.47,429.77 L126.11,429.67 L126.75,429.57 L127.39,429.47 L128.02,429.37 L128.66,429.27 L129.30,429.17" stroke="#cf1f40" stroke-width="1.1" fill="none" />
<line x1="78.30" y1="429.50" x2="78.30" y2="434.65" stroke="#cf1f40" stroke-width="0.9" />
<circle cx="78.30" cy="434.97" r="2.1" fill="#1b5796" />
<circle cx="88.50" cy="443.02" r="2.1" fill="#1b5796" />
<circle cx="98.70" cy="446.24" r="2.1" fill="#1b5796" />
<circle cx="108.90" cy="448.82" r="2.1" fill="#1b5796" />
<circle cx="119.10" cy="451.07" r="2.1" fill="#1b5796" />
<rect x="127.45" y="458.56" width="3.70" height="3.70" fill="#1b5796" stroke="none" stroke-width="0" />
<rect x="76.45" y="430.22" width="3.70" height="3.70" fill="#cf1f40" stroke="none" stroke-width="0" />
<rect x="86.65" y="432.15" width="3.70" height="3.70" fill="#cf1f40" stroke="none" stroke-width="0" />
<circle cx="98.70" cy="434.97" r="2.1" fill="#cc0a2a" />
<circle cx="108.90" cy="433.36" r="2.1" fill="#cc0a2a" />
<circle cx="119.10" cy="431.75" r="2.1" fill="#cc0a2a" />
<circle cx="129.30" cy="429.50" r="2.1" fill="#cc0a2a" />
<line x1="70.20" y1="463.70" x2="81.00" y2="463.70" stroke="#cf1f40" stroke-width="1.1" />
<circle cx="75.50" cy="463.70" r="2.6" fill="#cc0a2a" />
<text x="84.60" y="466.40" font-size="7.8" stroke="#231f20" stroke-width="0.12" textLength="24.5" lengthAdjust="spacingAndGlyphs" >Isotype</text>
<line x1="70.20" y1="475.30" x2="81.00" y2="475.30" stroke="#1b5796" stroke-width="1.1" />
<circle cx="75.50" cy="475.30" r="2.6" fill="#1b5796" />
<text x="84.60" y="478.00" font-size="7.8" fill="#3a72ab" stroke="#3a72ab" stroke-width="0.12" textLength="40.5" lengthAdjust="spacingAndGlyphs" >7C6-mIgG2a</text>
<text x="215.60" y="418.60" font-size="9.6" text-anchor="middle" stroke="#231f20" stroke-width="0.12" textLength="58" lengthAdjust="spacingAndGlyphs" >Surface MICB</text>
<line x1="180.20" y1="424.60" x2="180.20" y2="488.20" stroke="#1e1e1e" stroke-width="1.2" />
<line x1="177.20" y1="424.60" x2="180.20" y2="424.60" stroke="#1e1e1e" stroke-width="1.2" />
<text stroke="#231f20" stroke-width="0.12" x="173.60" y="427.30" font-size="7.5" text-anchor="end">1800</text>
<line x1="177.20" y1="445.80" x2="180.20" y2="445.80" stroke="#1e1e1e" stroke-width="1.2" />
<text stroke="#231f20" stroke-width="0.12" x="173.60" y="448.50" font-size="7.5" text-anchor="end">1200</text>
<line x1="177.20" y1="467.00" x2="180.20" y2="467.00" stroke="#1e1e1e" stroke-width="1.2" />
<text stroke="#231f20" stroke-width="0.12" x="173.60" y="469.70" font-size="7.5" text-anchor="end">600</text>
<line x1="177.20" y1="488.20" x2="180.20" y2="488.20" stroke="#1e1e1e" stroke-width="1.2" />
<text stroke="#231f20" stroke-width="0.12" x="173.60" y="490.90" font-size="7.5" text-anchor="end">0</text>
<line x1="180.20" y1="488.20" x2="249.80" y2="488.20" stroke="#1e1e1e" stroke-width="1.2" />
<line x1="180.20" y1="488.20" x2="180.20" y2="491.20" stroke="#1e1e1e" stroke-width="1.2" />
<text x="180.20" y="499.80" font-size="7.5" text-anchor="middle" stroke="#231f20" stroke-width="0.12" >−1</text>
<line x1="199.95" y1="488.20" x2="199.95" y2="491.20" stroke="#1e1e1e" stroke-width="1.2" />
<text x="199.95" y="499.80" font-size="7.5" text-anchor="middle" stroke="#231f20" stroke-width="0.12" >0</text>
<line x1="219.70" y1="488.20" x2="219.70" y2="491.20" stroke="#1e1e1e" stroke-width="1.2" />
<text x="219.70" y="499.80" font-size="7.5" text-anchor="middle" stroke="#231f20" stroke-width="0.12" >1</text>
<line x1="239.45" y1="488.20" x2="239.45" y2="491.20" stroke="#1e1e1e" stroke-width="1.2" />
<text x="239.45" y="499.80" font-size="7.5" text-anchor="middle" stroke="#231f20" stroke-width="0.12" >2</text>
<text x="150.50" y="453.00" font-size="9.5" text-anchor="middle" stroke="#231f20" stroke-width="0.12" textLength="11.5" lengthAdjust="spacingAndGlyphs" transform="rotate(-90 150.50 453.00)" >MFI</text>
<path d="M190.07,461.69 L190.69,461.59 L191.31,461.49 L191.93,461.37 L192.54,461.26 L193.16,461.13 L193.78,461.01 L194.40,460.87 L195.01,460.73 L195.63,460.58 L196.25,460.42 L196.86,460.25 L197.48,460.08 L198.10,459.90 L198.72,459.71 L199.33,459.50 L199.95,459.30 L200.57,459.08 L201.18,458.85 L201.80,458.61 L202.42,458.36 L203.04,458.10 L203.65,457.82 L204.27,457.54 L204.89,457.25 L205.50,456.94 L206.12,456.62 L206.74,456.29 L207.36,455.95 L207.97,455.59 L208.59,455.22 L209.21,454.84 L209.82,454.45 L210.44,454.05 L211.06,453.63 L211.68,453.20 L212.29,452.76 L212.91,452.31 L213.53,451.84 L214.15,451.37 L214.76,450.89 L215.38,450.39 L216.00,449.89 L216.61,449.37 L217.23,448.85 L217.85,448.32 L218.47,447.79 L219.08,447.25 L219.70,446.70 L220.32,446.15 L220.93,445.60 L221.55,445.04 L222.17,444.48 L222.79,443.92 L223.40,443.36 L224.02,442.80 L224.64,442.25 L225.25,441.70 L225.87,441.15 L226.49,440.60 L227.11,440.06 L227.72,439.53 L228.34,439.00 L228.96,438.49 L229.57,437.98 L230.19,437.48 L230.81,436.99 L231.43,436.51 L232.04,436.04 L232.66,435.58 L233.28,435.13 L233.90,434.69 L234.51,434.27 L235.13,433.86 L235.75,433.46 L236.36,433.07 L236.98,432.69 L237.60,432.33 L238.22,431.98 L238.83,431.64 L239.45,431.32" stroke="#1b5796" stroke-width="1.1" fill="none" />
<path d="M190.07,465.06 L190.69,464.86 L191.31,464.67 L191.93,464.50 L192.54,464.33 L193.16,464.18 L193.78,464.04 L194.40,463.91 L195.01,463.79 L195.63,463.67 L196.25,463.56 L196.86,463.46 L197.48,463.37 L198.10,463.28 L198.72,463.20 L199.33,463.12 L199.95,463.05 L200.57,462.99 L201.18,462.92 L201.80,462.87 L202.42,462.81 L203.04,462.76 L203.65,462.72 L204.27,462.67 L204.89,462.63 L205.50,462.59 L206.12,462.56 L206.74,462.52 L207.36,462.49 L207.97,462.46 L208.59,462.44 L209.21,462.41 L209.82,462.39 L210.44,462.36 L211.06,462.34 L211.68,462.32 L212.29,462.31 L212.91,462.29 L213.53,462.27 L214.15,462.26 L214.76,462.25 L215.38,462.23 L216.00,462.22 L216.61,462.21 L217.23,462.20 L217.85,462.19 L218.47,462.18 L219.08,462.17 L219.70,462.16 L220.32,462.16 L220.93,462.15 L221.55,462.14 L222.17,462.14 L222.79,462.13 L223.40,462.13 L224.02,462.12 L224.64,462.12 L225.25,462.11 L225.87,462.11 L226.49,462.11 L227.11,462.10 L227.72,462.10 L228.34,462.10 L228.96,462.09 L229.57,462.09 L230.19,462.09 L230.81,462.09 L231.43,462.08 L232.04,462.08 L232.66,462.08 L233.28,462.08 L233.90,462.19 L234.51,462.37 L235.13,462.55 L235.75,462.73 L236.36,462.92 L236.98,463.10 L237.60,463.28 L238.22,463.47 L238.83,463.65 L239.45,463.83" stroke="#cf1f40" stroke-width="1.1" fill="none" />
<line x1="190.07" y1="456.19" x2="190.07" y2="461.84" stroke="#1b5796" stroke-width="0.9" />
<line x1="188.07" y1="456.19" x2="192.07" y2="456.19" stroke="#1b5796" stroke-width="0.9" />
<line x1="188.07" y1="461.84" x2="192.07" y2="461.84" stroke="#1b5796" stroke-width="0.9" />
<line x1="209.82" y1="454.28" x2="209.82" y2="458.52" stroke="#1b5796" stroke-width="0.9" />
<line x1="207.82" y1="454.28" x2="211.82" y2="454.28" stroke="#1b5796" stroke-width="0.9" />
<line x1="207.82" y1="458.52" x2="211.82" y2="458.52" stroke="#1b5796" stroke-width="0.9" />
<line x1="219.70" y1="447.21" x2="219.70" y2="451.45" stroke="#1b5796" stroke-width="0.9" />
<line x1="217.70" y1="447.21" x2="221.70" y2="447.21" stroke="#1b5796" stroke-width="0.9" />
<line x1="217.70" y1="451.45" x2="221.70" y2="451.45" stroke="#1b5796" stroke-width="0.9" />
<line x1="239.45" y1="462.76" x2="239.45" y2="467.71" stroke="#cf1f40" stroke-width="0.9" />
<circle cx="199.95" cy="465.09" r="2.1" fill="#1b5796" />
<circle cx="190.07" cy="465.09" r="2.1" fill="#cc0a2a" />
<circle cx="199.95" cy="463.47" r="2.1" fill="#cc0a2a" />
<circle cx="209.82" cy="461.35" r="2.1" fill="#cc0a2a" />
<circle cx="219.70" cy="461.35" r="2.1" fill="#cc0a2a" />
<circle cx="229.57" cy="461.35" r="2.1" fill="#cc0a2a" />
<rect x="237.60" y="463.74" width="3.70" height="3.70" fill="#cf1f40" stroke="none" stroke-width="0" />
<circle cx="190.07" cy="459.01" r="2.1" fill="#1b5796" />
<circle cx="209.82" cy="456.40" r="2.1" fill="#1b5796" />
<circle cx="219.70" cy="449.33" r="2.1" fill="#1b5796" />
<circle cx="229.57" cy="439.09" r="2.1" fill="#1b5796" />
<circle cx="239.45" cy="432.37" r="2.1" fill="#1b5796" />
<text stroke="#231f20" stroke-width="0.12" x="89.4" y="513.5" font-size="10.2" textLength="126.4" lengthAdjust="spacingAndGlyphs">Log<tspan dy="2" font-size="5.5">10</tspan><tspan dy="-2"> antibody concentration (µg/mL)</tspan></text>
<text x="306.20" y="414.80" font-size="11" fill="#000" font-weight="bold" >H</text>
<text x="326.30" y="414.50" font-size="9" stroke="#231f20" stroke-width="0.12" textLength="135" lengthAdjust="spacingAndGlyphs" >Frequency of WEHI-3 AML cells</text>
<text x="368.00" y="425.50" font-size="8.2" text-anchor="middle" stroke="#231f20" stroke-width="0.12" textLength="21" lengthAdjust="spacingAndGlyphs" >Blood</text>
<text x="454.40" y="425.00" font-size="8.4" text-anchor="middle" stroke="#231f20" stroke-width="0.12" textLength="47.3" lengthAdjust="spacingAndGlyphs" >Bone marrow</text>
<text x="315.00" y="453.80" font-size="9.5" text-anchor="middle" stroke="#231f20" stroke-width="0.12" textLength="37.5" lengthAdjust="spacingAndGlyphs" transform="rotate(-90 315.00 453.80)" >Percentage</text>
<line x1="335.40" y1="424.40" x2="335.40" y2="435.70" stroke="#1e1e1e" stroke-width="1.2" />
<line x1="332.40" y1="424.40" x2="335.40" y2="424.40" stroke="#1e1e1e" stroke-width="1.2" />
<line x1="332.40" y1="435.70" x2="338.60" y2="435.70" stroke="#1e1e1e" stroke-width="1.2" />
<text x="328.80" y="427.10" font-size="7.5" text-anchor="end" stroke="#231f20" stroke-width="0.12" >40</text>
<text x="328.80" y="438.40" font-size="7.5" text-anchor="end" stroke="#231f20" stroke-width="0.12" >20</text>
<rect x="345.85" y="478.95" width="16.10" height="9.85" fill="#e5899a" stroke="#e07a8c" stroke-width="0.7" />
<line x1="353.80" y1="462.90" x2="353.80" y2="483.40" stroke="#2b2b2b" stroke-width="1.0" />
<line x1="349.30" y1="462.90" x2="358.30" y2="462.90" stroke="#2b2b2b" stroke-width="1.0" />
<line x1="349.30" y1="483.40" x2="358.30" y2="483.40" stroke="#2b2b2b" stroke-width="1.0" />
<circle cx="353.80" cy="430.50" r="1.3" fill="#cc0a2a" />
<circle cx="353.80" cy="455.00" r="1.3" fill="#cc0a2a" />
<circle cx="351.00" cy="467.30" r="1.3" fill="#cc0a2a" />
<circle cx="356.50" cy="466.30" r="1.3" fill="#cc0a2a" />
<circle cx="351.00" cy="478.00" r="1.3" fill="#cc0a2a" />
<circle cx="356.50" cy="477.30" r="1.3" fill="#cc0a2a" />
<circle cx="351.00" cy="480.80" r="1.3" fill="#cc0a2a" />
<circle cx="356.50" cy="480.50" r="1.3" fill="#cc0a2a" />
<circle cx="351.00" cy="488.20" r="1.3" fill="#cc0a2a" />
<circle cx="356.50" cy="488.20" r="1.3" fill="#cc0a2a" />
<circle cx="373.00" cy="487.90" r="1.15" fill="#0f4d8e" />
<circle cx="375.50" cy="487.90" r="1.15" fill="#0f4d8e" />
<circle cx="378.00" cy="487.90" r="1.15" fill="#0f4d8e" />
<circle cx="380.50" cy="487.90" r="1.15" fill="#0f4d8e" />
<circle cx="383.00" cy="487.90" r="1.15" fill="#0f4d8e" />
<circle cx="385.50" cy="487.90" r="1.15" fill="#0f4d8e" />
<circle cx="388.00" cy="487.90" r="1.15" fill="#0f4d8e" />
<line x1="372.00" y1="487.90" x2="389.00" y2="487.90" stroke="#1b5796" stroke-width="1.3" />
<line x1="335.40" y1="445.80" x2="335.40" y2="488.80" stroke="#1e1e1e" stroke-width="1.2" />
<line x1="332.40" y1="445.80" x2="335.40" y2="445.80" stroke="#1e1e1e" stroke-width="1.2" />
<text stroke="#231f20" stroke-width="0.12" x="328.80" y="448.50" font-size="7.5" text-anchor="end">10</text>
<line x1="332.40" y1="467.30" x2="335.40" y2="467.30" stroke="#1e1e1e" stroke-width="1.2" />
<text stroke="#231f20" stroke-width="0.12" x="328.80" y="470.00" font-size="7.5" text-anchor="end">5</text>
<line x1="332.40" y1="488.80" x2="335.40" y2="488.80" stroke="#1e1e1e" stroke-width="1.2" />
<text stroke="#231f20" stroke-width="0.12" x="328.80" y="491.50" font-size="7.5" text-anchor="end">0</text>
<line x1="335.40" y1="445.80" x2="338.60" y2="445.80" stroke="#1e1e1e" stroke-width="1.2" />
<line x1="335.40" y1="488.80" x2="390.00" y2="488.80" stroke="#1e1e1e" stroke-width="1.2" />
<line x1="353.80" y1="488.80" x2="353.80" y2="491.60" stroke="#1e1e1e" stroke-width="1.2" />
<line x1="381.30" y1="488.80" x2="381.30" y2="491.60" stroke="#1e1e1e" stroke-width="1.2" />
<line x1="353.00" y1="447.50" x2="383.00" y2="447.50" stroke="#1e1e1e" stroke-width="1.0" />
<text x="368.00" y="449.10" font-size="10.5" text-anchor="middle" stroke="#231f20" stroke-width="0.12" textLength="12.299999999999999" lengthAdjust="spacingAndGlyphs" >***</text>
<text x="353.90" y="499.40" font-size="8.2" text-anchor="middle" stroke="#231f20" stroke-width="0.12" textLength="23.6" lengthAdjust="spacingAndGlyphs" >Isotype</text>
<text x="381.30" y="499.40" font-size="8.2" text-anchor="middle" fill="#3a72ab" stroke="#3a72ab" stroke-width="0.12" textLength="15.5" lengthAdjust="spacingAndGlyphs" >7C6-</text>
<text x="381.30" y="508.00" font-size="8.2" text-anchor="middle" fill="#3a72ab" stroke="#3a72ab" stroke-width="0.12" textLength="27.2" lengthAdjust="spacingAndGlyphs" >mIgG2a</text>
<rect x="431.65" y="475.41" width="16.30" height="13.09" fill="#e5899a" stroke="#e07a8c" stroke-width="0.7" />
<line x1="440.00" y1="449.62" x2="440.00" y2="487.22" stroke="#2b2b2b" stroke-width="1.0" />
<line x1="435.50" y1="449.62" x2="444.50" y2="449.62" stroke="#2b2b2b" stroke-width="1.0" />
<line x1="435.50" y1="487.22" x2="444.50" y2="487.22" stroke="#2b2b2b" stroke-width="1.0" />
<circle cx="440.00" cy="440.50" r="1.3" fill="#cc0a2a" />
<circle cx="438.00" cy="443.70" r="1.3" fill="#cc0a2a" />
<circle cx="440.00" cy="456.50" r="1.3" fill="#cc0a2a" />
<circle cx="440.00" cy="464.50" r="1.3" fill="#cc0a2a" />
<circle cx="440.00" cy="472.50" r="1.3" fill="#cc0a2a" />
<circle cx="436.00" cy="475.70" r="1.3" fill="#cc0a2a" />
<circle cx="444.00" cy="479.70" r="1.3" fill="#cc0a2a" />
<circle cx="440.00" cy="486.58" r="1.3" fill="#cc0a2a" />
<circle cx="435.50" cy="487.70" r="1.3" fill="#cc0a2a" />
<circle cx="444.50" cy="487.70" r="1.3" fill="#cc0a2a" />
<circle cx="459.00" cy="488.02" r="1.15" fill="#0f4d8e" />
<circle cx="461.50" cy="488.02" r="1.15" fill="#0f4d8e" />
<circle cx="464.00" cy="488.02" r="1.15" fill="#0f4d8e" />
<circle cx="466.50" cy="488.02" r="1.15" fill="#0f4d8e" />
<circle cx="469.00" cy="488.02" r="1.15" fill="#0f4d8e" />
<circle cx="471.50" cy="488.02" r="1.15" fill="#0f4d8e" />
<circle cx="474.00" cy="488.02" r="1.15" fill="#0f4d8e" />
<line x1="458.00" y1="487.86" x2="475.00" y2="487.86" stroke="#1b5796" stroke-width="1.3" />
<line x1="421.25" y1="424.50" x2="421.25" y2="488.50" stroke="#1e1e1e" stroke-width="1.2" />
<line x1="418.25" y1="424.50" x2="421.25" y2="424.50" stroke="#1e1e1e" stroke-width="1.2" />
<text stroke="#231f20" stroke-width="0.12" x="414.65" y="427.20" font-size="7.5" text-anchor="end">40</text>
<line x1="418.25" y1="440.50" x2="421.25" y2="440.50" stroke="#1e1e1e" stroke-width="1.2" />
<text stroke="#231f20" stroke-width="0.12" x="414.65" y="443.20" font-size="7.5" text-anchor="end">30</text>
<line x1="418.25" y1="456.50" x2="421.25" y2="456.50" stroke="#1e1e1e" stroke-width="1.2" />
<text stroke="#231f20" stroke-width="0.12" x="414.65" y="459.20" font-size="7.5" text-anchor="end">20</text>
<line x1="418.25" y1="472.50" x2="421.25" y2="472.50" stroke="#1e1e1e" stroke-width="1.2" />
<text stroke="#231f20" stroke-width="0.12" x="414.65" y="475.20" font-size="7.5" text-anchor="end">10</text>
<line x1="418.25" y1="488.50" x2="421.25" y2="488.50" stroke="#1e1e1e" stroke-width="1.2" />
<text stroke="#231f20" stroke-width="0.12" x="414.65" y="491.20" font-size="7.5" text-anchor="end">0</text>
<line x1="421.25" y1="488.50" x2="486.30" y2="488.50" stroke="#1e1e1e" stroke-width="1.2" />
<line x1="440.00" y1="488.50" x2="440.00" y2="491.30" stroke="#1e1e1e" stroke-width="1.2" />
<line x1="467.50" y1="488.50" x2="467.50" y2="491.30" stroke="#1e1e1e" stroke-width="1.2" />
<line x1="441.30" y1="436.30" x2="471.30" y2="436.30" stroke="#1e1e1e" stroke-width="1.0" />
<text x="456.30" y="437.90" font-size="10.5" text-anchor="middle" stroke="#231f20" stroke-width="0.12" textLength="12.299999999999999" lengthAdjust="spacingAndGlyphs" >***</text>
<text x="440.00" y="499.40" font-size="8.2" text-anchor="middle" stroke="#231f20" stroke-width="0.12" textLength="23.6" lengthAdjust="spacingAndGlyphs" >Isotype</text>
<text x="467.50" y="499.40" font-size="8.2" text-anchor="middle" fill="#3a72ab" stroke="#3a72ab" stroke-width="0.12" textLength="15.5" lengthAdjust="spacingAndGlyphs" >7C6-</text>
<text x="467.50" y="508.00" font-size="8.2" text-anchor="middle" fill="#3a72ab" stroke="#3a72ab" stroke-width="0.12" textLength="27.2" lengthAdjust="spacingAndGlyphs" >mIgG2a</text>
<text x="6.20" y="531.30" font-size="11" fill="#000" font-weight="bold" >I</text>
<text x="58.00" y="531.30" font-size="9" stroke="#231f20" stroke-width="0.12" textLength="168.3" lengthAdjust="spacingAndGlyphs" >Absolute numbers of WEHI-3 AML cells</text>
<text x="100.00" y="545.40" font-size="8.2" text-anchor="middle" stroke="#231f20" stroke-width="0.12" textLength="21" lengthAdjust="spacingAndGlyphs" >Blood</text>
<text x="206.20" y="545.40" font-size="8.4" text-anchor="middle" stroke="#231f20" stroke-width="0.12" textLength="47.5" lengthAdjust="spacingAndGlyphs" >Bone marrow</text>
<text x="43.00" y="581.30" font-size="9.2" text-anchor="middle" stroke="#231f20" stroke-width="0.12" textLength="49" lengthAdjust="spacingAndGlyphs" transform="rotate(-90 43.00 581.30)" >WEHI-3 per mL</text>
<text x="150.50" y="582.50" font-size="9.2" text-anchor="middle" stroke="#231f20" stroke-width="0.12" textLength="58" lengthAdjust="spacingAndGlyphs" transform="rotate(-90 150.50 582.50)" >WEHI-3 per femur</text>
<rect x="77.85" y="575.95" width="16.20" height="37.05" fill="#e5899a" stroke="#e07a8c" stroke-width="0.7" />
<rect x="105.25" y="599.45" width="16.60" height="13.55" fill="#87a9cb" stroke="#7a9fc4" stroke-width="0.7" />
<line x1="86.00" y1="568.20" x2="86.00" y2="580.60" stroke="#2b2b2b" stroke-width="1.0" />
<line x1="81.20" y1="568.20" x2="90.80" y2="568.20" stroke="#2b2b2b" stroke-width="1.0" />
<line x1="81.20" y1="580.60" x2="90.80" y2="580.60" stroke="#2b2b2b" stroke-width="1.0" />
<line x1="113.40" y1="588.50" x2="113.40" y2="606.60" stroke="#2b2b2b" stroke-width="1.0" />
<line x1="108.60" y1="588.50" x2="118.20" y2="588.50" stroke="#2b2b2b" stroke-width="1.0" />
<line x1="108.60" y1="606.60" x2="118.20" y2="606.60" stroke="#2b2b2b" stroke-width="1.0" />
<circle cx="86.00" cy="558.10" r="1.3" fill="#cc0a2a" />
<circle cx="86.00" cy="565.00" r="1.3" fill="#cc0a2a" />
<circle cx="80.50" cy="574.80" r="1.3" fill="#cc0a2a" />
<circle cx="86.00" cy="575.30" r="1.3" fill="#cc0a2a" />
<circle cx="91.50" cy="574.80" r="1.3" fill="#cc0a2a" />
<circle cx="80.50" cy="580.60" r="1.3" fill="#cc0a2a" />
<circle cx="89.00" cy="580.60" r="1.3" fill="#cc0a2a" />
<circle cx="86.00" cy="585.40" r="1.3" fill="#cc0a2a" />
<circle cx="86.00" cy="592.30" r="1.3" fill="#cc0a2a" />
<circle cx="108.30" cy="588.50" r="1.3" fill="#0f4d8e" />
<circle cx="113.40" cy="588.50" r="1.3" fill="#0f4d8e" />
<circle cx="118.50" cy="588.50" r="1.3" fill="#0f4d8e" />
<circle cx="111.00" cy="595.70" r="1.3" fill="#0f4d8e" />
<circle cx="116.00" cy="596.50" r="1.3" fill="#0f4d8e" />
<circle cx="108.80" cy="603.50" r="1.3" fill="#0f4d8e" />
<circle cx="118.50" cy="603.50" r="1.3" fill="#0f4d8e" />
<circle cx="113.40" cy="606.30" r="1.3" fill="#0f4d8e" />
<circle cx="113.40" cy="612.50" r="1.3" fill="#0f4d8e" />
<line x1="67.90" y1="549.40" x2="67.90" y2="613.00" stroke="#1e1e1e" stroke-width="1.2" />
<line x1="64.90" y1="549.40" x2="67.90" y2="549.40" stroke="#1e1e1e" stroke-width="1.2" />
<text stroke="#231f20" stroke-width="0.12" x="61.30" y="552.10" font-size="7.5" text-anchor="end">10<tspan dy="-3.4" font-size="5.5">8</tspan></text>
<line x1="64.90" y1="560.00" x2="67.90" y2="560.00" stroke="#1e1e1e" stroke-width="1.2" />
<text stroke="#231f20" stroke-width="0.12" x="61.30" y="562.70" font-size="7.5" text-anchor="end">10<tspan dy="-3.4" font-size="5.5">7</tspan></text>
<line x1="64.90" y1="570.60" x2="67.90" y2="570.60" stroke="#1e1e1e" stroke-width="1.2" />
<text stroke="#231f20" stroke-width="0.12" x="61.30" y="573.30" font-size="7.5" text-anchor="end">10<tspan dy="-3.4" font-size="5.5">6</tspan></text>
<line x1="64.90" y1="581.20" x2="67.90" y2="581.20" stroke="#1e1e1e" stroke-width="1.2" />
<text stroke="#231f20" stroke-width="0.12" x="61.30" y="583.90" font-size="7.5" text-anchor="end">10<tspan dy="-3.4" font-size="5.5">5</tspan></text>
<line x1="64.90" y1="591.80" x2="67.90" y2="591.80" stroke="#1e1e1e" stroke-width="1.2" />
<text stroke="#231f20" stroke-width="0.12" x="61.30" y="594.50" font-size="7.5" text-anchor="end">10<tspan dy="-3.4" font-size="5.5">4</tspan></text>
<line x1="64.90" y1="602.40" x2="67.90" y2="602.40" stroke="#1e1e1e" stroke-width="1.2" />
<text stroke="#231f20" stroke-width="0.12" x="61.30" y="605.10" font-size="7.5" text-anchor="end">10<tspan dy="-3.4" font-size="5.5">3</tspan></text>
<line x1="64.90" y1="613.00" x2="67.90" y2="613.00" stroke="#1e1e1e" stroke-width="1.2" />
<text stroke="#231f20" stroke-width="0.12" x="61.30" y="615.70" font-size="7.5" text-anchor="end">10<tspan dy="-3.4" font-size="5.5">2</tspan></text>
<line x1="67.90" y1="613.00" x2="132.00" y2="613.00" stroke="#1e1e1e" stroke-width="1.2" />
<line x1="86.00" y1="613.00" x2="86.00" y2="615.80" stroke="#1e1e1e" stroke-width="1.2" />
<line x1="113.40" y1="613.00" x2="113.40" y2="615.80" stroke="#1e1e1e" stroke-width="1.2" />
<line x1="85.40" y1="555.20" x2="115.00" y2="555.20" stroke="#1e1e1e" stroke-width="1.0" />
<text x="100.20" y="556.80" font-size="10.5" text-anchor="middle" stroke="#231f20" stroke-width="0.12" textLength="12.299999999999999" lengthAdjust="spacingAndGlyphs" >***</text>
<text x="85.50" y="625.40" font-size="8.2" text-anchor="middle" stroke="#231f20" stroke-width="0.12" textLength="25.4" lengthAdjust="spacingAndGlyphs" >Isotype</text>
<text x="113.40" y="625.40" font-size="8.2" text-anchor="middle" fill="#3a72ab" stroke="#3a72ab" stroke-width="0.12" textLength="15.5" lengthAdjust="spacingAndGlyphs" >7C6-</text>
<text x="113.40" y="634.40" font-size="8.2" text-anchor="middle" fill="#3a72ab" stroke="#3a72ab" stroke-width="0.12" textLength="27.2" lengthAdjust="spacingAndGlyphs" >mIgG2a</text>
<rect x="184.05" y="565.55" width="16.20" height="47.45" fill="#e5899a" stroke="#e07a8c" stroke-width="0.7" />
<rect x="211.45" y="589.15" width="16.40" height="23.85" fill="#87a9cb" stroke="#7a9fc4" stroke-width="0.7" />
<line x1="192.10" y1="560.10" x2="192.10" y2="577.90" stroke="#2b2b2b" stroke-width="1.0" />
<line x1="187.30" y1="560.10" x2="196.90" y2="560.10" stroke="#2b2b2b" stroke-width="1.0" />
<line x1="187.30" y1="577.90" x2="196.90" y2="577.90" stroke="#2b2b2b" stroke-width="1.0" />
<line x1="219.50" y1="583.00" x2="219.50" y2="603.50" stroke="#2b2b2b" stroke-width="1.0" />
<line x1="214.70" y1="583.00" x2="224.30" y2="583.00" stroke="#2b2b2b" stroke-width="1.0" />
<line x1="214.70" y1="603.50" x2="224.30" y2="603.50" stroke="#2b2b2b" stroke-width="1.0" />
<circle cx="186.80" cy="560.40" r="1.3" fill="#cc0a2a" />
<circle cx="191.90" cy="559.40" r="1.3" fill="#cc0a2a" />
<circle cx="196.70" cy="560.10" r="1.3" fill="#cc0a2a" />
<circle cx="192.10" cy="563.20" r="1.3" fill="#cc0a2a" />
<circle cx="196.70" cy="564.50" r="1.3" fill="#cc0a2a" />
<circle cx="192.10" cy="573.30" r="1.3" fill="#cc0a2a" />
<circle cx="188.20" cy="577.20" r="1.3" fill="#cc0a2a" />
<circle cx="194.40" cy="579.50" r="1.3" fill="#cc0a2a" />
<circle cx="192.10" cy="590.30" r="1.3" fill="#cc0a2a" />
<circle cx="219.20" cy="579.50" r="1.3" fill="#0f4d8e" />
<circle cx="214.20" cy="583.00" r="1.3" fill="#0f4d8e" />
<circle cx="224.60" cy="583.00" r="1.3" fill="#0f4d8e" />
<circle cx="217.60" cy="588.30" r="1.3" fill="#0f4d8e" />
<circle cx="222.30" cy="588.30" r="1.3" fill="#0f4d8e" />
<circle cx="215.80" cy="602.70" r="1.3" fill="#0f4d8e" />
<circle cx="222.60" cy="602.70" r="1.3" fill="#0f4d8e" />
<circle cx="219.50" cy="605.80" r="1.3" fill="#0f4d8e" />
<line x1="173.40" y1="549.40" x2="173.40" y2="613.00" stroke="#1e1e1e" stroke-width="1.2" />
<line x1="170.40" y1="549.40" x2="173.40" y2="549.40" stroke="#1e1e1e" stroke-width="1.2" />
<text stroke="#231f20" stroke-width="0.12" x="166.80" y="552.10" font-size="7.5" text-anchor="end">10<tspan dy="-3.4" font-size="5.5">7</tspan></text>
<line x1="170.40" y1="560.00" x2="173.40" y2="560.00" stroke="#1e1e1e" stroke-width="1.2" />
<text stroke="#231f20" stroke-width="0.12" x="166.80" y="562.70" font-size="7.5" text-anchor="end">10<tspan dy="-3.4" font-size="5.5">6</tspan></text>
<line x1="170.40" y1="570.60" x2="173.40" y2="570.60" stroke="#1e1e1e" stroke-width="1.2" />
<text stroke="#231f20" stroke-width="0.12" x="166.80" y="573.30" font-size="7.5" text-anchor="end">10<tspan dy="-3.4" font-size="5.5">5</tspan></text>
<line x1="170.40" y1="581.20" x2="173.40" y2="581.20" stroke="#1e1e1e" stroke-width="1.2" />
<text stroke="#231f20" stroke-width="0.12" x="166.80" y="583.90" font-size="7.5" text-anchor="end">10<tspan dy="-3.4" font-size="5.5">4</tspan></text>
<line x1="170.40" y1="591.80" x2="173.40" y2="591.80" stroke="#1e1e1e" stroke-width="1.2" />
<text stroke="#231f20" stroke-width="0.12" x="166.80" y="594.50" font-size="7.5" text-anchor="end">10<tspan dy="-3.4" font-size="5.5">3</tspan></text>
<line x1="170.40" y1="602.40" x2="173.40" y2="602.40" stroke="#1e1e1e" stroke-width="1.2" />
<text stroke="#231f20" stroke-width="0.12" x="166.80" y="605.10" font-size="7.5" text-anchor="end">10<tspan dy="-3.4" font-size="5.5">2</tspan></text>
<line x1="170.40" y1="613.00" x2="173.40" y2="613.00" stroke="#1e1e1e" stroke-width="1.2" />
<text stroke="#231f20" stroke-width="0.12" x="166.80" y="615.70" font-size="7.5" text-anchor="end">10<tspan dy="-3.4" font-size="5.5">1</tspan></text>
<line x1="173.40" y1="613.00" x2="238.00" y2="613.00" stroke="#1e1e1e" stroke-width="1.2" />
<line x1="192.10" y1="613.00" x2="192.10" y2="615.80" stroke="#1e1e1e" stroke-width="1.2" />
<line x1="219.50" y1="613.00" x2="219.50" y2="615.80" stroke="#1e1e1e" stroke-width="1.2" />
<line x1="192.90" y1="555.80" x2="223.00" y2="555.80" stroke="#1e1e1e" stroke-width="1.0" />
<text x="207.95" y="557.40" font-size="10.5" text-anchor="middle" stroke="#231f20" stroke-width="0.12" textLength="12.299999999999999" lengthAdjust="spacingAndGlyphs" >***</text>
<text x="192.10" y="625.40" font-size="8.2" text-anchor="middle" stroke="#231f20" stroke-width="0.12" textLength="25.4" lengthAdjust="spacingAndGlyphs" >Isotype</text>
<text x="219.50" y="625.40" font-size="8.2" text-anchor="middle" fill="#3a72ab" stroke="#3a72ab" stroke-width="0.12" textLength="15.5" lengthAdjust="spacingAndGlyphs" >7C6-</text>
<text x="219.50" y="634.40" font-size="8.2" text-anchor="middle" fill="#3a72ab" stroke="#3a72ab" stroke-width="0.12" textLength="27.2" lengthAdjust="spacingAndGlyphs" >mIgG2a</text>
<text x="304.30" y="531.30" font-size="11" fill="#000" font-weight="bold" >J</text>
<line x1="335.10" y1="525.60" x2="335.10" y2="615.20" stroke="#1e1e1e" stroke-width="1.2" />
<line x1="331.60" y1="533.90" x2="335.10" y2="533.90" stroke="#1e1e1e" stroke-width="1.2" />
<text x="327.60" y="536.60" font-size="7.6" text-anchor="end" stroke="#231f20" stroke-width="0.12" >100</text>
<line x1="331.60" y1="574.55" x2="335.10" y2="574.55" stroke="#1e1e1e" stroke-width="1.2" />
<text x="327.60" y="577.25" font-size="7.6" text-anchor="end" stroke="#231f20" stroke-width="0.12" >50</text>
<line x1="331.60" y1="615.20" x2="335.10" y2="615.20" stroke="#1e1e1e" stroke-width="1.2" />
<text x="327.60" y="617.90" font-size="7.6" text-anchor="end" stroke="#231f20" stroke-width="0.12" >0</text>
<line x1="335.10" y1="615.20" x2="482.50" y2="615.20" stroke="#1e1e1e" stroke-width="1.2" />
<line x1="335.10" y1="615.20" x2="335.10" y2="618.20" stroke="#1e1e1e" stroke-width="1.2" />
<text x="335.10" y="626.70" font-size="7.6" text-anchor="middle" stroke="#231f20" stroke-width="0.12" >0</text>
<line x1="377.15" y1="615.20" x2="377.15" y2="618.20" stroke="#1e1e1e" stroke-width="1.2" />
<text x="377.15" y="626.70" font-size="7.6" text-anchor="middle" stroke="#231f20" stroke-width="0.12" >10</text>
<line x1="419.20" y1="615.20" x2="419.20" y2="618.20" stroke="#1e1e1e" stroke-width="1.2" />
<text x="419.20" y="626.70" font-size="7.6" text-anchor="middle" stroke="#231f20" stroke-width="0.12" >20</text>
<line x1="461.25" y1="615.20" x2="461.25" y2="618.20" stroke="#1e1e1e" stroke-width="1.2" />
<text x="461.25" y="626.70" font-size="7.6" text-anchor="middle" stroke="#231f20" stroke-width="0.12" >30</text>
<path d="M335.10,533.90 H410.79 V539.35 H423.41 V555.61 H427.61 V566.42 H440.23 V582.68 H444.43 V598.94 H448.63 V604.39 H461.25 V615.20" stroke="#1b5796" stroke-width="1.5" fill="none" />
<path d="M335.10,533.90 H389.77 V539.35 H398.18 V550.16 H410.79 V560.97 H415.00 V593.49 H419.20 V604.39 H423.41 V615.20" stroke="#cf1f40" stroke-width="1.5" fill="none" />
<text x="310.50" y="571.30" font-size="9.5" text-anchor="middle" stroke="#231f20" stroke-width="0.12" textLength="53" lengthAdjust="spacingAndGlyphs" transform="rotate(-90 310.50 571.30)" >Percent survival</text>
<text x="408.80" y="640.00" font-size="9.5" text-anchor="middle" stroke="#231f20" stroke-width="0.12" textLength="15.5" lengthAdjust="spacingAndGlyphs" >Days</text>
<text stroke="#231f20" stroke-width="0.12" x="343.6" y="603.6" font-size="8.4" textLength="29" lengthAdjust="spacingAndGlyphs"><tspan font-style="italic">p</tspan>&lt;0.001</text>
<text x="338.80" y="561.30" font-size="8.4" fill="#cf1f40" stroke="#cf1f40" stroke-width="0.12" textLength="51" lengthAdjust="spacingAndGlyphs" >Isotype (n=15)</text>
<text x="338.80" y="576.30" font-size="8.4" fill="#3a72ab" stroke="#3a72ab" stroke-width="0.12" textLength="15.5" lengthAdjust="spacingAndGlyphs" >7C6-</text>
<text x="338.80" y="585.00" font-size="8.4" fill="#3a72ab" stroke="#3a72ab" stroke-width="0.12" textLength="53.5" lengthAdjust="spacingAndGlyphs" >mIgG2a (n=15)</text>
<rect x="0.50" y="0.50" width="519.00" height="645.00" fill="none" stroke="#000" stroke-width="1.2" />
</svg></body></html>
